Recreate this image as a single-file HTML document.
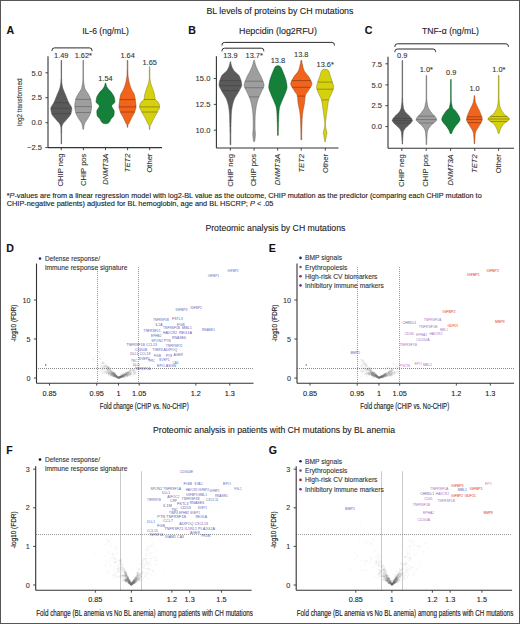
<!DOCTYPE html>
<html><head><meta charset="utf-8"><style>
html,body{margin:0;padding:0;background:#fff;}
#wrap{position:relative;width:520px;height:624px;overflow:hidden;background:#fff;}
svg{position:absolute;left:0;top:0;}
svg text{font-family:"Liberation Sans", sans-serif;}
</style></head><body><div id="wrap">
<svg width="520" height="624" viewBox="0 0 520 624">
<rect x="0.5" y="0.5" width="519" height="623" fill="#fff" stroke="#555" stroke-width="1"/>
<text x="6.50" y="34.40" font-size="10.6" fill="#111" stroke="#111" stroke-width="0.1" font-weight="bold" >A</text>
<text x="105.50" y="34.40" font-size="8.7" fill="#222" stroke="#222" stroke-width="0.1" text-anchor="middle" textLength="46.50" lengthAdjust="spacingAndGlyphs" >IL-6 (ng/mL)</text>
<text x="21.60" y="102.30" font-size="7.2" fill="#333" stroke="#333" stroke-width="0.1" text-anchor="middle" textLength="47.40" lengthAdjust="spacingAndGlyphs" transform="rotate(-90 21.60 102.30)" >log2 transformed</text>
<line x1="48.00" y1="56.30" x2="48.00" y2="147.60" stroke="#333" stroke-width="1.1" />
<line x1="48.00" y1="147.60" x2="162.00" y2="147.60" stroke="#333" stroke-width="1.1" />
<line x1="45.40" y1="72.80" x2="48.00" y2="72.80" stroke="#333" stroke-width="0.9" />
<text x="42.00" y="75.50" font-size="7.6" fill="#333" stroke="#333" stroke-width="0.1" text-anchor="end" >5.0</text>
<line x1="45.40" y1="97.70" x2="48.00" y2="97.70" stroke="#333" stroke-width="0.9" />
<text x="42.00" y="100.40" font-size="7.6" fill="#333" stroke="#333" stroke-width="0.1" text-anchor="end" >2.5</text>
<line x1="45.40" y1="122.70" x2="48.00" y2="122.70" stroke="#333" stroke-width="0.9" />
<text x="42.00" y="125.40" font-size="7.6" fill="#333" stroke="#333" stroke-width="0.1" text-anchor="end" >0.0</text>
<line x1="45.40" y1="147.60" x2="48.00" y2="147.60" stroke="#333" stroke-width="0.9" />
<text x="42.00" y="150.30" font-size="7.6" fill="#333" stroke="#333" stroke-width="0.1" text-anchor="end" >−2.5</text>
<line x1="61.20" y1="147.60" x2="61.20" y2="150.20" stroke="#333" stroke-width="0.9" />
<text x="63.50" y="153.60" font-size="7.6" fill="#333" stroke="#333" stroke-width="0.1" text-anchor="end" transform="rotate(-90 63.50 153.60)" >CHIP neg</text>
<line x1="83.40" y1="147.60" x2="83.40" y2="150.20" stroke="#333" stroke-width="0.9" />
<text x="85.70" y="153.60" font-size="7.6" fill="#333" stroke="#333" stroke-width="0.1" text-anchor="end" transform="rotate(-90 85.70 153.60)" >CHIP pos</text>
<line x1="105.50" y1="147.60" x2="105.50" y2="150.20" stroke="#333" stroke-width="0.9" />
<text x="107.80" y="153.60" font-size="7.6" fill="#333" stroke="#333" stroke-width="0.1" text-anchor="end" font-style="italic" transform="rotate(-90 107.80 153.60)" >DNMT3A</text>
<line x1="127.60" y1="147.60" x2="127.60" y2="150.20" stroke="#333" stroke-width="0.9" />
<text x="129.90" y="153.60" font-size="7.6" fill="#333" stroke="#333" stroke-width="0.1" text-anchor="end" font-style="italic" transform="rotate(-90 129.90 153.60)" >TET2</text>
<line x1="149.70" y1="147.60" x2="149.70" y2="150.20" stroke="#333" stroke-width="0.9" />
<text x="152.00" y="153.60" font-size="7.6" fill="#333" stroke="#333" stroke-width="0.1" text-anchor="end" transform="rotate(-90 152.00 153.60)" >Other</text>
<path d="M52.00,51.10 L52.00,50.40 Q52.00,47.90 54.50,47.90 L89.50,47.90 Q92.00,47.90 92.00,50.40 L92.00,51.10" fill="none" stroke="#2a2a2a" stroke-width="1.0"/>
<text x="61.30" y="57.80" font-size="7.4" fill="#333" stroke="#333" stroke-width="0.1" text-anchor="middle" >1.49</text>
<text x="83.30" y="57.80" font-size="7.4" fill="#333" stroke="#333" stroke-width="0.1" text-anchor="middle" >1.62*</text>
<text x="105.50" y="80.60" font-size="7.4" fill="#333" stroke="#333" stroke-width="0.1" text-anchor="middle" >1.54</text>
<text x="127.60" y="57.80" font-size="7.4" fill="#333" stroke="#333" stroke-width="0.1" text-anchor="middle" >1.64</text>
<text x="149.70" y="64.80" font-size="7.4" fill="#333" stroke="#333" stroke-width="0.1" text-anchor="middle" >1.65</text>
<path d="M61.6,60.3 61.6,60.8 61.6,61.3 61.6,61.8 61.6,62.3 61.6,62.8 61.6,63.3 61.6,63.8 61.6,64.3 61.6,64.8 61.6,65.3 61.6,65.8 61.6,66.3 61.6,66.8 61.6,67.3 61.6,67.8 61.6,68.3 61.6,68.8 61.6,69.3 61.6,69.8 61.6,70.3 61.6,70.8 61.6,71.3 61.6,71.8 61.6,72.3 61.6,72.8 61.6,73.3 61.6,73.8 61.6,74.3 61.6,74.8 61.6,75.3 61.6,75.8 61.6,76.3 61.6,76.8 61.6,77.3 61.6,77.8 61.6,78.3 61.6,78.8 61.7,79.3 61.7,79.8 61.7,80.3 61.7,80.8 61.7,81.3 61.7,81.8 61.8,82.3 61.8,82.8 61.9,83.3 62.0,83.8 62.0,84.3 62.1,84.8 62.2,85.3 62.3,85.8 62.4,86.3 62.5,86.8 62.6,87.3 62.7,87.8 62.9,88.3 63.0,88.8 63.2,89.3 63.4,89.8 63.6,90.3 63.8,90.8 64.0,91.3 64.2,91.8 64.4,92.3 64.6,92.8 64.9,93.3 65.1,93.8 65.3,94.3 65.5,94.8 65.7,95.3 65.9,95.8 66.1,96.3 66.3,96.8 66.5,97.3 66.7,97.8 66.9,98.3 67.1,98.8 67.3,99.3 67.5,99.8 67.7,100.3 67.9,100.8 68.1,101.3 68.3,101.8 68.6,102.3 68.8,102.8 69.1,103.3 69.4,103.8 69.7,104.3 70.1,104.8 70.4,105.3 70.7,105.8 71.0,106.3 71.3,106.8 71.5,107.3 71.7,107.8 71.8,108.3 71.8,108.8 71.8,109.3 71.7,109.8 71.7,110.3 71.6,110.8 71.5,111.3 71.4,111.8 71.3,112.3 71.1,112.8 71.0,113.3 70.9,113.8 70.7,114.3 70.4,114.8 70.1,115.3 69.8,115.8 69.4,116.3 69.0,116.8 68.6,117.3 68.1,117.8 67.7,118.3 67.2,118.8 66.8,119.3 66.4,119.8 66.0,120.3 65.5,120.8 65.1,121.3 64.6,121.8 64.1,122.3 63.7,122.8 63.3,123.3 62.9,123.8 62.7,124.3 62.5,124.8 62.3,125.3 62.1,125.8 62.0,126.3 61.9,126.8 61.8,127.3 61.7,127.8 61.7,128.3 61.7,128.8 61.7,129.3 61.7,129.8 61.7,130.3 61.7,130.8 61.7,131.3 61.7,131.8 61.7,132.3 61.7,132.8 61.6,133.3 61.6,133.8 61.6,134.3 61.6,134.8 61.6,135.3 61.6,135.8 61.6,136.3 61.6,136.8 61.6,137.3 61.6,137.8 61.6,138.3 61.6,138.8 61.6,139.3 61.6,139.8 61.6,140.3 61.6,140.8 61.6,141.3 61.6,141.8 61.6,142.3 61.6,142.8 61.6,143.3 61.6,143.8 61.0,143.8 61.0,143.3 61.0,142.8 61.0,142.3 61.0,141.8 61.0,141.3 61.0,140.8 61.0,140.3 61.0,139.8 61.0,139.3 61.0,138.8 61.0,138.3 61.0,137.8 61.0,137.3 61.0,136.8 61.0,136.3 61.0,135.8 61.0,135.3 61.0,134.8 61.0,134.3 61.0,133.8 61.0,133.3 60.9,132.8 60.9,132.3 60.9,131.8 60.9,131.3 60.9,130.8 60.9,130.3 60.9,129.8 60.9,129.3 60.9,128.8 60.9,128.3 60.9,127.8 60.8,127.3 60.7,126.8 60.6,126.3 60.5,125.8 60.3,125.3 60.1,124.8 59.9,124.3 59.7,123.8 59.3,123.3 58.9,122.8 58.5,122.3 58.0,121.8 57.5,121.3 57.1,120.8 56.6,120.3 56.2,119.8 55.8,119.3 55.4,118.8 54.9,118.3 54.5,117.8 54.0,117.3 53.6,116.8 53.2,116.3 52.8,115.8 52.5,115.3 52.2,114.8 51.9,114.3 51.7,113.8 51.6,113.3 51.5,112.8 51.3,112.3 51.2,111.8 51.1,111.3 51.0,110.8 50.9,110.3 50.9,109.8 50.8,109.3 50.8,108.8 50.8,108.3 50.9,107.8 51.1,107.3 51.3,106.8 51.6,106.3 51.9,105.8 52.2,105.3 52.5,104.8 52.9,104.3 53.2,103.8 53.5,103.3 53.8,102.8 54.0,102.3 54.3,101.8 54.5,101.3 54.7,100.8 54.9,100.3 55.1,99.8 55.3,99.3 55.5,98.8 55.7,98.3 55.9,97.8 56.1,97.3 56.3,96.8 56.5,96.3 56.7,95.8 56.9,95.3 57.1,94.8 57.3,94.3 57.5,93.8 57.7,93.3 58.0,92.8 58.2,92.3 58.4,91.8 58.6,91.3 58.8,90.8 59.0,90.3 59.2,89.8 59.4,89.3 59.6,88.8 59.7,88.3 59.9,87.8 60.0,87.3 60.1,86.8 60.2,86.3 60.3,85.8 60.4,85.3 60.5,84.8 60.6,84.3 60.6,83.8 60.7,83.3 60.8,82.8 60.8,82.3 60.9,81.8 60.9,81.3 60.9,80.8 60.9,80.3 60.9,79.8 60.9,79.3 61.0,78.8 61.0,78.3 61.0,77.8 61.0,77.3 61.0,76.8 61.0,76.3 61.0,75.8 61.0,75.3 61.0,74.8 61.0,74.3 61.0,73.8 61.0,73.3 61.0,72.8 61.0,72.3 61.0,71.8 61.0,71.3 61.0,70.8 61.0,70.3 61.0,69.8 61.0,69.3 61.0,68.8 61.0,68.3 61.0,67.8 61.0,67.3 61.0,66.8 61.0,66.3 61.0,65.8 61.0,65.3 61.0,64.8 61.0,64.3 61.0,63.8 61.0,63.3 61.0,62.8 61.0,62.3 61.0,61.8 61.0,61.3 61.0,60.8 61.0,60.3Z" fill="#5a5a5a" stroke="#505050" stroke-width="0.5"/>
<line x1="53.90" y1="102.60" x2="68.70" y2="102.60" stroke="#3c3c3c" stroke-width="0.5" />
<line x1="50.83" y1="108.20" x2="71.77" y2="108.20" stroke="#3c3c3c" stroke-width="0.5" />
<line x1="51.70" y1="113.70" x2="70.90" y2="113.70" stroke="#3c3c3c" stroke-width="0.5" />
<path d="M83.5,60.3 83.5,60.8 83.5,61.3 83.5,61.8 83.5,62.3 83.5,62.8 83.5,63.3 83.5,63.8 83.5,64.3 83.5,64.8 83.5,65.3 83.5,65.8 83.5,66.3 83.5,66.8 83.5,67.3 83.5,67.8 83.5,68.3 83.5,68.8 83.5,69.3 83.5,69.8 83.5,70.3 83.5,70.8 83.5,71.3 83.5,71.8 83.5,72.3 83.5,72.8 83.5,73.3 83.5,73.8 83.5,74.3 83.5,74.8 83.5,75.3 83.5,75.8 83.5,76.3 83.5,76.8 83.5,77.3 83.5,77.8 83.5,78.3 83.5,78.8 83.6,79.3 83.6,79.8 83.6,80.3 83.6,80.8 83.6,81.3 83.7,81.8 83.7,82.3 83.8,82.8 83.9,83.3 83.9,83.8 84.0,84.3 84.1,84.8 84.2,85.3 84.3,85.8 84.4,86.3 84.4,86.8 84.5,87.3 84.7,87.8 84.8,88.3 85.0,88.8 85.2,89.3 85.5,89.8 85.8,90.3 86.1,90.8 86.4,91.3 86.8,91.8 87.1,92.3 87.5,92.8 87.8,93.3 88.1,93.8 88.4,94.3 88.7,94.8 89.0,95.3 89.2,95.8 89.5,96.3 89.7,96.8 90.0,97.3 90.2,97.8 90.4,98.3 90.5,98.8 90.7,99.3 90.8,99.8 90.9,100.3 91.0,100.8 91.1,101.3 91.1,101.8 91.2,102.3 91.3,102.8 91.4,103.3 91.4,103.8 91.5,104.3 91.5,104.8 91.6,105.3 91.6,105.8 91.6,106.3 91.6,106.8 91.6,107.3 91.5,107.8 91.5,108.3 91.4,108.8 91.4,109.3 91.3,109.8 91.2,110.3 91.1,110.8 91.0,111.3 90.9,111.8 90.7,112.3 90.6,112.8 90.5,113.3 90.3,113.8 90.1,114.3 89.8,114.8 89.6,115.3 89.3,115.8 89.0,116.3 88.8,116.8 88.5,117.3 88.2,117.8 87.9,118.3 87.6,118.8 87.3,119.3 87.0,119.8 86.6,120.3 86.3,120.8 85.9,121.3 85.6,121.8 85.2,122.3 85.0,122.8 84.7,123.3 84.6,123.8 84.4,124.3 84.3,124.8 84.1,125.3 84.0,125.8 83.9,126.3 83.9,126.8 83.8,127.3 83.7,127.8 83.6,128.3 83.6,128.8 83.5,129.3 82.9,129.3 82.8,128.8 82.8,128.3 82.7,127.8 82.6,127.3 82.5,126.8 82.5,126.3 82.4,125.8 82.3,125.3 82.1,124.8 82.0,124.3 81.8,123.8 81.7,123.3 81.4,122.8 81.2,122.3 80.8,121.8 80.5,121.3 80.1,120.8 79.8,120.3 79.4,119.8 79.1,119.3 78.8,118.8 78.5,118.3 78.2,117.8 77.9,117.3 77.6,116.8 77.4,116.3 77.1,115.8 76.8,115.3 76.6,114.8 76.3,114.3 76.1,113.8 75.9,113.3 75.8,112.8 75.7,112.3 75.5,111.8 75.4,111.3 75.3,110.8 75.2,110.3 75.1,109.8 75.0,109.3 75.0,108.8 74.9,108.3 74.9,107.8 74.8,107.3 74.8,106.8 74.8,106.3 74.8,105.8 74.8,105.3 74.9,104.8 74.9,104.3 75.0,103.8 75.0,103.3 75.1,102.8 75.2,102.3 75.3,101.8 75.3,101.3 75.4,100.8 75.5,100.3 75.6,99.8 75.7,99.3 75.9,98.8 76.0,98.3 76.2,97.8 76.4,97.3 76.7,96.8 76.9,96.3 77.2,95.8 77.4,95.3 77.7,94.8 78.0,94.3 78.3,93.8 78.6,93.3 78.9,92.8 79.3,92.3 79.6,91.8 80.0,91.3 80.3,90.8 80.6,90.3 80.9,89.8 81.2,89.3 81.4,88.8 81.6,88.3 81.7,87.8 81.9,87.3 82.0,86.8 82.0,86.3 82.1,85.8 82.2,85.3 82.3,84.8 82.4,84.3 82.5,83.8 82.5,83.3 82.6,82.8 82.7,82.3 82.7,81.8 82.8,81.3 82.8,80.8 82.8,80.3 82.8,79.8 82.8,79.3 82.9,78.8 82.9,78.3 82.9,77.8 82.9,77.3 82.9,76.8 82.9,76.3 82.9,75.8 82.9,75.3 82.9,74.8 82.9,74.3 82.9,73.8 82.9,73.3 82.9,72.8 82.9,72.3 82.9,71.8 82.9,71.3 82.9,70.8 82.9,70.3 82.9,69.8 82.9,69.3 82.9,68.8 82.9,68.3 82.9,67.8 82.9,67.3 82.9,66.8 82.9,66.3 82.9,65.8 82.9,65.3 82.9,64.8 82.9,64.3 82.9,63.8 82.9,63.3 82.9,62.8 82.9,62.3 82.9,61.8 82.9,61.3 82.9,60.8 82.9,60.3Z" fill="#9e9e9e" stroke="#5a5a5a" stroke-width="0.5"/>
<line x1="75.70" y1="99.40" x2="90.70" y2="99.40" stroke="#505050" stroke-width="0.5" />
<line x1="74.80" y1="106.60" x2="91.60" y2="106.60" stroke="#505050" stroke-width="0.5" />
<line x1="75.70" y1="112.50" x2="90.70" y2="112.50" stroke="#505050" stroke-width="0.5" />
<path d="M105.9,83.3 105.9,83.8 106.0,84.3 106.1,84.8 106.3,85.3 106.4,85.8 106.6,86.3 106.8,86.8 107.1,87.3 107.4,87.8 107.8,88.3 108.1,88.8 108.5,89.3 109.0,89.8 109.5,90.3 110.0,90.8 110.5,91.3 111.0,91.8 111.4,92.3 111.7,92.8 112.0,93.3 112.4,93.8 112.7,94.3 113.0,94.8 113.3,95.3 113.6,95.8 113.9,96.3 114.1,96.8 114.2,97.3 114.4,97.8 114.5,98.3 114.6,98.8 114.7,99.3 114.7,99.8 114.8,100.3 114.9,100.8 114.9,101.3 114.9,101.8 114.8,102.3 114.5,102.8 114.0,103.3 113.5,103.8 112.9,104.3 112.4,104.8 111.9,105.3 111.7,105.8 111.7,106.3 111.9,106.8 112.1,107.3 112.4,107.8 112.7,108.3 113.1,108.8 113.4,109.3 113.7,109.8 114.0,110.3 114.1,110.8 114.2,111.3 114.2,111.8 114.2,112.3 114.2,112.8 114.1,113.3 114.1,113.8 114.0,114.3 114.0,114.8 113.9,115.3 113.8,115.8 113.5,116.3 113.1,116.8 112.6,117.3 112.1,117.8 111.7,118.3 111.2,118.8 110.9,119.3 110.6,119.8 110.4,120.3 110.1,120.8 109.8,121.3 109.5,121.8 109.1,122.3 108.7,122.8 107.9,123.3 105.8,123.8 105.2,123.8 103.1,123.3 102.3,122.8 101.9,122.3 101.5,121.8 101.2,121.3 100.9,120.8 100.6,120.3 100.4,119.8 100.1,119.3 99.8,118.8 99.3,118.3 98.9,117.8 98.4,117.3 97.9,116.8 97.5,116.3 97.2,115.8 97.1,115.3 97.0,114.8 97.0,114.3 96.9,113.8 96.9,113.3 96.8,112.8 96.8,112.3 96.8,111.8 96.8,111.3 96.9,110.8 97.0,110.3 97.3,109.8 97.6,109.3 97.9,108.8 98.3,108.3 98.6,107.8 98.9,107.3 99.1,106.8 99.3,106.3 99.3,105.8 99.1,105.3 98.6,104.8 98.1,104.3 97.5,103.8 97.0,103.3 96.5,102.8 96.2,102.3 96.1,101.8 96.1,101.3 96.1,100.8 96.2,100.3 96.3,99.8 96.3,99.3 96.4,98.8 96.5,98.3 96.6,97.8 96.8,97.3 96.9,96.8 97.1,96.3 97.4,95.8 97.7,95.3 98.0,94.8 98.3,94.3 98.6,93.8 99.0,93.3 99.3,92.8 99.6,92.3 100.0,91.8 100.5,91.3 101.0,90.8 101.5,90.3 102.0,89.8 102.5,89.3 102.9,88.8 103.2,88.3 103.6,87.8 103.9,87.3 104.2,86.8 104.4,86.3 104.6,85.8 104.7,85.3 104.9,84.8 105.0,84.3 105.1,83.8 105.1,83.3Z" fill="#14803a" stroke="#0f4d1d" stroke-width="0.5"/>
<path d="M127.8,60.3 127.8,60.8 127.8,61.3 127.8,61.8 127.8,62.3 127.8,62.8 127.8,63.3 127.8,63.8 127.8,64.3 127.8,64.8 127.8,65.3 127.8,65.8 127.8,66.3 127.8,66.8 127.8,67.3 127.8,67.8 127.8,68.3 127.8,68.8 127.8,69.3 127.8,69.8 127.8,70.3 127.9,70.8 127.9,71.3 127.9,71.8 127.9,72.3 127.9,72.8 127.9,73.3 127.9,73.8 127.9,74.3 128.0,74.8 128.0,75.3 128.0,75.8 128.1,76.3 128.2,76.8 128.3,77.3 128.3,77.8 128.4,78.3 128.5,78.8 128.6,79.3 128.7,79.8 128.7,80.3 128.8,80.8 128.9,81.3 129.0,81.8 129.1,82.3 129.3,82.8 129.4,83.3 129.5,83.8 129.7,84.3 129.8,84.8 130.0,85.3 130.1,85.8 130.3,86.3 130.5,86.8 130.7,87.3 130.9,87.8 131.1,88.3 131.3,88.8 131.5,89.3 131.7,89.8 131.9,90.3 132.2,90.8 132.5,91.3 132.8,91.8 133.1,92.3 133.4,92.8 133.7,93.3 134.0,93.8 134.2,94.3 134.4,94.8 134.5,95.3 134.6,95.8 134.7,96.3 134.8,96.8 134.9,97.3 135.0,97.8 135.1,98.3 135.2,98.8 135.2,99.3 135.3,99.8 135.4,100.3 135.4,100.8 135.5,101.3 135.6,101.8 135.6,102.3 135.7,102.8 135.8,103.3 135.8,103.8 135.9,104.3 135.9,104.8 136.0,105.3 136.0,105.8 136.0,106.3 136.0,106.8 136.0,107.3 135.9,107.8 135.8,108.3 135.7,108.8 135.5,109.3 135.4,109.8 135.2,110.3 135.0,110.8 134.8,111.3 134.7,111.8 134.5,112.3 134.3,112.8 134.1,113.3 133.8,113.8 133.6,114.3 133.3,114.8 133.0,115.3 132.7,115.8 132.4,116.3 132.1,116.8 131.9,117.3 131.6,117.8 131.4,118.3 131.1,118.8 130.9,119.3 130.7,119.8 130.4,120.3 130.2,120.8 130.0,121.3 129.8,121.8 129.5,122.3 129.3,122.8 129.0,123.3 128.7,123.8 128.3,124.3 128.0,124.8 127.9,125.3 127.9,125.8 127.8,126.3 127.8,126.8 127.8,127.3 127.2,127.3 127.2,126.8 127.2,126.3 127.1,125.8 127.1,125.3 127.0,124.8 126.7,124.3 126.3,123.8 126.0,123.3 125.7,122.8 125.5,122.3 125.2,121.8 125.0,121.3 124.8,120.8 124.6,120.3 124.3,119.8 124.1,119.3 123.9,118.8 123.6,118.3 123.4,117.8 123.1,117.3 122.9,116.8 122.6,116.3 122.3,115.8 122.0,115.3 121.7,114.8 121.4,114.3 121.2,113.8 120.9,113.3 120.7,112.8 120.5,112.3 120.3,111.8 120.2,111.3 120.0,110.8 119.8,110.3 119.6,109.8 119.5,109.3 119.3,108.8 119.2,108.3 119.1,107.8 119.0,107.3 119.0,106.8 119.0,106.3 119.0,105.8 119.0,105.3 119.1,104.8 119.1,104.3 119.2,103.8 119.2,103.3 119.3,102.8 119.4,102.3 119.4,101.8 119.5,101.3 119.6,100.8 119.6,100.3 119.7,99.8 119.8,99.3 119.8,98.8 119.9,98.3 120.0,97.8 120.1,97.3 120.2,96.8 120.3,96.3 120.4,95.8 120.5,95.3 120.6,94.8 120.8,94.3 121.0,93.8 121.3,93.3 121.6,92.8 121.9,92.3 122.2,91.8 122.5,91.3 122.8,90.8 123.1,90.3 123.3,89.8 123.5,89.3 123.7,88.8 123.9,88.3 124.1,87.8 124.3,87.3 124.5,86.8 124.7,86.3 124.9,85.8 125.0,85.3 125.2,84.8 125.3,84.3 125.5,83.8 125.6,83.3 125.7,82.8 125.9,82.3 126.0,81.8 126.1,81.3 126.2,80.8 126.3,80.3 126.3,79.8 126.4,79.3 126.5,78.8 126.6,78.3 126.7,77.8 126.7,77.3 126.8,76.8 126.9,76.3 127.0,75.8 127.0,75.3 127.0,74.8 127.1,74.3 127.1,73.8 127.1,73.3 127.1,72.8 127.1,72.3 127.1,71.8 127.1,71.3 127.1,70.8 127.2,70.3 127.2,69.8 127.2,69.3 127.2,68.8 127.2,68.3 127.2,67.8 127.2,67.3 127.2,66.8 127.2,66.3 127.2,65.8 127.2,65.3 127.2,64.8 127.2,64.3 127.2,63.8 127.2,63.3 127.2,62.8 127.2,62.3 127.2,61.8 127.2,61.3 127.2,60.8 127.2,60.3Z" fill="#f2641c" stroke="#8f3a0e" stroke-width="0.5"/>
<line x1="119.74" y1="99.60" x2="135.26" y2="99.60" stroke="#5a2a0a" stroke-width="0.5" />
<line x1="119.01" y1="106.90" x2="135.99" y2="106.90" stroke="#5a2a0a" stroke-width="0.5" />
<line x1="120.40" y1="112.00" x2="134.60" y2="112.00" stroke="#5a2a0a" stroke-width="0.5" />
<path d="M149.8,66.5 149.8,67.0 149.8,67.5 149.8,68.0 149.8,68.5 149.8,69.0 149.8,69.5 149.9,70.0 149.9,70.5 149.9,71.0 149.9,71.5 149.9,72.0 149.9,72.5 149.9,73.0 149.9,73.5 149.9,74.0 149.9,74.5 149.9,75.0 149.9,75.5 149.9,76.0 149.9,76.5 149.9,77.0 149.9,77.5 150.0,78.0 150.0,78.5 150.0,79.0 150.1,79.5 150.1,80.0 150.2,80.5 150.3,81.0 150.4,81.5 150.5,82.0 150.6,82.5 150.7,83.0 150.8,83.5 151.0,84.0 151.1,84.5 151.3,85.0 151.5,85.5 151.7,86.0 151.9,86.5 152.1,87.0 152.3,87.5 152.4,88.0 152.6,88.5 152.8,89.0 152.9,89.5 153.1,90.0 153.3,90.5 153.4,91.0 153.6,91.5 153.8,92.0 153.9,92.5 154.1,93.0 154.2,93.5 154.3,94.0 154.5,94.5 154.6,95.0 154.7,95.5 154.7,96.0 154.8,96.5 154.8,97.0 154.9,97.5 154.9,98.0 155.0,98.5 155.1,99.0 155.3,99.5 155.8,100.0 156.4,100.5 157.1,101.0 157.6,101.5 158.0,102.0 158.3,102.5 158.6,103.0 158.9,103.5 159.1,104.0 159.3,104.5 159.4,105.0 159.5,105.5 159.5,106.0 159.6,106.5 159.6,107.0 159.5,107.5 159.4,108.0 159.3,108.5 159.0,109.0 158.8,109.5 158.5,110.0 158.2,110.5 157.9,111.0 157.7,111.5 157.4,112.0 157.2,112.5 156.9,113.0 156.6,113.5 156.3,114.0 156.1,114.5 155.8,115.0 155.5,115.5 155.2,116.0 154.9,116.5 154.6,117.0 154.4,117.5 154.1,118.0 153.8,118.5 153.6,119.0 153.3,119.5 153.1,120.0 152.8,120.5 152.6,121.0 152.4,121.5 152.1,122.0 151.9,122.5 151.6,123.0 151.4,123.5 151.1,124.0 150.8,124.5 150.5,125.0 150.2,125.5 150.0,126.0 150.0,126.5 149.9,127.0 149.9,127.5 149.9,128.0 149.9,128.5 149.8,129.0 149.8,129.5 149.4,129.5 149.4,129.0 149.3,128.5 149.3,128.0 149.3,127.5 149.3,127.0 149.2,126.5 149.2,126.0 149.0,125.5 148.7,125.0 148.4,124.5 148.1,124.0 147.8,123.5 147.6,123.0 147.3,122.5 147.1,122.0 146.8,121.5 146.6,121.0 146.4,120.5 146.1,120.0 145.9,119.5 145.6,119.0 145.4,118.5 145.1,118.0 144.8,117.5 144.6,117.0 144.3,116.5 144.0,116.0 143.7,115.5 143.4,115.0 143.1,114.5 142.9,114.0 142.6,113.5 142.3,113.0 142.0,112.5 141.8,112.0 141.5,111.5 141.3,111.0 141.0,110.5 140.7,110.0 140.4,109.5 140.2,109.0 139.9,108.5 139.8,108.0 139.7,107.5 139.6,107.0 139.6,106.5 139.7,106.0 139.7,105.5 139.8,105.0 139.9,104.5 140.1,104.0 140.3,103.5 140.6,103.0 140.9,102.5 141.2,102.0 141.6,101.5 142.1,101.0 142.8,100.5 143.4,100.0 143.9,99.5 144.1,99.0 144.2,98.5 144.3,98.0 144.3,97.5 144.4,97.0 144.4,96.5 144.5,96.0 144.5,95.5 144.6,95.0 144.7,94.5 144.9,94.0 145.0,93.5 145.1,93.0 145.3,92.5 145.4,92.0 145.6,91.5 145.8,91.0 145.9,90.5 146.1,90.0 146.3,89.5 146.4,89.0 146.6,88.5 146.8,88.0 146.9,87.5 147.1,87.0 147.3,86.5 147.5,86.0 147.7,85.5 147.9,85.0 148.1,84.5 148.2,84.0 148.4,83.5 148.5,83.0 148.6,82.5 148.7,82.0 148.8,81.5 148.9,81.0 149.0,80.5 149.1,80.0 149.1,79.5 149.2,79.0 149.2,78.5 149.2,78.0 149.3,77.5 149.3,77.0 149.3,76.5 149.3,76.0 149.3,75.5 149.3,75.0 149.3,74.5 149.3,74.0 149.3,73.5 149.3,73.0 149.3,72.5 149.3,72.0 149.3,71.5 149.3,71.0 149.3,70.5 149.3,70.0 149.4,69.5 149.4,69.0 149.4,68.5 149.4,68.0 149.4,67.5 149.4,67.0 149.4,66.5Z" fill="#d6d10f" stroke="#7d7a10" stroke-width="0.5"/>
<line x1="143.91" y1="99.50" x2="155.29" y2="99.50" stroke="#5a5208" stroke-width="0.5" />
<line x1="139.60" y1="106.90" x2="159.60" y2="106.90" stroke="#5a5208" stroke-width="0.5" />
<line x1="141.80" y1="112.00" x2="157.40" y2="112.00" stroke="#5a5208" stroke-width="0.5" />
<text x="188.20" y="34.30" font-size="10.6" fill="#111" stroke="#111" stroke-width="0.1" font-weight="bold" >B</text>
<text x="278.00" y="34.40" font-size="8.7" fill="#222" stroke="#222" stroke-width="0.1" text-anchor="middle" textLength="78.00" lengthAdjust="spacingAndGlyphs" >Hepcidin (log2RFU)</text>
<line x1="216.40" y1="56.30" x2="216.40" y2="148.00" stroke="#333" stroke-width="1.1" />
<line x1="216.40" y1="148.00" x2="338.50" y2="148.00" stroke="#333" stroke-width="1.1" />
<line x1="213.80" y1="78.50" x2="216.40" y2="78.50" stroke="#333" stroke-width="0.9" />
<text x="210.40" y="81.20" font-size="7.6" fill="#333" stroke="#333" stroke-width="0.1" text-anchor="end" >15.0</text>
<line x1="213.80" y1="104.40" x2="216.40" y2="104.40" stroke="#333" stroke-width="0.9" />
<text x="210.40" y="107.10" font-size="7.6" fill="#333" stroke="#333" stroke-width="0.1" text-anchor="end" >12.5</text>
<line x1="213.80" y1="130.20" x2="216.40" y2="130.20" stroke="#333" stroke-width="0.9" />
<text x="210.40" y="132.90" font-size="7.6" fill="#333" stroke="#333" stroke-width="0.1" text-anchor="end" >10.0</text>
<line x1="230.30" y1="148.00" x2="230.30" y2="150.60" stroke="#333" stroke-width="0.9" />
<text x="232.60" y="154.00" font-size="7.6" fill="#333" stroke="#333" stroke-width="0.1" text-anchor="end" transform="rotate(-90 232.60 154.00)" >CHIP neg</text>
<line x1="254.10" y1="148.00" x2="254.10" y2="150.60" stroke="#333" stroke-width="0.9" />
<text x="256.40" y="154.00" font-size="7.6" fill="#333" stroke="#333" stroke-width="0.1" text-anchor="end" transform="rotate(-90 256.40 154.00)" >CHIP pos</text>
<line x1="277.70" y1="148.00" x2="277.70" y2="150.60" stroke="#333" stroke-width="0.9" />
<text x="280.00" y="154.00" font-size="7.6" fill="#333" stroke="#333" stroke-width="0.1" text-anchor="end" font-style="italic" transform="rotate(-90 280.00 154.00)" >DNMT3A</text>
<line x1="301.20" y1="148.00" x2="301.20" y2="150.60" stroke="#333" stroke-width="0.9" />
<text x="303.50" y="154.00" font-size="7.6" fill="#333" stroke="#333" stroke-width="0.1" text-anchor="end" font-style="italic" transform="rotate(-90 303.50 154.00)" >TET2</text>
<line x1="325.30" y1="148.00" x2="325.30" y2="150.60" stroke="#333" stroke-width="0.9" />
<text x="327.60" y="154.00" font-size="7.6" fill="#333" stroke="#333" stroke-width="0.1" text-anchor="end" transform="rotate(-90 327.60 154.00)" >Other</text>
<path d="M222.00,45.60 L222.00,44.90 Q222.00,42.40 224.50,42.40 L331.90,42.40 Q334.40,42.40 334.40,44.90 L334.40,45.60" fill="none" stroke="#2a2a2a" stroke-width="1.0"/>
<path d="M222.00,51.40 L222.00,50.70 Q222.00,48.20 224.50,48.20 L261.30,48.20 Q263.80,48.20 263.80,50.70 L263.80,51.40" fill="none" stroke="#2a2a2a" stroke-width="1.0"/>
<text x="230.40" y="57.60" font-size="7.4" fill="#333" stroke="#333" stroke-width="0.1" text-anchor="middle" >13.9</text>
<text x="254.20" y="57.60" font-size="7.4" fill="#333" stroke="#333" stroke-width="0.1" text-anchor="middle" >13.7*</text>
<text x="277.90" y="63.00" font-size="7.4" fill="#333" stroke="#333" stroke-width="0.1" text-anchor="middle" >13.8</text>
<text x="301.30" y="57.00" font-size="7.4" fill="#333" stroke="#333" stroke-width="0.1" text-anchor="middle" >13.8</text>
<text x="325.20" y="67.00" font-size="7.4" fill="#333" stroke="#333" stroke-width="0.1" text-anchor="middle" >13.6*</text>
<path d="M230.7,61.8 230.8,62.3 230.8,62.8 230.9,63.3 231.0,63.8 231.1,64.3 231.3,64.8 231.4,65.3 231.5,65.8 231.7,66.3 231.9,66.8 232.1,67.3 232.3,67.8 232.5,68.3 232.8,68.8 233.1,69.3 233.4,69.8 233.7,70.3 234.0,70.8 234.5,71.3 235.0,71.8 235.5,72.3 236.1,72.8 236.7,73.3 237.3,73.8 237.8,74.3 238.3,74.8 238.8,75.3 239.1,75.8 239.4,76.3 239.6,76.8 239.8,77.3 240.0,77.8 240.2,78.3 240.4,78.8 240.6,79.3 240.8,79.8 240.9,80.3 241.1,80.8 241.2,81.3 241.4,81.8 241.5,82.3 241.5,82.8 241.6,83.3 241.7,83.8 241.7,84.3 241.7,84.8 241.7,85.3 241.6,85.8 241.4,86.3 241.3,86.8 241.1,87.3 240.8,87.8 240.6,88.3 240.3,88.8 240.0,89.3 239.7,89.8 239.4,90.3 239.2,90.8 238.9,91.3 238.6,91.8 238.4,92.3 238.1,92.8 237.8,93.3 237.5,93.8 237.2,94.3 236.8,94.8 236.5,95.3 236.2,95.8 235.9,96.3 235.6,96.8 235.3,97.3 235.0,97.8 234.7,98.3 234.5,98.8 234.3,99.3 234.1,99.8 233.9,100.3 233.8,100.8 233.6,101.3 233.4,101.8 233.3,102.3 233.1,102.8 233.0,103.3 232.8,103.8 232.7,104.3 232.6,104.8 232.5,105.3 232.4,105.8 232.3,106.3 232.2,106.8 232.1,107.3 232.0,107.8 232.0,108.3 231.9,108.8 231.8,109.3 231.7,109.8 231.7,110.3 231.6,110.8 231.6,111.3 231.5,111.8 231.5,112.3 231.4,112.8 231.4,113.3 231.4,113.8 231.3,114.3 231.3,114.8 231.3,115.3 231.3,115.8 231.3,116.3 231.2,116.8 231.2,117.3 231.2,117.8 231.2,118.3 231.2,118.8 231.2,119.3 231.1,119.8 231.1,120.3 231.1,120.8 231.1,121.3 231.1,121.8 231.1,122.3 231.1,122.8 231.0,123.3 231.0,123.8 231.0,124.3 231.0,124.8 231.0,125.3 231.0,125.8 231.0,126.3 231.0,126.8 230.9,127.3 230.9,127.8 230.9,128.3 230.9,128.8 230.9,129.3 230.9,129.8 230.9,130.3 230.9,130.8 230.9,131.3 230.9,131.8 230.9,132.3 230.8,132.8 230.8,133.3 230.8,133.8 230.8,134.3 230.8,134.8 230.8,135.3 230.8,135.8 230.8,136.3 230.8,136.8 230.8,137.3 230.8,137.8 230.8,138.3 230.8,138.8 230.8,139.3 230.8,139.8 230.8,140.3 230.8,140.8 230.8,141.3 230.8,141.8 230.8,142.3 230.8,142.8 230.8,143.3 230.8,143.8 230.8,144.3 230.8,144.8 230.0,144.8 230.0,144.3 230.0,143.8 230.0,143.3 230.0,142.8 230.0,142.3 230.0,141.8 230.0,141.3 230.0,140.8 230.0,140.3 230.0,139.8 230.0,139.3 230.0,138.8 230.0,138.3 230.0,137.8 230.0,137.3 230.0,136.8 230.0,136.3 230.0,135.8 230.0,135.3 230.0,134.8 230.0,134.3 230.0,133.8 230.0,133.3 230.0,132.8 229.9,132.3 229.9,131.8 229.9,131.3 229.9,130.8 229.9,130.3 229.9,129.8 229.9,129.3 229.9,128.8 229.9,128.3 229.9,127.8 229.9,127.3 229.8,126.8 229.8,126.3 229.8,125.8 229.8,125.3 229.8,124.8 229.8,124.3 229.8,123.8 229.8,123.3 229.7,122.8 229.7,122.3 229.7,121.8 229.7,121.3 229.7,120.8 229.7,120.3 229.7,119.8 229.6,119.3 229.6,118.8 229.6,118.3 229.6,117.8 229.6,117.3 229.6,116.8 229.5,116.3 229.5,115.8 229.5,115.3 229.5,114.8 229.5,114.3 229.4,113.8 229.4,113.3 229.4,112.8 229.3,112.3 229.3,111.8 229.2,111.3 229.2,110.8 229.1,110.3 229.1,109.8 229.0,109.3 228.9,108.8 228.8,108.3 228.8,107.8 228.7,107.3 228.6,106.8 228.5,106.3 228.4,105.8 228.3,105.3 228.2,104.8 228.1,104.3 228.0,103.8 227.8,103.3 227.7,102.8 227.5,102.3 227.4,101.8 227.2,101.3 227.0,100.8 226.9,100.3 226.7,99.8 226.5,99.3 226.3,98.8 226.1,98.3 225.8,97.8 225.5,97.3 225.2,96.8 224.9,96.3 224.6,95.8 224.3,95.3 224.0,94.8 223.6,94.3 223.3,93.8 223.0,93.3 222.7,92.8 222.4,92.3 222.2,91.8 221.9,91.3 221.6,90.8 221.4,90.3 221.1,89.8 220.8,89.3 220.5,88.8 220.2,88.3 220.0,87.8 219.7,87.3 219.5,86.8 219.4,86.3 219.2,85.8 219.1,85.3 219.1,84.8 219.1,84.3 219.1,83.8 219.2,83.3 219.3,82.8 219.3,82.3 219.4,81.8 219.6,81.3 219.7,80.8 219.9,80.3 220.0,79.8 220.2,79.3 220.4,78.8 220.6,78.3 220.8,77.8 221.0,77.3 221.2,76.8 221.4,76.3 221.7,75.8 222.0,75.3 222.5,74.8 223.0,74.3 223.5,73.8 224.1,73.3 224.7,72.8 225.3,72.3 225.8,71.8 226.3,71.3 226.8,70.8 227.1,70.3 227.4,69.8 227.7,69.3 228.0,68.8 228.3,68.3 228.5,67.8 228.7,67.3 228.9,66.8 229.1,66.3 229.3,65.8 229.4,65.3 229.5,64.8 229.7,64.3 229.8,63.8 229.9,63.3 230.0,62.8 230.0,62.3 230.1,61.8Z" fill="#5a5a5a" stroke="#505050" stroke-width="0.5"/>
<line x1="219.76" y1="80.60" x2="241.04" y2="80.60" stroke="#3c3c3c" stroke-width="0.5" />
<line x1="219.19" y1="85.60" x2="241.61" y2="85.60" stroke="#3c3c3c" stroke-width="0.5" />
<line x1="221.53" y1="90.60" x2="239.27" y2="90.60" stroke="#3c3c3c" stroke-width="0.5" />
<path d="M254.4,60.3 254.5,60.8 254.6,61.3 254.7,61.8 254.8,62.3 255.0,62.8 255.1,63.3 255.2,63.8 255.4,64.3 255.5,64.8 255.7,65.3 255.9,65.8 256.0,66.3 256.2,66.8 256.4,67.3 256.6,67.8 256.9,68.3 257.1,68.8 257.3,69.3 257.5,69.8 257.7,70.3 258.0,70.8 258.2,71.3 258.5,71.8 258.8,72.3 259.0,72.8 259.3,73.3 259.6,73.8 259.9,74.3 260.1,74.8 260.4,75.3 260.7,75.8 260.9,76.3 261.2,76.8 261.4,77.3 261.6,77.8 261.8,78.3 262.0,78.8 262.2,79.3 262.4,79.8 262.6,80.3 262.9,80.8 263.1,81.3 263.2,81.8 263.4,82.3 263.6,82.8 263.7,83.3 263.8,83.8 263.9,84.3 264.0,84.8 264.0,85.3 264.0,85.8 263.9,86.3 263.8,86.8 263.6,87.3 263.4,87.8 263.2,88.3 262.9,88.8 262.7,89.3 262.4,89.8 262.1,90.3 261.8,90.8 261.6,91.3 261.3,91.8 261.1,92.3 260.9,92.8 260.7,93.3 260.4,93.8 260.2,94.3 260.0,94.8 259.8,95.3 259.5,95.8 259.3,96.3 259.1,96.8 258.9,97.3 258.6,97.8 258.4,98.3 258.2,98.8 258.1,99.3 257.9,99.8 257.7,100.3 257.6,100.8 257.4,101.3 257.3,101.8 257.2,102.3 257.0,102.8 256.9,103.3 256.8,103.8 256.7,104.3 256.6,104.8 256.5,105.3 256.4,105.8 256.3,106.3 256.2,106.8 256.1,107.3 256.0,107.8 256.0,108.3 255.9,108.8 255.8,109.3 255.8,109.8 255.7,110.3 255.6,110.8 255.6,111.3 255.5,111.8 255.5,112.3 255.4,112.8 255.4,113.3 255.3,113.8 255.3,114.3 255.3,114.8 255.2,115.3 255.2,115.8 255.2,116.3 255.1,116.8 255.1,117.3 255.1,117.8 255.1,118.3 255.1,118.8 255.1,119.3 255.1,119.8 255.1,120.3 255.1,120.8 255.0,121.3 255.0,121.8 255.0,122.3 255.0,122.8 255.0,123.3 255.0,123.8 255.0,124.3 255.0,124.8 255.0,125.3 255.0,125.8 255.0,126.3 255.0,126.8 255.0,127.3 255.0,127.8 255.0,128.3 255.0,128.8 255.0,129.3 255.1,129.8 255.1,130.3 255.2,130.8 255.2,131.3 255.3,131.8 255.3,132.3 255.4,132.8 255.4,133.3 255.4,133.8 255.4,134.3 255.4,134.8 255.4,135.3 255.3,135.8 255.3,136.3 255.2,136.8 255.2,137.3 255.1,137.8 255.1,138.3 255.0,138.8 255.0,139.3 254.9,139.8 254.8,140.3 254.7,140.8 254.5,141.3 254.4,141.8 253.8,141.8 253.7,141.3 253.5,140.8 253.4,140.3 253.3,139.8 253.2,139.3 253.2,138.8 253.1,138.3 253.1,137.8 253.0,137.3 253.0,136.8 252.9,136.3 252.9,135.8 252.8,135.3 252.8,134.8 252.8,134.3 252.8,133.8 252.8,133.3 252.8,132.8 252.9,132.3 252.9,131.8 253.0,131.3 253.0,130.8 253.1,130.3 253.1,129.8 253.2,129.3 253.2,128.8 253.2,128.3 253.2,127.8 253.2,127.3 253.2,126.8 253.2,126.3 253.2,125.8 253.2,125.3 253.2,124.8 253.2,124.3 253.2,123.8 253.2,123.3 253.2,122.8 253.2,122.3 253.2,121.8 253.2,121.3 253.1,120.8 253.1,120.3 253.1,119.8 253.1,119.3 253.1,118.8 253.1,118.3 253.1,117.8 253.1,117.3 253.1,116.8 253.0,116.3 253.0,115.8 253.0,115.3 252.9,114.8 252.9,114.3 252.9,113.8 252.8,113.3 252.8,112.8 252.7,112.3 252.7,111.8 252.6,111.3 252.6,110.8 252.5,110.3 252.4,109.8 252.4,109.3 252.3,108.8 252.2,108.3 252.2,107.8 252.1,107.3 252.0,106.8 251.9,106.3 251.8,105.8 251.7,105.3 251.6,104.8 251.5,104.3 251.4,103.8 251.3,103.3 251.2,102.8 251.0,102.3 250.9,101.8 250.8,101.3 250.6,100.8 250.5,100.3 250.3,99.8 250.1,99.3 250.0,98.8 249.8,98.3 249.6,97.8 249.3,97.3 249.1,96.8 248.9,96.3 248.7,95.8 248.4,95.3 248.2,94.8 248.0,94.3 247.8,93.8 247.5,93.3 247.3,92.8 247.1,92.3 246.9,91.8 246.6,91.3 246.4,90.8 246.1,90.3 245.8,89.8 245.5,89.3 245.3,88.8 245.0,88.3 244.8,87.8 244.6,87.3 244.4,86.8 244.3,86.3 244.2,85.8 244.2,85.3 244.2,84.8 244.3,84.3 244.4,83.8 244.5,83.3 244.6,82.8 244.8,82.3 245.0,81.8 245.1,81.3 245.3,80.8 245.6,80.3 245.8,79.8 246.0,79.3 246.2,78.8 246.4,78.3 246.6,77.8 246.8,77.3 247.0,76.8 247.3,76.3 247.5,75.8 247.8,75.3 248.1,74.8 248.3,74.3 248.6,73.8 248.9,73.3 249.2,72.8 249.4,72.3 249.7,71.8 250.0,71.3 250.2,70.8 250.5,70.3 250.7,69.8 250.9,69.3 251.1,68.8 251.3,68.3 251.6,67.8 251.8,67.3 252.0,66.8 252.2,66.3 252.3,65.8 252.5,65.3 252.7,64.8 252.8,64.3 253.0,63.8 253.1,63.3 253.2,62.8 253.4,62.3 253.5,61.8 253.6,61.3 253.7,60.8 253.8,60.3Z" fill="#9e9e9e" stroke="#5a5a5a" stroke-width="0.5"/>
<line x1="245.18" y1="81.20" x2="263.02" y2="81.20" stroke="#505050" stroke-width="0.5" />
<line x1="244.74" y1="87.70" x2="263.46" y2="87.70" stroke="#505050" stroke-width="0.5" />
<line x1="249.17" y1="96.90" x2="259.03" y2="96.90" stroke="#505050" stroke-width="0.5" />
<path d="M278.8,65.8 280.0,66.3 280.5,66.8 280.8,67.3 281.1,67.8 281.4,68.3 281.6,68.8 281.9,69.3 282.1,69.8 282.3,70.3 282.5,70.8 282.7,71.3 282.9,71.8 283.1,72.3 283.3,72.8 283.5,73.3 283.7,73.8 283.9,74.3 284.1,74.8 284.3,75.3 284.5,75.8 284.7,76.3 284.8,76.8 285.0,77.3 285.2,77.8 285.4,78.3 285.5,78.8 285.7,79.3 285.8,79.8 286.0,80.3 286.1,80.8 286.2,81.3 286.3,81.8 286.4,82.3 286.5,82.8 286.6,83.3 286.7,83.8 286.8,84.3 286.8,84.8 286.9,85.3 286.9,85.8 287.0,86.3 287.0,86.8 287.0,87.3 287.0,87.8 286.9,88.3 286.8,88.8 286.7,89.3 286.5,89.8 286.4,90.3 286.2,90.8 286.0,91.3 285.8,91.8 285.6,92.3 285.4,92.8 285.2,93.3 285.0,93.8 284.8,94.3 284.6,94.8 284.4,95.3 284.2,95.8 284.0,96.3 283.8,96.8 283.6,97.3 283.3,97.8 283.1,98.3 282.9,98.8 282.6,99.3 282.4,99.8 282.2,100.3 282.0,100.8 281.8,101.3 281.6,101.8 281.4,102.3 281.2,102.8 281.0,103.3 280.8,103.8 280.6,104.3 280.4,104.8 280.2,105.3 280.0,105.8 279.9,106.3 279.7,106.8 279.6,107.3 279.5,107.8 279.4,108.3 279.3,108.8 279.3,109.3 279.2,109.8 279.1,110.3 279.1,110.8 279.0,111.3 279.0,111.8 279.0,112.3 278.9,112.8 278.9,113.3 278.9,113.8 278.8,114.3 278.8,114.8 278.8,115.3 278.8,115.8 278.7,116.3 278.7,116.8 278.7,117.3 278.7,117.8 278.7,118.3 278.7,118.8 278.6,119.3 278.6,119.8 278.6,120.3 278.6,120.8 278.6,121.3 278.6,121.8 278.5,122.3 278.5,122.8 278.5,123.3 278.5,123.8 278.5,124.3 278.5,124.8 278.5,125.3 278.4,125.8 278.4,126.3 278.4,126.8 278.4,127.3 278.4,127.8 278.4,128.3 278.4,128.8 278.4,129.3 278.4,129.8 278.4,130.3 278.4,130.8 278.3,131.3 278.3,131.8 278.3,132.3 278.3,132.8 278.3,133.3 278.3,133.8 278.3,134.3 278.3,134.8 278.3,135.3 277.5,135.3 277.5,134.8 277.5,134.3 277.5,133.8 277.5,133.3 277.5,132.8 277.5,132.3 277.5,131.8 277.5,131.3 277.4,130.8 277.4,130.3 277.4,129.8 277.4,129.3 277.4,128.8 277.4,128.3 277.4,127.8 277.4,127.3 277.4,126.8 277.4,126.3 277.4,125.8 277.3,125.3 277.3,124.8 277.3,124.3 277.3,123.8 277.3,123.3 277.3,122.8 277.3,122.3 277.2,121.8 277.2,121.3 277.2,120.8 277.2,120.3 277.2,119.8 277.2,119.3 277.1,118.8 277.1,118.3 277.1,117.8 277.1,117.3 277.1,116.8 277.1,116.3 277.0,115.8 277.0,115.3 277.0,114.8 277.0,114.3 276.9,113.8 276.9,113.3 276.9,112.8 276.8,112.3 276.8,111.8 276.8,111.3 276.7,110.8 276.7,110.3 276.6,109.8 276.5,109.3 276.5,108.8 276.4,108.3 276.3,107.8 276.2,107.3 276.1,106.8 275.9,106.3 275.8,105.8 275.6,105.3 275.4,104.8 275.2,104.3 275.0,103.8 274.8,103.3 274.6,102.8 274.4,102.3 274.2,101.8 274.0,101.3 273.8,100.8 273.6,100.3 273.4,99.8 273.2,99.3 272.9,98.8 272.7,98.3 272.5,97.8 272.2,97.3 272.0,96.8 271.8,96.3 271.6,95.8 271.4,95.3 271.2,94.8 271.0,94.3 270.8,93.8 270.6,93.3 270.4,92.8 270.2,92.3 270.0,91.8 269.8,91.3 269.6,90.8 269.4,90.3 269.3,89.8 269.1,89.3 269.0,88.8 268.9,88.3 268.8,87.8 268.8,87.3 268.8,86.8 268.8,86.3 268.9,85.8 268.9,85.3 269.0,84.8 269.0,84.3 269.1,83.8 269.2,83.3 269.3,82.8 269.4,82.3 269.5,81.8 269.6,81.3 269.7,80.8 269.8,80.3 270.0,79.8 270.1,79.3 270.3,78.8 270.4,78.3 270.6,77.8 270.8,77.3 271.0,76.8 271.1,76.3 271.3,75.8 271.5,75.3 271.7,74.8 271.9,74.3 272.1,73.8 272.3,73.3 272.5,72.8 272.7,72.3 272.9,71.8 273.1,71.3 273.3,70.8 273.5,70.3 273.7,69.8 273.9,69.3 274.2,68.8 274.4,68.3 274.7,67.8 275.0,67.3 275.3,66.8 275.8,66.3 277.0,65.8Z" fill="#14803a" stroke="#0f4d1d" stroke-width="0.5"/>
<path d="M301.6,60.3 301.7,60.8 301.8,61.3 301.9,61.8 301.9,62.3 302.0,62.8 302.1,63.3 302.2,63.8 302.3,64.3 302.5,64.8 302.6,65.3 302.7,65.8 302.8,66.3 302.9,66.8 303.0,67.3 303.1,67.8 303.3,68.3 303.4,68.8 303.6,69.3 303.8,69.8 303.9,70.3 304.2,70.8 304.4,71.3 304.8,71.8 305.1,72.3 305.5,72.8 305.9,73.3 306.3,73.8 306.7,74.3 307.1,74.8 307.6,75.3 308.0,75.8 308.3,76.3 308.7,76.8 309.0,77.3 309.3,77.8 309.6,78.3 309.8,78.8 310.1,79.3 310.4,79.8 310.7,80.3 310.9,80.8 311.2,81.3 311.4,81.8 311.5,82.3 311.7,82.8 311.8,83.3 311.8,83.8 311.8,84.3 311.7,84.8 311.5,85.3 311.3,85.8 311.1,86.3 310.8,86.8 310.5,87.3 310.2,87.8 309.8,88.3 309.5,88.8 309.2,89.3 308.9,89.8 308.6,90.3 308.3,90.8 308.0,91.3 307.6,91.8 307.3,92.3 306.9,92.8 306.5,93.3 306.2,93.8 305.9,94.3 305.6,94.8 305.4,95.3 305.3,95.8 305.2,96.3 305.1,96.8 305.0,97.3 305.0,97.8 304.9,98.3 304.9,98.8 304.9,99.3 304.8,99.8 304.8,100.3 304.7,100.8 304.7,101.3 304.6,101.8 304.6,102.3 304.5,102.8 304.5,103.3 304.4,103.8 304.3,104.3 304.2,104.8 304.1,105.3 304.0,105.8 303.9,106.3 303.8,106.8 303.7,107.3 303.6,107.8 303.5,108.3 303.4,108.8 303.3,109.3 303.2,109.8 303.1,110.3 303.0,110.8 302.9,111.3 302.8,111.8 302.8,112.3 302.7,112.8 302.6,113.3 302.6,113.8 302.5,114.3 302.5,114.8 302.4,115.3 302.4,115.8 302.3,116.3 302.3,116.8 302.3,117.3 302.2,117.8 302.2,118.3 302.2,118.8 302.1,119.3 302.1,119.8 302.1,120.3 302.1,120.8 302.1,121.3 302.0,121.8 302.0,122.3 302.0,122.8 302.0,123.3 302.0,123.8 301.9,124.3 301.9,124.8 301.9,125.3 301.9,125.8 301.9,126.3 301.9,126.8 301.9,127.3 301.8,127.8 301.8,128.3 301.8,128.8 301.8,129.3 301.8,129.8 301.8,130.3 301.8,130.8 301.8,131.3 301.7,131.8 301.7,132.3 301.7,132.8 301.7,133.3 301.7,133.8 301.7,134.3 301.7,134.8 301.7,135.3 301.7,135.8 301.7,136.3 301.7,136.8 301.7,137.3 301.7,137.8 301.7,138.3 301.7,138.8 301.7,139.3 301.7,139.8 300.9,139.8 300.9,139.3 300.9,138.8 300.9,138.3 300.9,137.8 300.9,137.3 300.9,136.8 300.9,136.3 300.9,135.8 300.9,135.3 300.9,134.8 300.9,134.3 300.9,133.8 300.9,133.3 300.9,132.8 300.9,132.3 300.9,131.8 300.8,131.3 300.8,130.8 300.8,130.3 300.8,129.8 300.8,129.3 300.8,128.8 300.8,128.3 300.8,127.8 300.7,127.3 300.7,126.8 300.7,126.3 300.7,125.8 300.7,125.3 300.7,124.8 300.7,124.3 300.6,123.8 300.6,123.3 300.6,122.8 300.6,122.3 300.6,121.8 300.5,121.3 300.5,120.8 300.5,120.3 300.5,119.8 300.5,119.3 300.4,118.8 300.4,118.3 300.4,117.8 300.3,117.3 300.3,116.8 300.3,116.3 300.2,115.8 300.2,115.3 300.1,114.8 300.1,114.3 300.0,113.8 300.0,113.3 299.9,112.8 299.8,112.3 299.8,111.8 299.7,111.3 299.6,110.8 299.5,110.3 299.4,109.8 299.3,109.3 299.2,108.8 299.1,108.3 299.0,107.8 298.9,107.3 298.8,106.8 298.7,106.3 298.6,105.8 298.5,105.3 298.4,104.8 298.3,104.3 298.2,103.8 298.1,103.3 298.1,102.8 298.0,102.3 298.0,101.8 297.9,101.3 297.9,100.8 297.8,100.3 297.8,99.8 297.7,99.3 297.7,98.8 297.7,98.3 297.6,97.8 297.6,97.3 297.5,96.8 297.4,96.3 297.3,95.8 297.2,95.3 297.0,94.8 296.7,94.3 296.4,93.8 296.1,93.3 295.7,92.8 295.3,92.3 295.0,91.8 294.6,91.3 294.3,90.8 294.0,90.3 293.7,89.8 293.4,89.3 293.1,88.8 292.8,88.3 292.4,87.8 292.1,87.3 291.8,86.8 291.5,86.3 291.3,85.8 291.1,85.3 290.9,84.8 290.8,84.3 290.8,83.8 290.8,83.3 290.9,82.8 291.1,82.3 291.2,81.8 291.4,81.3 291.7,80.8 291.9,80.3 292.2,79.8 292.5,79.3 292.8,78.8 293.0,78.3 293.3,77.8 293.6,77.3 293.9,76.8 294.3,76.3 294.6,75.8 295.0,75.3 295.5,74.8 295.9,74.3 296.3,73.8 296.7,73.3 297.1,72.8 297.5,72.3 297.8,71.8 298.2,71.3 298.4,70.8 298.7,70.3 298.8,69.8 299.0,69.3 299.2,68.8 299.3,68.3 299.5,67.8 299.6,67.3 299.7,66.8 299.8,66.3 299.9,65.8 300.0,65.3 300.1,64.8 300.3,64.3 300.4,63.8 300.5,63.3 300.6,62.8 300.7,62.3 300.7,61.8 300.8,61.3 300.9,60.8 301.0,60.3Z" fill="#f2641c" stroke="#8f3a0e" stroke-width="0.5"/>
<line x1="291.78" y1="80.60" x2="310.82" y2="80.60" stroke="#5a2a0a" stroke-width="0.5" />
<line x1="292.11" y1="87.30" x2="310.49" y2="87.30" stroke="#5a2a0a" stroke-width="0.5" />
<line x1="297.40" y1="96.10" x2="305.20" y2="96.10" stroke="#5a2a0a" stroke-width="0.5" />
<path d="M326.1,69.3 327.7,69.8 328.1,70.3 328.5,70.8 328.8,71.3 329.1,71.8 329.3,72.3 329.4,72.8 329.6,73.3 329.7,73.8 329.8,74.3 329.9,74.8 330.1,75.3 330.2,75.8 330.4,76.3 330.6,76.8 330.8,77.3 331.0,77.8 331.2,78.3 331.3,78.8 331.5,79.3 331.7,79.8 331.9,80.3 332.0,80.8 332.2,81.3 332.3,81.8 332.5,82.3 332.6,82.8 332.8,83.3 333.0,83.8 333.1,84.3 333.3,84.8 333.4,85.3 333.5,85.8 333.6,86.3 333.6,86.8 333.6,87.3 333.6,87.8 333.5,88.3 333.4,88.8 333.2,89.3 333.1,89.8 332.9,90.3 332.7,90.8 332.5,91.3 332.3,91.8 332.1,92.3 331.9,92.8 331.6,93.3 331.4,93.8 331.2,94.3 331.0,94.8 330.8,95.3 330.6,95.8 330.3,96.3 330.0,96.8 329.8,97.3 329.5,97.8 329.3,98.3 329.1,98.8 328.9,99.3 328.7,99.8 328.6,100.3 328.5,100.8 328.4,101.3 328.3,101.8 328.2,102.3 328.1,102.8 328.1,103.3 328.0,103.8 327.9,104.3 327.9,104.8 327.8,105.3 327.7,105.8 327.7,106.3 327.6,106.8 327.5,107.3 327.4,107.8 327.4,108.3 327.3,108.8 327.2,109.3 327.1,109.8 327.1,110.3 327.0,110.8 326.9,111.3 326.8,111.8 326.8,112.3 326.7,112.8 326.6,113.3 326.6,113.8 326.5,114.3 326.4,114.8 326.4,115.3 326.3,115.8 326.3,116.3 326.2,116.8 326.1,117.3 326.1,117.8 326.0,118.3 325.9,118.8 325.9,119.3 325.8,119.8 325.8,120.3 325.7,120.8 325.7,121.3 325.6,121.8 325.6,122.3 325.5,122.8 325.5,123.3 325.5,123.8 325.5,124.3 325.5,124.8 325.5,125.3 325.5,125.8 325.6,126.3 325.6,126.8 325.7,127.3 325.8,127.8 325.9,128.3 326.0,128.8 326.2,129.3 326.3,129.8 326.4,130.3 326.5,130.8 326.7,131.3 326.8,131.8 326.9,132.3 326.9,132.8 326.9,133.3 326.8,133.8 326.7,134.3 326.6,134.8 326.4,135.3 326.3,135.8 326.3,136.3 326.2,136.8 326.1,137.3 326.0,137.8 325.9,138.3 325.8,138.8 325.8,139.3 325.7,139.8 325.6,140.3 325.5,140.8 325.5,141.3 325.4,141.8 324.8,141.8 324.7,141.3 324.7,140.8 324.6,140.3 324.5,139.8 324.4,139.3 324.4,138.8 324.3,138.3 324.2,137.8 324.1,137.3 324.0,136.8 323.9,136.3 323.9,135.8 323.8,135.3 323.6,134.8 323.5,134.3 323.4,133.8 323.3,133.3 323.3,132.8 323.3,132.3 323.4,131.8 323.5,131.3 323.7,130.8 323.8,130.3 323.9,129.8 324.0,129.3 324.2,128.8 324.3,128.3 324.4,127.8 324.5,127.3 324.6,126.8 324.6,126.3 324.7,125.8 324.7,125.3 324.7,124.8 324.7,124.3 324.7,123.8 324.7,123.3 324.7,122.8 324.6,122.3 324.6,121.8 324.5,121.3 324.5,120.8 324.4,120.3 324.4,119.8 324.3,119.3 324.3,118.8 324.2,118.3 324.1,117.8 324.1,117.3 324.0,116.8 323.9,116.3 323.9,115.8 323.8,115.3 323.8,114.8 323.7,114.3 323.6,113.8 323.6,113.3 323.5,112.8 323.4,112.3 323.4,111.8 323.3,111.3 323.2,110.8 323.1,110.3 323.1,109.8 323.0,109.3 322.9,108.8 322.8,108.3 322.8,107.8 322.7,107.3 322.6,106.8 322.5,106.3 322.5,105.8 322.4,105.3 322.3,104.8 322.3,104.3 322.2,103.8 322.1,103.3 322.1,102.8 322.0,102.3 321.9,101.8 321.8,101.3 321.7,100.8 321.6,100.3 321.5,99.8 321.3,99.3 321.1,98.8 320.9,98.3 320.7,97.8 320.4,97.3 320.2,96.8 319.9,96.3 319.6,95.8 319.4,95.3 319.2,94.8 319.0,94.3 318.8,93.8 318.6,93.3 318.3,92.8 318.1,92.3 317.9,91.8 317.7,91.3 317.5,90.8 317.3,90.3 317.1,89.8 317.0,89.3 316.8,88.8 316.7,88.3 316.6,87.8 316.6,87.3 316.6,86.8 316.6,86.3 316.7,85.8 316.8,85.3 316.9,84.8 317.1,84.3 317.2,83.8 317.4,83.3 317.6,82.8 317.7,82.3 317.9,81.8 318.0,81.3 318.2,80.8 318.3,80.3 318.5,79.8 318.7,79.3 318.9,78.8 319.0,78.3 319.2,77.8 319.4,77.3 319.6,76.8 319.8,76.3 320.0,75.8 320.1,75.3 320.3,74.8 320.4,74.3 320.5,73.8 320.6,73.3 320.8,72.8 320.9,72.3 321.1,71.8 321.4,71.3 321.7,70.8 322.1,70.3 322.5,69.8 324.1,69.3Z" fill="#d6d10f" stroke="#7d7a10" stroke-width="0.5"/>
<line x1="317.77" y1="82.10" x2="332.43" y2="82.10" stroke="#5a5208" stroke-width="0.5" />
<line x1="316.93" y1="89.20" x2="333.27" y2="89.20" stroke="#5a5208" stroke-width="0.5" />
<line x1="321.50" y1="99.90" x2="328.70" y2="99.90" stroke="#5a5208" stroke-width="0.5" />
<text x="364.70" y="34.20" font-size="10.6" fill="#111" stroke="#111" stroke-width="0.1" font-weight="bold" >C</text>
<text x="450.50" y="34.40" font-size="8.7" fill="#222" stroke="#222" stroke-width="0.1" text-anchor="middle" textLength="57.00" lengthAdjust="spacingAndGlyphs" >TNF-α (ng/mL)</text>
<line x1="388.00" y1="56.70" x2="388.00" y2="148.30" stroke="#333" stroke-width="1.1" />
<line x1="388.00" y1="148.30" x2="514.00" y2="148.30" stroke="#333" stroke-width="1.1" />
<line x1="385.40" y1="63.80" x2="388.00" y2="63.80" stroke="#333" stroke-width="0.9" />
<text x="382.00" y="66.50" font-size="7.6" fill="#333" stroke="#333" stroke-width="0.1" text-anchor="end" >7.5</text>
<line x1="385.40" y1="84.90" x2="388.00" y2="84.90" stroke="#333" stroke-width="0.9" />
<text x="382.00" y="87.60" font-size="7.6" fill="#333" stroke="#333" stroke-width="0.1" text-anchor="end" >5.0</text>
<line x1="385.40" y1="105.70" x2="388.00" y2="105.70" stroke="#333" stroke-width="0.9" />
<text x="382.00" y="108.40" font-size="7.6" fill="#333" stroke="#333" stroke-width="0.1" text-anchor="end" >2.5</text>
<line x1="385.40" y1="126.60" x2="388.00" y2="126.60" stroke="#333" stroke-width="0.9" />
<text x="382.00" y="129.30" font-size="7.6" fill="#333" stroke="#333" stroke-width="0.1" text-anchor="end" >0.0</text>
<line x1="401.80" y1="148.30" x2="401.80" y2="150.90" stroke="#333" stroke-width="0.9" />
<text x="404.10" y="154.30" font-size="7.6" fill="#333" stroke="#333" stroke-width="0.1" text-anchor="end" transform="rotate(-90 404.10 154.30)" >CHIP neg</text>
<line x1="426.20" y1="148.30" x2="426.20" y2="150.90" stroke="#333" stroke-width="0.9" />
<text x="428.50" y="154.30" font-size="7.6" fill="#333" stroke="#333" stroke-width="0.1" text-anchor="end" transform="rotate(-90 428.50 154.30)" >CHIP pos</text>
<line x1="450.60" y1="148.30" x2="450.60" y2="150.90" stroke="#333" stroke-width="0.9" />
<text x="452.90" y="154.30" font-size="7.6" fill="#333" stroke="#333" stroke-width="0.1" text-anchor="end" font-style="italic" transform="rotate(-90 452.90 154.30)" >DNMT3A</text>
<line x1="474.80" y1="148.30" x2="474.80" y2="150.90" stroke="#333" stroke-width="0.9" />
<text x="477.10" y="154.30" font-size="7.6" fill="#333" stroke="#333" stroke-width="0.1" text-anchor="end" font-style="italic" transform="rotate(-90 477.10 154.30)" >TET2</text>
<line x1="498.60" y1="148.30" x2="498.60" y2="150.90" stroke="#333" stroke-width="0.9" />
<text x="500.90" y="154.30" font-size="7.6" fill="#333" stroke="#333" stroke-width="0.1" text-anchor="end" transform="rotate(-90 500.90 154.30)" >Other</text>
<path d="M394.90,47.00 L394.90,46.30 Q394.90,43.80 397.40,43.80 L505.90,43.80 Q508.40,43.80 508.40,46.30 L508.40,47.00" fill="none" stroke="#2a2a2a" stroke-width="1.0"/>
<path d="M394.90,52.20 L394.90,51.50 Q394.90,49.00 397.40,49.00 L433.10,49.00 Q435.60,49.00 435.60,51.50 L435.60,52.20" fill="none" stroke="#2a2a2a" stroke-width="1.0"/>
<text x="402.20" y="58.10" font-size="7.4" fill="#333" stroke="#333" stroke-width="0.1" text-anchor="middle" >0.9</text>
<text x="426.30" y="71.90" font-size="7.4" fill="#333" stroke="#333" stroke-width="0.1" text-anchor="middle" >1.0*</text>
<text x="451.20" y="74.50" font-size="7.4" fill="#333" stroke="#333" stroke-width="0.1" text-anchor="middle" >0.9</text>
<text x="474.60" y="90.80" font-size="7.4" fill="#333" stroke="#333" stroke-width="0.1" text-anchor="middle" >1.0</text>
<text x="498.80" y="71.90" font-size="7.4" fill="#333" stroke="#333" stroke-width="0.1" text-anchor="middle" >1.0*</text>
<path d="M402.6,60.6 402.6,61.1 402.6,61.6 402.6,62.1 402.6,62.6 402.6,63.1 402.6,63.6 402.6,64.1 402.6,64.6 402.6,65.1 402.6,65.6 402.6,66.1 402.6,66.6 402.6,67.1 402.6,67.6 402.6,68.1 402.6,68.6 402.6,69.1 402.6,69.6 402.6,70.1 402.6,70.6 402.6,71.1 402.6,71.6 402.6,72.1 402.6,72.6 402.6,73.1 402.6,73.6 402.6,74.1 402.6,74.6 402.6,75.1 402.6,75.6 402.6,76.1 402.6,76.6 402.6,77.1 402.6,77.6 402.6,78.1 402.6,78.6 402.6,79.1 402.6,79.6 402.6,80.1 402.6,80.6 402.6,81.1 402.6,81.6 402.6,82.1 402.6,82.6 402.6,83.1 402.6,83.6 402.6,84.1 402.6,84.6 402.6,85.1 402.6,85.6 402.6,86.1 402.6,86.6 402.6,87.1 402.6,87.6 402.6,88.1 402.6,88.6 402.6,89.1 402.6,89.6 402.6,90.1 402.6,90.6 402.6,91.1 402.6,91.6 402.6,92.1 402.6,92.6 402.6,93.1 402.6,93.6 402.6,94.1 402.6,94.6 402.6,95.1 402.6,95.6 402.6,96.1 402.6,96.6 402.6,97.1 402.6,97.6 402.6,98.1 402.7,98.6 402.7,99.1 402.7,99.6 402.7,100.1 402.7,100.6 402.7,101.1 402.7,101.6 402.8,102.1 402.8,102.6 402.9,103.1 402.9,103.6 403.0,104.1 403.0,104.6 403.1,105.1 403.2,105.6 403.2,106.1 403.3,106.6 403.3,107.1 403.4,107.6 403.5,108.1 403.6,108.6 403.8,109.1 404.0,109.6 404.2,110.1 404.5,110.6 404.7,111.1 405.0,111.6 405.4,112.1 405.8,112.6 406.2,113.1 406.8,113.6 407.3,114.1 407.9,114.6 408.5,115.1 409.0,115.6 409.4,116.1 409.8,116.6 410.3,117.1 410.7,117.6 411.1,118.1 411.5,118.6 411.9,119.1 412.1,119.6 412.3,120.1 412.3,120.6 412.2,121.1 412.0,121.6 411.6,122.1 411.2,122.6 410.7,123.1 410.2,123.6 409.7,124.1 409.2,124.6 408.7,125.1 408.2,125.6 407.7,126.1 407.1,126.6 406.6,127.1 406.0,127.6 405.5,128.1 405.1,128.6 404.7,129.1 404.4,129.6 404.1,130.1 403.8,130.6 403.6,131.1 403.4,131.6 403.3,132.1 403.2,132.6 403.2,133.1 403.1,133.6 403.1,134.1 403.0,134.6 403.0,135.1 402.9,135.6 402.9,136.1 402.9,136.6 402.8,137.1 402.8,137.6 402.8,138.1 402.7,138.6 402.7,139.1 402.7,139.6 402.7,140.1 402.7,140.6 402.6,141.1 402.6,141.6 402.6,142.1 402.6,142.6 402.6,143.1 402.6,143.6 402.6,144.1 402.0,144.1 402.0,143.6 402.0,143.1 402.0,142.6 402.0,142.1 402.0,141.6 402.0,141.1 401.9,140.6 401.9,140.1 401.9,139.6 401.9,139.1 401.9,138.6 401.8,138.1 401.8,137.6 401.8,137.1 401.7,136.6 401.7,136.1 401.7,135.6 401.6,135.1 401.6,134.6 401.5,134.1 401.5,133.6 401.4,133.1 401.4,132.6 401.3,132.1 401.2,131.6 401.0,131.1 400.8,130.6 400.5,130.1 400.2,129.6 399.9,129.1 399.5,128.6 399.1,128.1 398.6,127.6 398.0,127.1 397.5,126.6 396.9,126.1 396.4,125.6 395.9,125.1 395.4,124.6 394.9,124.1 394.4,123.6 393.9,123.1 393.4,122.6 393.0,122.1 392.6,121.6 392.4,121.1 392.3,120.6 392.3,120.1 392.5,119.6 392.7,119.1 393.1,118.6 393.5,118.1 393.9,117.6 394.3,117.1 394.8,116.6 395.2,116.1 395.6,115.6 396.1,115.1 396.7,114.6 397.3,114.1 397.8,113.6 398.4,113.1 398.8,112.6 399.2,112.1 399.6,111.6 399.9,111.1 400.1,110.6 400.4,110.1 400.6,109.6 400.8,109.1 401.0,108.6 401.1,108.1 401.2,107.6 401.3,107.1 401.3,106.6 401.4,106.1 401.4,105.6 401.5,105.1 401.6,104.6 401.6,104.1 401.7,103.6 401.7,103.1 401.8,102.6 401.8,102.1 401.9,101.6 401.9,101.1 401.9,100.6 401.9,100.1 401.9,99.6 401.9,99.1 401.9,98.6 402.0,98.1 402.0,97.6 402.0,97.1 402.0,96.6 402.0,96.1 402.0,95.6 402.0,95.1 402.0,94.6 402.0,94.1 402.0,93.6 402.0,93.1 402.0,92.6 402.0,92.1 402.0,91.6 402.0,91.1 402.0,90.6 402.0,90.1 402.0,89.6 402.0,89.1 402.0,88.6 402.0,88.1 402.0,87.6 402.0,87.1 402.0,86.6 402.0,86.1 402.0,85.6 402.0,85.1 402.0,84.6 402.0,84.1 402.0,83.6 402.0,83.1 402.0,82.6 402.0,82.1 402.0,81.6 402.0,81.1 402.0,80.6 402.0,80.1 402.0,79.6 402.0,79.1 402.0,78.6 402.0,78.1 402.0,77.6 402.0,77.1 402.0,76.6 402.0,76.1 402.0,75.6 402.0,75.1 402.0,74.6 402.0,74.1 402.0,73.6 402.0,73.1 402.0,72.6 402.0,72.1 402.0,71.6 402.0,71.1 402.0,70.6 402.0,70.1 402.0,69.6 402.0,69.1 402.0,68.6 402.0,68.1 402.0,67.6 402.0,67.1 402.0,66.6 402.0,66.1 402.0,65.6 402.0,65.1 402.0,64.6 402.0,64.1 402.0,63.6 402.0,63.1 402.0,62.6 402.0,62.1 402.0,61.6 402.0,61.1 402.0,60.6Z" fill="#5a5a5a" stroke="#505050" stroke-width="0.5"/>
<line x1="393.15" y1="118.50" x2="411.45" y2="118.50" stroke="#3c3c3c" stroke-width="0.5" />
<line x1="392.30" y1="120.50" x2="412.30" y2="120.50" stroke="#3c3c3c" stroke-width="0.5" />
<line x1="393.80" y1="123.00" x2="410.80" y2="123.00" stroke="#3c3c3c" stroke-width="0.5" />
<path d="M426.7,75.5 426.7,76.0 426.7,76.5 426.7,77.0 426.7,77.5 426.7,78.0 426.7,78.5 426.7,79.0 426.7,79.5 426.7,80.0 426.7,80.5 426.7,81.0 426.7,81.5 426.7,82.0 426.7,82.5 426.7,83.0 426.7,83.5 426.7,84.0 426.7,84.5 426.7,85.0 426.7,85.5 426.7,86.0 426.7,86.5 426.7,87.0 426.7,87.5 426.7,88.0 426.7,88.5 426.7,89.0 426.7,89.5 426.7,90.0 426.7,90.5 426.7,91.0 426.7,91.5 426.7,92.0 426.7,92.5 426.7,93.0 426.7,93.5 426.7,94.0 426.7,94.5 426.7,95.0 426.7,95.5 426.7,96.0 426.7,96.5 426.7,97.0 426.7,97.5 426.7,98.0 426.7,98.5 426.8,99.0 426.8,99.5 426.8,100.0 426.8,100.5 426.8,101.0 426.9,101.5 427.0,102.0 427.1,102.5 427.2,103.0 427.3,103.5 427.4,104.0 427.5,104.5 427.6,105.0 427.7,105.5 427.8,106.0 427.9,106.5 428.0,107.0 428.2,107.5 428.4,108.0 428.6,108.5 428.9,109.0 429.2,109.5 429.6,110.0 429.9,110.5 430.2,111.0 430.6,111.5 430.9,112.0 431.3,112.5 431.7,113.0 432.1,113.5 432.6,114.0 433.0,114.5 433.5,115.0 434.0,115.5 434.5,116.0 435.0,116.5 435.4,117.0 435.8,117.5 436.1,118.0 436.3,118.5 436.5,119.0 436.6,119.5 436.6,120.0 436.4,120.5 436.0,121.0 435.5,121.5 435.0,122.0 434.3,122.5 433.7,123.0 433.0,123.5 432.4,124.0 431.9,124.5 431.4,125.0 431.0,125.5 430.6,126.0 430.2,126.5 429.7,127.0 429.4,127.5 429.0,128.0 428.6,128.5 428.3,129.0 428.1,129.5 427.9,130.0 427.7,130.5 427.6,131.0 427.5,131.5 427.3,132.0 427.3,132.5 427.2,133.0 427.2,133.5 427.1,134.0 427.1,134.5 427.0,135.0 427.0,135.5 427.0,136.0 426.9,136.5 426.9,137.0 426.9,137.5 426.9,138.0 426.8,138.5 426.8,139.0 426.8,139.5 426.8,140.0 426.8,140.5 426.7,141.0 426.7,141.5 426.7,142.0 426.7,142.5 426.7,143.0 426.7,143.5 426.7,144.0 426.7,144.5 426.1,144.5 426.1,144.0 426.1,143.5 426.1,143.0 426.1,142.5 426.1,142.0 426.1,141.5 426.1,141.0 426.0,140.5 426.0,140.0 426.0,139.5 426.0,139.0 426.0,138.5 425.9,138.0 425.9,137.5 425.9,137.0 425.9,136.5 425.8,136.0 425.8,135.5 425.8,135.0 425.7,134.5 425.7,134.0 425.6,133.5 425.6,133.0 425.5,132.5 425.5,132.0 425.3,131.5 425.2,131.0 425.1,130.5 424.9,130.0 424.7,129.5 424.5,129.0 424.2,128.5 423.8,128.0 423.4,127.5 423.1,127.0 422.6,126.5 422.2,126.0 421.8,125.5 421.4,125.0 420.9,124.5 420.4,124.0 419.8,123.5 419.1,123.0 418.5,122.5 417.8,122.0 417.3,121.5 416.8,121.0 416.4,120.5 416.2,120.0 416.2,119.5 416.3,119.0 416.5,118.5 416.7,118.0 417.0,117.5 417.4,117.0 417.8,116.5 418.3,116.0 418.8,115.5 419.3,115.0 419.8,114.5 420.2,114.0 420.7,113.5 421.1,113.0 421.5,112.5 421.9,112.0 422.2,111.5 422.6,111.0 422.9,110.5 423.2,110.0 423.6,109.5 423.9,109.0 424.2,108.5 424.4,108.0 424.6,107.5 424.8,107.0 424.9,106.5 425.0,106.0 425.1,105.5 425.2,105.0 425.3,104.5 425.4,104.0 425.5,103.5 425.6,103.0 425.7,102.5 425.8,102.0 425.9,101.5 426.0,101.0 426.0,100.5 426.0,100.0 426.0,99.5 426.0,99.0 426.1,98.5 426.1,98.0 426.1,97.5 426.1,97.0 426.1,96.5 426.1,96.0 426.1,95.5 426.1,95.0 426.1,94.5 426.1,94.0 426.1,93.5 426.1,93.0 426.1,92.5 426.1,92.0 426.1,91.5 426.1,91.0 426.1,90.5 426.1,90.0 426.1,89.5 426.1,89.0 426.1,88.5 426.1,88.0 426.1,87.5 426.1,87.0 426.1,86.5 426.1,86.0 426.1,85.5 426.1,85.0 426.1,84.5 426.1,84.0 426.1,83.5 426.1,83.0 426.1,82.5 426.1,82.0 426.1,81.5 426.1,81.0 426.1,80.5 426.1,80.0 426.1,79.5 426.1,79.0 426.1,78.5 426.1,78.0 426.1,77.5 426.1,77.0 426.1,76.5 426.1,76.0 426.1,75.5Z" fill="#9e9e9e" stroke="#5a5a5a" stroke-width="0.5"/>
<line x1="418.10" y1="116.20" x2="434.70" y2="116.20" stroke="#505050" stroke-width="0.5" />
<line x1="416.20" y1="119.60" x2="436.60" y2="119.60" stroke="#505050" stroke-width="0.5" />
<line x1="419.10" y1="123.00" x2="433.70" y2="123.00" stroke="#505050" stroke-width="0.5" />
<path d="M451.2,79.4 451.2,79.9 451.2,80.4 451.2,80.9 451.2,81.4 451.2,81.9 451.2,82.4 451.2,82.9 451.2,83.4 451.2,83.9 451.2,84.4 451.2,84.9 451.2,85.4 451.2,85.9 451.2,86.4 451.2,86.9 451.2,87.4 451.2,87.9 451.2,88.4 451.2,88.9 451.2,89.4 451.2,89.9 451.2,90.4 451.2,90.9 451.2,91.4 451.2,91.9 451.2,92.4 451.2,92.9 451.2,93.4 451.2,93.9 451.2,94.4 451.2,94.9 451.2,95.4 451.2,95.9 451.2,96.4 451.2,96.9 451.2,97.4 451.2,97.9 451.2,98.4 451.2,98.9 451.3,99.4 451.3,99.9 451.3,100.4 451.3,100.9 451.3,101.4 451.4,101.9 451.5,102.4 451.5,102.9 451.6,103.4 451.7,103.9 451.8,104.4 451.9,104.9 452.0,105.4 452.1,105.9 452.2,106.4 452.3,106.9 452.4,107.4 452.6,107.9 453.0,108.4 453.5,108.9 454.0,109.4 454.6,109.9 455.1,110.4 455.6,110.9 456.0,111.4 456.3,111.9 456.7,112.4 457.0,112.9 457.4,113.4 457.7,113.9 458.0,114.4 458.4,114.9 458.7,115.4 458.9,115.9 459.2,116.4 459.4,116.9 459.6,117.4 459.8,117.9 459.9,118.4 460.0,118.9 460.0,119.4 460.0,119.9 459.8,120.4 459.6,120.9 459.3,121.4 459.0,121.9 458.7,122.4 458.2,122.9 457.8,123.4 457.4,123.9 456.9,124.4 456.5,124.9 456.0,125.4 455.6,125.9 455.2,126.4 454.9,126.9 454.6,127.4 454.3,127.9 453.9,128.4 453.6,128.9 453.3,129.4 453.0,129.9 452.8,130.4 452.5,130.9 452.3,131.4 452.2,131.9 452.0,132.4 451.8,132.9 451.7,133.4 450.1,133.4 450.0,132.9 449.8,132.4 449.6,131.9 449.5,131.4 449.3,130.9 449.0,130.4 448.8,129.9 448.5,129.4 448.2,128.9 447.9,128.4 447.5,127.9 447.2,127.4 446.9,126.9 446.6,126.4 446.2,125.9 445.8,125.4 445.3,124.9 444.9,124.4 444.4,123.9 444.0,123.4 443.6,122.9 443.1,122.4 442.8,121.9 442.5,121.4 442.2,120.9 442.0,120.4 441.8,119.9 441.8,119.4 441.8,118.9 441.9,118.4 442.0,117.9 442.2,117.4 442.4,116.9 442.6,116.4 442.9,115.9 443.1,115.4 443.4,114.9 443.8,114.4 444.1,113.9 444.4,113.4 444.8,112.9 445.1,112.4 445.5,111.9 445.8,111.4 446.2,110.9 446.7,110.4 447.2,109.9 447.8,109.4 448.3,108.9 448.8,108.4 449.2,107.9 449.4,107.4 449.5,106.9 449.6,106.4 449.7,105.9 449.8,105.4 449.9,104.9 450.0,104.4 450.1,103.9 450.2,103.4 450.3,102.9 450.3,102.4 450.4,101.9 450.5,101.4 450.5,100.9 450.5,100.4 450.5,99.9 450.5,99.4 450.6,98.9 450.6,98.4 450.6,97.9 450.6,97.4 450.6,96.9 450.6,96.4 450.6,95.9 450.6,95.4 450.6,94.9 450.6,94.4 450.6,93.9 450.6,93.4 450.6,92.9 450.6,92.4 450.6,91.9 450.6,91.4 450.6,90.9 450.6,90.4 450.6,89.9 450.6,89.4 450.6,88.9 450.6,88.4 450.6,87.9 450.6,87.4 450.6,86.9 450.6,86.4 450.6,85.9 450.6,85.4 450.6,84.9 450.6,84.4 450.6,83.9 450.6,83.4 450.6,82.9 450.6,82.4 450.6,81.9 450.6,81.4 450.6,80.9 450.6,80.4 450.6,79.9 450.6,79.4Z" fill="#14803a" stroke="#0f4d1d" stroke-width="0.5"/>
<path d="M474.7,95.7 474.7,96.2 474.7,96.7 474.7,97.2 474.8,97.7 474.8,98.2 474.9,98.7 474.9,99.2 475.0,99.7 475.1,100.2 475.2,100.7 475.3,101.2 475.3,101.7 475.4,102.2 475.6,102.7 475.8,103.2 476.0,103.7 476.2,104.2 476.4,104.7 476.7,105.2 476.9,105.7 477.1,106.2 477.4,106.7 477.6,107.2 477.9,107.7 478.1,108.2 478.4,108.7 478.6,109.2 478.9,109.7 479.1,110.2 479.4,110.7 479.6,111.2 479.8,111.7 480.0,112.2 480.2,112.7 480.4,113.2 480.6,113.7 480.8,114.2 481.0,114.7 481.2,115.2 481.4,115.7 481.6,116.2 481.7,116.7 481.9,117.2 482.0,117.7 482.1,118.2 482.2,118.7 482.2,119.2 482.2,119.7 482.1,120.2 482.0,120.7 481.8,121.2 481.6,121.7 481.3,122.2 481.0,122.7 480.7,123.2 480.4,123.7 480.1,124.2 479.7,124.7 479.4,125.2 479.1,125.7 478.8,126.2 478.6,126.7 478.3,127.2 477.9,127.7 477.6,128.2 477.3,128.7 477.0,129.2 476.7,129.7 476.4,130.2 476.1,130.7 475.9,131.2 475.8,131.7 475.6,132.2 475.5,132.7 475.3,133.2 475.2,133.7 475.2,134.2 475.1,134.7 475.1,135.2 475.0,135.7 475.0,136.2 475.0,136.7 474.9,137.2 474.9,137.7 474.9,138.2 474.8,138.7 474.8,139.2 474.8,139.7 474.8,140.2 474.8,140.7 474.7,141.2 474.7,141.7 474.7,142.2 474.7,142.7 474.7,143.2 474.7,143.7 474.1,143.7 474.1,143.2 474.1,142.7 474.1,142.2 474.1,141.7 474.1,141.2 474.0,140.7 474.0,140.2 474.0,139.7 474.0,139.2 474.0,138.7 473.9,138.2 473.9,137.7 473.9,137.2 473.8,136.7 473.8,136.2 473.8,135.7 473.7,135.2 473.7,134.7 473.6,134.2 473.6,133.7 473.5,133.2 473.3,132.7 473.2,132.2 473.0,131.7 472.9,131.2 472.7,130.7 472.4,130.2 472.1,129.7 471.8,129.2 471.5,128.7 471.2,128.2 470.9,127.7 470.5,127.2 470.2,126.7 470.0,126.2 469.7,125.7 469.4,125.2 469.1,124.7 468.7,124.2 468.4,123.7 468.1,123.2 467.8,122.7 467.5,122.2 467.2,121.7 467.0,121.2 466.8,120.7 466.7,120.2 466.6,119.7 466.6,119.2 466.6,118.7 466.7,118.2 466.8,117.7 466.9,117.2 467.1,116.7 467.2,116.2 467.4,115.7 467.6,115.2 467.8,114.7 468.0,114.2 468.2,113.7 468.4,113.2 468.6,112.7 468.8,112.2 469.0,111.7 469.2,111.2 469.4,110.7 469.7,110.2 469.9,109.7 470.2,109.2 470.4,108.7 470.7,108.2 470.9,107.7 471.2,107.2 471.4,106.7 471.7,106.2 471.9,105.7 472.1,105.2 472.4,104.7 472.6,104.2 472.8,103.7 473.0,103.2 473.2,102.7 473.4,102.2 473.5,101.7 473.5,101.2 473.6,100.7 473.7,100.2 473.8,99.7 473.9,99.2 473.9,98.7 474.0,98.2 474.0,97.7 474.1,97.2 474.1,96.7 474.1,96.2 474.1,95.7Z" fill="#f2641c" stroke="#8f3a0e" stroke-width="0.5"/>
<line x1="467.03" y1="116.80" x2="481.77" y2="116.80" stroke="#5a2a0a" stroke-width="0.5" />
<line x1="466.60" y1="119.40" x2="482.20" y2="119.40" stroke="#5a2a0a" stroke-width="0.5" />
<line x1="467.77" y1="122.70" x2="481.03" y2="122.70" stroke="#5a2a0a" stroke-width="0.5" />
<path d="M499.0,75.5 499.0,76.0 499.0,76.5 499.0,77.0 499.0,77.5 499.0,78.0 499.0,78.5 499.0,79.0 499.0,79.5 499.0,80.0 499.0,80.5 499.0,81.0 499.0,81.5 499.0,82.0 499.0,82.5 499.0,83.0 499.0,83.5 499.0,84.0 499.0,84.5 499.0,85.0 499.0,85.5 499.0,86.0 499.0,86.5 499.0,87.0 499.0,87.5 499.0,88.0 499.0,88.5 499.0,89.0 499.0,89.5 499.0,90.0 499.0,90.5 499.0,91.0 499.0,91.5 499.0,92.0 499.0,92.5 499.0,93.0 499.0,93.5 499.0,94.0 499.0,94.5 499.0,95.0 499.0,95.5 499.0,96.0 499.0,96.5 499.0,97.0 499.0,97.5 499.0,98.0 499.0,98.5 499.1,99.0 499.1,99.5 499.1,100.0 499.1,100.5 499.1,101.0 499.2,101.5 499.2,102.0 499.3,102.5 499.4,103.0 499.4,103.5 499.5,104.0 499.6,104.5 499.7,105.0 499.8,105.5 499.9,106.0 500.0,106.5 500.1,107.0 500.3,107.5 500.4,108.0 500.6,108.5 500.9,109.0 501.1,109.5 501.4,110.0 501.7,110.5 502.0,111.0 502.3,111.5 502.6,112.0 503.0,112.5 503.3,113.0 503.7,113.5 504.1,114.0 504.7,114.5 505.3,115.0 506.0,115.5 506.7,116.0 507.3,116.5 508.0,117.0 508.5,117.5 509.0,118.0 509.3,118.5 509.4,119.0 509.3,119.5 509.0,120.0 508.5,120.5 507.8,121.0 507.0,121.5 506.2,122.0 505.4,122.5 504.7,123.0 504.1,123.5 503.6,124.0 503.2,124.5 502.9,125.0 502.5,125.5 502.2,126.0 501.8,126.5 501.5,127.0 501.3,127.5 501.0,128.0 500.7,128.5 500.5,129.0 500.3,129.5 500.1,130.0 500.0,130.5 499.8,131.0 499.7,131.5 499.5,132.0 499.4,132.5 499.2,133.0 499.1,133.5 498.3,133.5 498.2,133.0 498.0,132.5 497.9,132.0 497.7,131.5 497.6,131.0 497.4,130.5 497.3,130.0 497.1,129.5 496.9,129.0 496.7,128.5 496.4,128.0 496.1,127.5 495.9,127.0 495.6,126.5 495.2,126.0 494.9,125.5 494.5,125.0 494.2,124.5 493.8,124.0 493.3,123.5 492.7,123.0 492.0,122.5 491.2,122.0 490.4,121.5 489.6,121.0 488.9,120.5 488.4,120.0 488.1,119.5 488.0,119.0 488.1,118.5 488.4,118.0 488.9,117.5 489.4,117.0 490.1,116.5 490.7,116.0 491.4,115.5 492.1,115.0 492.7,114.5 493.3,114.0 493.7,113.5 494.1,113.0 494.4,112.5 494.8,112.0 495.1,111.5 495.4,111.0 495.7,110.5 496.0,110.0 496.3,109.5 496.5,109.0 496.8,108.5 497.0,108.0 497.1,107.5 497.3,107.0 497.4,106.5 497.5,106.0 497.6,105.5 497.7,105.0 497.8,104.5 497.9,104.0 498.0,103.5 498.0,103.0 498.1,102.5 498.2,102.0 498.2,101.5 498.3,101.0 498.3,100.5 498.3,100.0 498.3,99.5 498.3,99.0 498.4,98.5 498.4,98.0 498.4,97.5 498.4,97.0 498.4,96.5 498.4,96.0 498.4,95.5 498.4,95.0 498.4,94.5 498.4,94.0 498.4,93.5 498.4,93.0 498.4,92.5 498.4,92.0 498.4,91.5 498.4,91.0 498.4,90.5 498.4,90.0 498.4,89.5 498.4,89.0 498.4,88.5 498.4,88.0 498.4,87.5 498.4,87.0 498.4,86.5 498.4,86.0 498.4,85.5 498.4,85.0 498.4,84.5 498.4,84.0 498.4,83.5 498.4,83.0 498.4,82.5 498.4,82.0 498.4,81.5 498.4,81.0 498.4,80.5 498.4,80.0 498.4,79.5 498.4,79.0 498.4,78.5 498.4,78.0 498.4,77.5 498.4,77.0 498.4,76.5 498.4,76.0 498.4,75.5Z" fill="#d6d10f" stroke="#7d7a10" stroke-width="0.5"/>
<line x1="490.07" y1="116.50" x2="507.33" y2="116.50" stroke="#5a5208" stroke-width="0.5" />
<line x1="488.00" y1="119.00" x2="509.40" y2="119.00" stroke="#5a5208" stroke-width="0.5" />
<line x1="490.37" y1="121.50" x2="507.03" y2="121.50" stroke="#5a5208" stroke-width="0.5" />
<text x="206.40" y="14.30" font-size="8.8" fill="#222" stroke="#222" stroke-width="0.1" textLength="147.00" lengthAdjust="spacingAndGlyphs" >BL levels of proteins by CH mutations</text>
<text x="6.7" y="197.6" font-size="7" fill="#222" stroke="#222" stroke-width="0.12" textLength="475" lengthAdjust="spacingAndGlyphs">*<tspan font-style="italic">P</tspan>-values are from a linear regression model with log2-BL value as the outcome, CHIP mutation as the predictor (comparing each CHIP mutation to</text>
<text x="6.7" y="206.3" font-size="7" fill="#222" stroke="#222" stroke-width="0.12" textLength="266.8" lengthAdjust="spacingAndGlyphs">CHIP-negative patients) adjusted for BL hemoglobin, age and BL HSCRP; <tspan font-style="italic">P</tspan> &lt; .05</text>
<text x="205.40" y="231.30" font-size="8.7" fill="#222" stroke="#222" stroke-width="0.1" textLength="140.00" lengthAdjust="spacingAndGlyphs" >Proteomic analysis by CH mutations</text>
<text x="153.00" y="433.00" font-size="8.65" fill="#222" stroke="#222" stroke-width="0.1" textLength="242.00" lengthAdjust="spacingAndGlyphs" >Proteomic analysis in patients with CH mutations by BL anemia</text>
<circle cx="45.7" cy="365" r="0.8" fill="#555"/>
<circle cx="306.2" cy="365" r="0.8" fill="#777"/>
<text x="6.25" y="252.00" font-size="10.6" fill="#111" stroke="#111" stroke-width="0.1" font-weight="bold" >D</text>
<line x1="97.50" y1="267.00" x2="97.50" y2="382.00" stroke="#999" stroke-width="1" stroke-dasharray="1,1" />
<line x1="138.50" y1="267.00" x2="138.50" y2="382.00" stroke="#999" stroke-width="1" stroke-dasharray="1,1" />
<line x1="36.00" y1="368.50" x2="253.50" y2="368.50" stroke="#8a8a8a" stroke-width="1" stroke-dasharray="1,1" />
<g fill="#7a7a7a" fill-opacity="0.06">
<circle cx="110.3" cy="374.7" r=".85"/>
<circle cx="108.7" cy="366.8" r=".85"/>
<circle cx="112.3" cy="373.2" r=".85"/>
<circle cx="120.0" cy="377.3" r=".85"/>
<circle cx="125.6" cy="374.4" r=".85"/>
<circle cx="136.0" cy="373.7" r=".85"/>
<circle cx="121.0" cy="375.7" r=".85"/>
<circle cx="113.5" cy="375.9" r=".85"/>
<circle cx="114.8" cy="374.2" r=".85"/>
<circle cx="122.8" cy="376.2" r=".85"/>
<circle cx="114.0" cy="373.0" r=".85"/>
<circle cx="109.3" cy="368.8" r=".85"/>
<circle cx="106.6" cy="363.7" r=".85"/>
<circle cx="131.1" cy="376.5" r=".85"/>
<circle cx="139.0" cy="359.7" r=".85"/>
<circle cx="121.8" cy="376.8" r=".85"/>
<circle cx="132.0" cy="368.6" r=".85"/>
<circle cx="105.5" cy="363.8" r=".85"/>
<circle cx="117.0" cy="376.2" r=".85"/>
<circle cx="132.5" cy="366.6" r=".85"/>
<circle cx="118.4" cy="377.9" r=".85"/>
<circle cx="123.5" cy="373.9" r=".85"/>
<circle cx="126.0" cy="368.4" r=".85"/>
<circle cx="124.7" cy="374.5" r=".85"/>
<circle cx="117.5" cy="377.3" r=".85"/>
<circle cx="133.9" cy="356.5" r=".85"/>
<circle cx="109.3" cy="367.1" r=".85"/>
<circle cx="119.1" cy="377.9" r=".85"/>
<circle cx="136.2" cy="365.8" r=".85"/>
<circle cx="121.0" cy="374.7" r=".85"/>
<circle cx="114.6" cy="372.9" r=".85"/>
<circle cx="109.7" cy="367.3" r=".85"/>
<circle cx="93.9" cy="373.0" r=".85"/>
<circle cx="122.5" cy="373.0" r=".85"/>
<circle cx="128.5" cy="372.0" r=".85"/>
<circle cx="106.0" cy="366.8" r=".85"/>
<circle cx="121.7" cy="374.0" r=".85"/>
<circle cx="103.4" cy="368.7" r=".85"/>
<circle cx="99.5" cy="352.2" r=".85"/>
<circle cx="120.7" cy="375.5" r=".85"/>
<circle cx="121.7" cy="373.7" r=".85"/>
<circle cx="128.6" cy="364.8" r=".85"/>
<circle cx="124.7" cy="377.5" r=".85"/>
<circle cx="123.2" cy="376.5" r=".85"/>
<circle cx="129.8" cy="375.3" r=".85"/>
<circle cx="126.9" cy="372.3" r=".85"/>
<circle cx="128.5" cy="371.8" r=".85"/>
<circle cx="114.0" cy="373.3" r=".85"/>
<circle cx="103.0" cy="355.5" r=".85"/>
<circle cx="132.8" cy="360.6" r=".85"/>
<circle cx="108.9" cy="375.6" r=".85"/>
<circle cx="99.3" cy="351.9" r=".85"/>
<circle cx="133.3" cy="370.4" r=".85"/>
<circle cx="99.9" cy="358.6" r=".85"/>
<circle cx="123.5" cy="374.3" r=".85"/>
<circle cx="121.2" cy="376.9" r=".85"/>
<circle cx="113.0" cy="370.9" r=".85"/>
<circle cx="119.9" cy="376.2" r=".85"/>
<circle cx="125.1" cy="377.9" r=".85"/>
<circle cx="138.4" cy="372.8" r=".85"/>
<circle cx="115.3" cy="375.4" r=".85"/>
<circle cx="117.0" cy="376.7" r=".85"/>
<circle cx="128.0" cy="372.5" r=".85"/>
<circle cx="98.8" cy="371.1" r=".85"/>
<circle cx="115.9" cy="374.4" r=".85"/>
<circle cx="124.5" cy="376.4" r=".85"/>
<circle cx="153.1" cy="328.1" r=".85"/>
<circle cx="102.4" cy="371.8" r=".85"/>
<circle cx="113.1" cy="376.3" r=".85"/>
<circle cx="126.3" cy="377.2" r=".85"/>
<circle cx="121.7" cy="377.4" r=".85"/>
<circle cx="132.6" cy="370.2" r=".85"/>
<circle cx="144.9" cy="362.3" r=".85"/>
<circle cx="123.9" cy="376.6" r=".85"/>
<circle cx="117.4" cy="377.1" r=".85"/>
<circle cx="99.2" cy="351.8" r=".85"/>
<circle cx="113.5" cy="374.5" r=".85"/>
<circle cx="109.8" cy="368.3" r=".85"/>
<circle cx="108.2" cy="363.1" r=".85"/>
<circle cx="92.0" cy="377.5" r=".85"/>
<circle cx="104.5" cy="370.4" r=".85"/>
<circle cx="126.8" cy="369.9" r=".85"/>
<circle cx="91.9" cy="342.1" r=".85"/>
<circle cx="118.4" cy="377.9" r=".85"/>
<circle cx="108.9" cy="373.7" r=".85"/>
<circle cx="119.3" cy="376.8" r=".85"/>
<circle cx="94.3" cy="370.0" r=".85"/>
<circle cx="102.2" cy="374.0" r=".85"/>
<circle cx="124.7" cy="377.8" r=".85"/>
<circle cx="133.5" cy="376.0" r=".85"/>
<circle cx="99.8" cy="375.0" r=".85"/>
<circle cx="139.3" cy="376.0" r=".85"/>
<circle cx="108.4" cy="371.7" r=".85"/>
<circle cx="112.5" cy="373.3" r=".85"/>
<circle cx="99.5" cy="353.4" r=".85"/>
<circle cx="107.4" cy="369.6" r=".85"/>
<circle cx="132.0" cy="375.3" r=".85"/>
<circle cx="106.4" cy="360.6" r=".85"/>
<circle cx="127.6" cy="372.1" r=".85"/>
<circle cx="112.7" cy="371.3" r=".85"/>
<circle cx="131.5" cy="372.9" r=".85"/>
<circle cx="105.0" cy="365.6" r=".85"/>
<circle cx="119.5" cy="377.9" r=".85"/>
<circle cx="97.5" cy="365.2" r=".85"/>
<circle cx="105.7" cy="367.6" r=".85"/>
<circle cx="121.2" cy="374.3" r=".85"/>
<circle cx="122.1" cy="374.4" r=".85"/>
<circle cx="127.4" cy="368.7" r=".85"/>
<circle cx="123.4" cy="372.0" r=".85"/>
<circle cx="143.7" cy="367.8" r=".85"/>
<circle cx="103.7" cy="362.2" r=".85"/>
<circle cx="148.7" cy="375.1" r=".85"/>
<circle cx="135.8" cy="378.0" r=".85"/>
<circle cx="115.8" cy="376.7" r=".85"/>
<circle cx="107.5" cy="367.1" r=".85"/>
<circle cx="94.6" cy="361.3" r=".85"/>
<circle cx="120.3" cy="377.2" r=".85"/>
<circle cx="140.2" cy="350.9" r=".85"/>
<circle cx="100.1" cy="369.2" r=".85"/>
<circle cx="115.7" cy="374.2" r=".85"/>
</g>
<g fill="#7a7a7a" fill-opacity="0.09">
<circle cx="133.6" cy="373.0" r=".85"/>
<circle cx="126.8" cy="372.9" r=".85"/>
<circle cx="116.1" cy="377.2" r=".85"/>
<circle cx="114.6" cy="375.5" r=".85"/>
<circle cx="107.3" cy="368.8" r=".85"/>
<circle cx="115.5" cy="375.9" r=".85"/>
<circle cx="113.8" cy="375.3" r=".85"/>
<circle cx="113.7" cy="375.6" r=".85"/>
<circle cx="131.1" cy="373.8" r=".85"/>
<circle cx="113.9" cy="373.0" r=".85"/>
<circle cx="111.9" cy="372.8" r=".85"/>
<circle cx="101.3" cy="370.2" r=".85"/>
<circle cx="111.6" cy="374.0" r=".85"/>
<circle cx="115.3" cy="374.5" r=".85"/>
<circle cx="104.7" cy="371.2" r=".85"/>
<circle cx="106.4" cy="372.9" r=".85"/>
<circle cx="111.1" cy="373.2" r=".85"/>
<circle cx="130.3" cy="371.3" r=".85"/>
<circle cx="127.9" cy="374.2" r=".85"/>
<circle cx="108.2" cy="370.2" r=".85"/>
<circle cx="113.4" cy="375.8" r=".85"/>
<circle cx="124.8" cy="374.5" r=".85"/>
<circle cx="116.8" cy="376.2" r=".85"/>
<circle cx="114.8" cy="376.6" r=".85"/>
<circle cx="119.8" cy="377.3" r=".85"/>
<circle cx="119.5" cy="377.5" r=".85"/>
<circle cx="109.8" cy="369.0" r=".85"/>
<circle cx="122.7" cy="376.0" r=".85"/>
<circle cx="122.6" cy="375.7" r=".85"/>
<circle cx="120.4" cy="377.1" r=".85"/>
<circle cx="106.8" cy="373.1" r=".85"/>
<circle cx="126.0" cy="372.9" r=".85"/>
<circle cx="119.7" cy="377.4" r=".85"/>
<circle cx="125.2" cy="374.2" r=".85"/>
<circle cx="93.7" cy="367.0" r=".85"/>
<circle cx="120.9" cy="377.1" r=".85"/>
<circle cx="113.6" cy="375.9" r=".85"/>
<circle cx="125.6" cy="374.6" r=".85"/>
<circle cx="125.9" cy="372.8" r=".85"/>
<circle cx="112.2" cy="376.1" r=".85"/>
<circle cx="128.9" cy="375.2" r=".85"/>
<circle cx="125.9" cy="373.1" r=".85"/>
<circle cx="114.1" cy="373.7" r=".85"/>
<circle cx="127.1" cy="375.5" r=".85"/>
<circle cx="125.7" cy="374.0" r=".85"/>
<circle cx="129.9" cy="374.9" r=".85"/>
<circle cx="112.1" cy="371.3" r=".85"/>
<circle cx="108.2" cy="373.2" r=".85"/>
<circle cx="117.0" cy="376.7" r=".85"/>
<circle cx="118.7" cy="377.9" r=".85"/>
<circle cx="123.2" cy="375.1" r=".85"/>
<circle cx="108.8" cy="371.9" r=".85"/>
<circle cx="110.8" cy="370.8" r=".85"/>
<circle cx="131.4" cy="374.1" r=".85"/>
<circle cx="122.1" cy="376.1" r=".85"/>
<circle cx="119.9" cy="377.0" r=".85"/>
<circle cx="118.5" cy="377.9" r=".85"/>
<circle cx="118.1" cy="377.6" r=".85"/>
<circle cx="117.3" cy="377.3" r=".85"/>
<circle cx="119.1" cy="377.6" r=".85"/>
<circle cx="116.3" cy="376.1" r=".85"/>
<circle cx="133.9" cy="372.0" r=".85"/>
<circle cx="109.4" cy="373.5" r=".85"/>
<circle cx="114.7" cy="376.2" r=".85"/>
<circle cx="117.4" cy="377.2" r=".85"/>
<circle cx="118.1" cy="377.7" r=".85"/>
<circle cx="127.3" cy="373.7" r=".85"/>
<circle cx="111.0" cy="375.3" r=".85"/>
<circle cx="101.2" cy="364.9" r=".85"/>
<circle cx="115.4" cy="375.0" r=".85"/>
<circle cx="113.5" cy="372.5" r=".85"/>
<circle cx="112.5" cy="372.9" r=".85"/>
<circle cx="135.3" cy="374.2" r=".85"/>
<circle cx="125.5" cy="376.2" r=".85"/>
<circle cx="118.3" cy="377.7" r=".85"/>
<circle cx="113.6" cy="372.7" r=".85"/>
<circle cx="121.8" cy="377.2" r=".85"/>
<circle cx="121.8" cy="376.4" r=".85"/>
<circle cx="114.6" cy="373.9" r=".85"/>
<circle cx="118.7" cy="377.6" r=".85"/>
<circle cx="121.8" cy="376.8" r=".85"/>
<circle cx="119.4" cy="377.6" r=".85"/>
<circle cx="117.0" cy="376.5" r=".85"/>
<circle cx="104.4" cy="363.9" r=".85"/>
<circle cx="127.8" cy="372.1" r=".85"/>
<circle cx="120.7" cy="376.6" r=".85"/>
<circle cx="142.3" cy="372.2" r=".85"/>
<circle cx="112.9" cy="374.0" r=".85"/>
<circle cx="116.8" cy="375.9" r=".85"/>
<circle cx="120.4" cy="376.9" r=".85"/>
<circle cx="123.5" cy="375.1" r=".85"/>
<circle cx="117.3" cy="376.8" r=".85"/>
<circle cx="113.6" cy="375.0" r=".85"/>
<circle cx="119.2" cy="377.2" r=".85"/>
<circle cx="118.0" cy="377.1" r=".85"/>
<circle cx="130.9" cy="372.3" r=".85"/>
<circle cx="106.4" cy="365.5" r=".85"/>
<circle cx="113.9" cy="374.7" r=".85"/>
<circle cx="127.5" cy="375.9" r=".85"/>
<circle cx="122.4" cy="375.4" r=".85"/>
<circle cx="124.4" cy="375.9" r=".85"/>
<circle cx="113.3" cy="374.4" r=".85"/>
<circle cx="120.9" cy="376.5" r=".85"/>
<circle cx="116.8" cy="376.5" r=".85"/>
<circle cx="134.1" cy="370.9" r=".85"/>
<circle cx="107.1" cy="366.6" r=".85"/>
<circle cx="134.6" cy="373.1" r=".85"/>
<circle cx="108.5" cy="371.8" r=".85"/>
<circle cx="121.5" cy="376.2" r=".85"/>
<circle cx="109.3" cy="373.2" r=".85"/>
<circle cx="113.3" cy="375.6" r=".85"/>
<circle cx="115.6" cy="376.2" r=".85"/>
<circle cx="118.1" cy="377.5" r=".85"/>
<circle cx="125.3" cy="374.4" r=".85"/>
<circle cx="111.2" cy="374.0" r=".85"/>
<circle cx="103.0" cy="367.3" r=".85"/>
<circle cx="118.2" cy="377.4" r=".85"/>
<circle cx="128.4" cy="372.5" r=".85"/>
<circle cx="107.2" cy="366.5" r=".85"/>
<circle cx="129.8" cy="370.3" r=".85"/>
<circle cx="119.2" cy="377.5" r=".85"/>
<circle cx="131.2" cy="372.1" r=".85"/>
<circle cx="113.6" cy="375.8" r=".85"/>
<circle cx="112.0" cy="372.7" r=".85"/>
<circle cx="119.2" cy="377.1" r=".85"/>
<circle cx="123.2" cy="375.5" r=".85"/>
<circle cx="129.5" cy="373.1" r=".85"/>
<circle cx="97.5" cy="356.0" r=".85"/>
<circle cx="110.0" cy="370.9" r=".85"/>
<circle cx="115.9" cy="375.7" r=".85"/>
<circle cx="119.6" cy="377.5" r=".85"/>
<circle cx="130.4" cy="375.0" r=".85"/>
<circle cx="118.4" cy="377.5" r=".85"/>
<circle cx="115.1" cy="376.5" r=".85"/>
<circle cx="120.6" cy="377.4" r=".85"/>
<circle cx="123.8" cy="376.6" r=".85"/>
<circle cx="130.5" cy="372.9" r=".85"/>
<circle cx="115.8" cy="375.6" r=".85"/>
<circle cx="122.9" cy="375.3" r=".85"/>
<circle cx="102.8" cy="369.3" r=".85"/>
<circle cx="110.0" cy="372.2" r=".85"/>
<circle cx="110.0" cy="373.2" r=".85"/>
<circle cx="115.3" cy="376.5" r=".85"/>
<circle cx="128.3" cy="371.9" r=".85"/>
<circle cx="95.8" cy="356.1" r=".85"/>
<circle cx="140.1" cy="366.8" r=".85"/>
<circle cx="119.1" cy="377.3" r=".85"/>
<circle cx="101.4" cy="363.4" r=".85"/>
<circle cx="120.5" cy="377.3" r=".85"/>
<circle cx="124.1" cy="376.4" r=".85"/>
<circle cx="134.3" cy="373.7" r=".85"/>
<circle cx="127.0" cy="373.4" r=".85"/>
<circle cx="124.6" cy="374.2" r=".85"/>
<circle cx="120.0" cy="377.3" r=".85"/>
<circle cx="128.9" cy="373.7" r=".85"/>
<circle cx="109.6" cy="372.6" r=".85"/>
<circle cx="111.8" cy="373.6" r=".85"/>
<circle cx="126.6" cy="373.5" r=".85"/>
<circle cx="108.6" cy="367.8" r=".85"/>
<circle cx="128.5" cy="376.0" r=".85"/>
<circle cx="104.9" cy="366.8" r=".85"/>
<circle cx="114.4" cy="374.0" r=".85"/>
<circle cx="134.3" cy="370.1" r=".85"/>
<circle cx="123.4" cy="376.4" r=".85"/>
<circle cx="117.6" cy="377.3" r=".85"/>
<circle cx="122.2" cy="375.3" r=".85"/>
<circle cx="115.0" cy="376.3" r=".85"/>
<circle cx="112.9" cy="375.7" r=".85"/>
<circle cx="113.9" cy="373.8" r=".85"/>
<circle cx="120.2" cy="376.7" r=".85"/>
<circle cx="109.1" cy="369.8" r=".85"/>
<circle cx="118.8" cy="377.8" r=".85"/>
<circle cx="113.3" cy="375.6" r=".85"/>
<circle cx="111.8" cy="374.6" r=".85"/>
<circle cx="121.2" cy="376.8" r=".85"/>
<circle cx="118.3" cy="377.7" r=".85"/>
<circle cx="110.6" cy="370.5" r=".85"/>
<circle cx="111.0" cy="373.0" r=".85"/>
<circle cx="126.6" cy="374.1" r=".85"/>
<circle cx="112.9" cy="373.1" r=".85"/>
<circle cx="133.5" cy="370.2" r=".85"/>
<circle cx="112.1" cy="372.8" r=".85"/>
<circle cx="125.9" cy="375.6" r=".85"/>
<circle cx="116.4" cy="376.0" r=".85"/>
<circle cx="120.9" cy="376.4" r=".85"/>
<circle cx="128.3" cy="374.8" r=".85"/>
<circle cx="116.0" cy="376.9" r=".85"/>
<circle cx="131.0" cy="373.9" r=".85"/>
<circle cx="117.2" cy="377.1" r=".85"/>
<circle cx="111.2" cy="373.6" r=".85"/>
<circle cx="120.7" cy="376.8" r=".85"/>
<circle cx="122.0" cy="377.0" r=".85"/>
<circle cx="103.7" cy="362.0" r=".85"/>
<circle cx="108.1" cy="369.9" r=".85"/>
<circle cx="123.5" cy="376.7" r=".85"/>
<circle cx="113.5" cy="372.9" r=".85"/>
<circle cx="111.7" cy="372.1" r=".85"/>
<circle cx="104.5" cy="366.5" r=".85"/>
<circle cx="114.0" cy="373.6" r=".85"/>
<circle cx="109.9" cy="375.1" r=".85"/>
<circle cx="122.6" cy="376.2" r=".85"/>
<circle cx="113.8" cy="375.0" r=".85"/>
<circle cx="109.7" cy="371.5" r=".85"/>
<circle cx="114.4" cy="374.6" r=".85"/>
<circle cx="110.9" cy="374.4" r=".85"/>
<circle cx="119.7" cy="377.4" r=".85"/>
<circle cx="99.7" cy="368.3" r=".85"/>
<circle cx="119.0" cy="377.5" r=".85"/>
<circle cx="115.8" cy="375.6" r=".85"/>
<circle cx="114.1" cy="374.1" r=".85"/>
<circle cx="111.5" cy="375.7" r=".85"/>
<circle cx="124.8" cy="374.6" r=".85"/>
<circle cx="124.2" cy="375.1" r=".85"/>
<circle cx="116.5" cy="376.4" r=".85"/>
<circle cx="119.0" cy="377.7" r=".85"/>
<circle cx="110.8" cy="371.9" r=".85"/>
<circle cx="114.8" cy="375.5" r=".85"/>
<circle cx="125.9" cy="374.1" r=".85"/>
<circle cx="127.0" cy="375.0" r=".85"/>
<circle cx="127.8" cy="373.0" r=".85"/>
<circle cx="122.7" cy="375.9" r=".85"/>
<circle cx="109.4" cy="368.8" r=".85"/>
<circle cx="103.9" cy="366.8" r=".85"/>
<circle cx="135.7" cy="366.9" r=".85"/>
<circle cx="118.5" cy="377.8" r=".85"/>
<circle cx="126.0" cy="374.1" r=".85"/>
<circle cx="129.7" cy="374.6" r=".85"/>
<circle cx="118.9" cy="377.5" r=".85"/>
<circle cx="123.2" cy="375.4" r=".85"/>
<circle cx="119.3" cy="377.6" r=".85"/>
<circle cx="115.1" cy="376.1" r=".85"/>
<circle cx="128.6" cy="373.8" r=".85"/>
<circle cx="121.5" cy="376.3" r=".85"/>
<circle cx="119.0" cy="377.7" r=".85"/>
<circle cx="106.3" cy="373.9" r=".85"/>
<circle cx="119.0" cy="377.1" r=".85"/>
<circle cx="124.8" cy="373.6" r=".85"/>
<circle cx="103.1" cy="363.2" r=".85"/>
<circle cx="138.0" cy="367.2" r=".85"/>
<circle cx="127.0" cy="375.0" r=".85"/>
<circle cx="107.8" cy="368.1" r=".85"/>
<circle cx="121.3" cy="377.2" r=".85"/>
<circle cx="124.8" cy="374.1" r=".85"/>
<circle cx="142.0" cy="370.0" r=".85"/>
<circle cx="122.0" cy="376.3" r=".85"/>
<circle cx="125.6" cy="374.8" r=".85"/>
<circle cx="119.8" cy="376.9" r=".85"/>
<circle cx="115.3" cy="375.1" r=".85"/>
<circle cx="112.7" cy="373.7" r=".85"/>
<circle cx="117.3" cy="376.5" r=".85"/>
<circle cx="125.4" cy="375.6" r=".85"/>
<circle cx="129.5" cy="372.5" r=".85"/>
<circle cx="114.9" cy="374.7" r=".85"/>
<circle cx="107.6" cy="373.1" r=".85"/>
<circle cx="111.5" cy="375.0" r=".85"/>
<circle cx="118.4" cy="377.9" r=".85"/>
<circle cx="127.0" cy="374.0" r=".85"/>
<circle cx="119.6" cy="377.5" r=".85"/>
<circle cx="122.6" cy="375.1" r=".85"/>
<circle cx="108.3" cy="367.5" r=".85"/>
<circle cx="122.6" cy="376.7" r=".85"/>
<circle cx="119.2" cy="377.5" r=".85"/>
<circle cx="121.7" cy="376.0" r=".85"/>
<circle cx="107.1" cy="366.6" r=".85"/>
<circle cx="103.2" cy="369.7" r=".85"/>
<circle cx="114.8" cy="375.0" r=".85"/>
<circle cx="110.1" cy="369.8" r=".85"/>
<circle cx="128.7" cy="372.0" r=".85"/>
<circle cx="115.5" cy="375.7" r=".85"/>
<circle cx="102.7" cy="367.2" r=".85"/>
<circle cx="109.4" cy="372.2" r=".85"/>
<circle cx="113.8" cy="374.3" r=".85"/>
<circle cx="127.5" cy="372.6" r=".85"/>
<circle cx="108.8" cy="373.0" r=".85"/>
<circle cx="120.6" cy="376.7" r=".85"/>
<circle cx="111.7" cy="374.2" r=".85"/>
<circle cx="109.3" cy="369.9" r=".85"/>
<circle cx="119.9" cy="377.2" r=".85"/>
<circle cx="122.4" cy="375.4" r=".85"/>
<circle cx="123.3" cy="374.7" r=".85"/>
<circle cx="123.1" cy="374.9" r=".85"/>
<circle cx="111.1" cy="370.5" r=".85"/>
<circle cx="111.1" cy="372.3" r=".85"/>
<circle cx="106.7" cy="366.2" r=".85"/>
<circle cx="120.7" cy="377.3" r=".85"/>
<circle cx="122.3" cy="376.4" r=".85"/>
<circle cx="112.6" cy="375.1" r=".85"/>
<circle cx="121.1" cy="376.5" r=".85"/>
<circle cx="119.9" cy="377.0" r=".85"/>
<circle cx="114.4" cy="376.1" r=".85"/>
<circle cx="102.7" cy="373.1" r=".85"/>
<circle cx="115.3" cy="376.1" r=".85"/>
<circle cx="124.1" cy="374.7" r=".85"/>
<circle cx="115.3" cy="374.5" r=".85"/>
<circle cx="108.1" cy="371.3" r=".85"/>
<circle cx="125.1" cy="375.2" r=".85"/>
<circle cx="113.1" cy="375.4" r=".85"/>
<circle cx="116.6" cy="377.1" r=".85"/>
<circle cx="129.4" cy="373.2" r=".85"/>
<circle cx="100.3" cy="359.1" r=".85"/>
<circle cx="115.3" cy="375.3" r=".85"/>
<circle cx="122.7" cy="376.0" r=".85"/>
<circle cx="120.6" cy="377.3" r=".85"/>
<circle cx="125.3" cy="373.2" r=".85"/>
<circle cx="107.8" cy="369.2" r=".85"/>
<circle cx="120.8" cy="376.9" r=".85"/>
<circle cx="115.2" cy="374.3" r=".85"/>
<circle cx="128.7" cy="373.6" r=".85"/>
<circle cx="104.8" cy="365.8" r=".85"/>
<circle cx="110.9" cy="374.7" r=".85"/>
<circle cx="111.0" cy="371.8" r=".85"/>
<circle cx="126.5" cy="373.7" r=".85"/>
<circle cx="112.8" cy="374.1" r=".85"/>
<circle cx="133.5" cy="374.7" r=".85"/>
<circle cx="124.9" cy="374.3" r=".85"/>
<circle cx="104.9" cy="371.9" r=".85"/>
<circle cx="104.0" cy="365.6" r=".85"/>
<circle cx="125.0" cy="374.5" r=".85"/>
<circle cx="119.6" cy="377.4" r=".85"/>
<circle cx="115.5" cy="375.7" r=".85"/>
<circle cx="123.3" cy="376.4" r=".85"/>
<circle cx="127.4" cy="374.5" r=".85"/>
<circle cx="111.7" cy="372.9" r=".85"/>
<circle cx="122.6" cy="376.1" r=".85"/>
<circle cx="120.4" cy="376.6" r=".85"/>
<circle cx="136.8" cy="368.9" r=".85"/>
<circle cx="116.1" cy="375.4" r=".85"/>
<circle cx="128.7" cy="371.3" r=".85"/>
<circle cx="123.3" cy="375.7" r=".85"/>
<circle cx="130.3" cy="371.1" r=".85"/>
<circle cx="132.6" cy="369.4" r=".85"/>
<circle cx="127.3" cy="374.2" r=".85"/>
<circle cx="120.5" cy="376.9" r=".85"/>
<circle cx="118.5" cy="377.9" r=".85"/>
<circle cx="99.2" cy="357.8" r=".85"/>
<circle cx="122.2" cy="376.0" r=".85"/>
<circle cx="121.6" cy="376.3" r=".85"/>
<circle cx="123.5" cy="376.8" r=".85"/>
<circle cx="106.4" cy="369.7" r=".85"/>
<circle cx="130.7" cy="370.2" r=".85"/>
<circle cx="118.1" cy="377.4" r=".85"/>
<circle cx="110.2" cy="369.2" r=".85"/>
<circle cx="120.2" cy="376.8" r=".85"/>
<circle cx="114.1" cy="373.4" r=".85"/>
<circle cx="111.9" cy="374.5" r=".85"/>
<circle cx="120.9" cy="376.4" r=".85"/>
<circle cx="116.1" cy="376.3" r=".85"/>
<circle cx="107.9" cy="366.7" r=".85"/>
<circle cx="116.6" cy="377.0" r=".85"/>
<circle cx="118.1" cy="377.2" r=".85"/>
<circle cx="123.8" cy="376.0" r=".85"/>
<circle cx="113.1" cy="375.8" r=".85"/>
<circle cx="128.7" cy="373.6" r=".85"/>
<circle cx="121.5" cy="376.3" r=".85"/>
<circle cx="114.8" cy="375.9" r=".85"/>
<circle cx="108.5" cy="367.3" r=".85"/>
<circle cx="123.0" cy="376.4" r=".85"/>
<circle cx="115.7" cy="376.8" r=".85"/>
<circle cx="126.5" cy="372.5" r=".85"/>
<circle cx="97.5" cy="359.6" r=".85"/>
<circle cx="118.8" cy="377.5" r=".85"/>
<circle cx="107.5" cy="370.6" r=".85"/>
<circle cx="135.1" cy="371.3" r=".85"/>
<circle cx="112.7" cy="372.3" r=".85"/>
<circle cx="113.8" cy="373.9" r=".85"/>
<circle cx="114.1" cy="373.7" r=".85"/>
<circle cx="116.8" cy="376.5" r=".85"/>
<circle cx="120.3" cy="377.2" r=".85"/>
<circle cx="114.0" cy="373.7" r=".85"/>
<circle cx="121.6" cy="375.1" r=".85"/>
<circle cx="120.0" cy="377.1" r=".85"/>
<circle cx="122.0" cy="376.0" r=".85"/>
<circle cx="123.7" cy="375.2" r=".85"/>
<circle cx="127.5" cy="376.3" r=".85"/>
<circle cx="115.4" cy="375.7" r=".85"/>
<circle cx="130.2" cy="373.1" r=".85"/>
<circle cx="97.4" cy="367.8" r=".85"/>
<circle cx="121.2" cy="377.1" r=".85"/>
<circle cx="114.0" cy="376.5" r=".85"/>
<circle cx="126.1" cy="373.1" r=".85"/>
<circle cx="116.5" cy="376.2" r=".85"/>
<circle cx="126.0" cy="375.2" r=".85"/>
<circle cx="92.8" cy="358.4" r=".85"/>
<circle cx="109.9" cy="371.7" r=".85"/>
<circle cx="113.6" cy="372.5" r=".85"/>
<circle cx="100.6" cy="367.5" r=".85"/>
<circle cx="123.2" cy="374.2" r=".85"/>
<circle cx="128.0" cy="375.2" r=".85"/>
<circle cx="110.3" cy="374.2" r=".85"/>
<circle cx="114.9" cy="374.4" r=".85"/>
<circle cx="102.2" cy="363.0" r=".85"/>
<circle cx="135.4" cy="372.5" r=".85"/>
<circle cx="115.3" cy="376.2" r=".85"/>
<circle cx="133.4" cy="372.1" r=".85"/>
<circle cx="108.0" cy="371.8" r=".85"/>
<circle cx="109.1" cy="369.8" r=".85"/>
<circle cx="119.6" cy="377.4" r=".85"/>
<circle cx="123.4" cy="375.0" r=".85"/>
<circle cx="111.9" cy="372.8" r=".85"/>
<circle cx="126.4" cy="376.2" r=".85"/>
<circle cx="107.7" cy="367.0" r=".85"/>
<circle cx="119.1" cy="377.6" r=".85"/>
<circle cx="115.6" cy="375.2" r=".85"/>
<circle cx="113.8" cy="372.6" r=".85"/>
<circle cx="140.3" cy="371.4" r=".85"/>
<circle cx="114.3" cy="373.6" r=".85"/>
<circle cx="115.9" cy="375.3" r=".85"/>
<circle cx="115.2" cy="374.6" r=".85"/>
<circle cx="97.3" cy="367.2" r=".85"/>
<circle cx="113.5" cy="374.7" r=".85"/>
<circle cx="111.1" cy="371.7" r=".85"/>
<circle cx="116.2" cy="376.9" r=".85"/>
<circle cx="108.7" cy="374.4" r=".85"/>
<circle cx="115.6" cy="376.2" r=".85"/>
<circle cx="119.0" cy="377.6" r=".85"/>
<circle cx="130.9" cy="372.7" r=".85"/>
<circle cx="109.7" cy="373.2" r=".85"/>
<circle cx="119.5" cy="377.3" r=".85"/>
<circle cx="126.9" cy="375.8" r=".85"/>
<circle cx="128.2" cy="374.8" r=".85"/>
<circle cx="125.5" cy="375.5" r=".85"/>
<circle cx="117.8" cy="377.5" r=".85"/>
<circle cx="118.6" cy="377.8" r=".85"/>
<circle cx="117.0" cy="376.6" r=".85"/>
<circle cx="123.1" cy="375.9" r=".85"/>
<circle cx="135.2" cy="371.7" r=".85"/>
<circle cx="119.9" cy="377.2" r=".85"/>
<circle cx="110.6" cy="370.0" r=".85"/>
<circle cx="113.4" cy="373.1" r=".85"/>
<circle cx="113.7" cy="374.1" r=".85"/>
<circle cx="105.7" cy="372.2" r=".85"/>
<circle cx="109.2" cy="368.9" r=".85"/>
<circle cx="112.7" cy="375.5" r=".85"/>
<circle cx="131.5" cy="370.3" r=".85"/>
<circle cx="120.3" cy="376.7" r=".85"/>
<circle cx="130.6" cy="369.1" r=".85"/>
<circle cx="121.8" cy="376.8" r=".85"/>
<circle cx="107.5" cy="368.1" r=".85"/>
<circle cx="120.0" cy="376.9" r=".85"/>
<circle cx="123.2" cy="376.6" r=".85"/>
<circle cx="119.4" cy="377.4" r=".85"/>
<circle cx="120.9" cy="376.8" r=".85"/>
<circle cx="111.0" cy="371.1" r=".85"/>
<circle cx="112.8" cy="373.8" r=".85"/>
<circle cx="117.6" cy="376.6" r=".85"/>
<circle cx="127.5" cy="372.8" r=".85"/>
<circle cx="104.9" cy="368.6" r=".85"/>
<circle cx="115.1" cy="374.9" r=".85"/>
<circle cx="113.1" cy="372.0" r=".85"/>
<circle cx="131.0" cy="374.0" r=".85"/>
<circle cx="121.7" cy="376.5" r=".85"/>
<circle cx="118.3" cy="377.8" r=".85"/>
<circle cx="124.2" cy="374.4" r=".85"/>
<circle cx="116.1" cy="375.6" r=".85"/>
<circle cx="107.8" cy="367.1" r=".85"/>
<circle cx="127.0" cy="375.2" r=".85"/>
<circle cx="104.3" cy="373.6" r=".85"/>
<circle cx="98.2" cy="365.1" r=".85"/>
<circle cx="109.1" cy="370.7" r=".85"/>
<circle cx="115.7" cy="375.8" r=".85"/>
<circle cx="114.9" cy="376.3" r=".85"/>
<circle cx="114.8" cy="374.8" r=".85"/>
<circle cx="120.1" cy="377.0" r=".85"/>
<circle cx="113.4" cy="373.9" r=".85"/>
<circle cx="102.7" cy="361.9" r=".85"/>
<circle cx="123.1" cy="376.7" r=".85"/>
<circle cx="116.2" cy="376.2" r=".85"/>
<circle cx="127.0" cy="376.2" r=".85"/>
<circle cx="117.5" cy="377.1" r=".85"/>
<circle cx="107.3" cy="369.1" r=".85"/>
<circle cx="108.4" cy="374.3" r=".85"/>
<circle cx="122.2" cy="376.7" r=".85"/>
<circle cx="109.1" cy="368.1" r=".85"/>
<circle cx="121.6" cy="376.9" r=".85"/>
<circle cx="120.3" cy="377.3" r=".85"/>
<circle cx="120.2" cy="376.7" r=".85"/>
<circle cx="121.5" cy="376.4" r=".85"/>
<circle cx="115.1" cy="375.9" r=".85"/>
<circle cx="106.2" cy="371.7" r=".85"/>
<circle cx="108.7" cy="368.2" r=".85"/>
<circle cx="137.0" cy="369.7" r=".85"/>
<circle cx="111.2" cy="370.6" r=".85"/>
<circle cx="107.8" cy="367.4" r=".85"/>
<circle cx="116.6" cy="376.4" r=".85"/>
<circle cx="117.9" cy="377.7" r=".85"/>
<circle cx="127.3" cy="374.9" r=".85"/>
<circle cx="133.8" cy="371.0" r=".85"/>
<circle cx="117.3" cy="376.8" r=".85"/>
<circle cx="116.5" cy="375.9" r=".85"/>
<circle cx="125.1" cy="374.8" r=".85"/>
<circle cx="113.0" cy="374.2" r=".85"/>
<circle cx="102.6" cy="367.9" r=".85"/>
<circle cx="123.2" cy="375.8" r=".85"/>
<circle cx="116.5" cy="376.7" r=".85"/>
<circle cx="115.1" cy="375.8" r=".85"/>
<circle cx="116.0" cy="375.2" r=".85"/>
<circle cx="121.1" cy="377.1" r=".85"/>
<circle cx="124.1" cy="375.3" r=".85"/>
<circle cx="113.6" cy="373.3" r=".85"/>
<circle cx="115.7" cy="376.4" r=".85"/>
<circle cx="113.5" cy="376.4" r=".85"/>
<circle cx="125.3" cy="375.6" r=".85"/>
<circle cx="118.2" cy="377.6" r=".85"/>
<circle cx="124.2" cy="374.6" r=".85"/>
<circle cx="115.1" cy="375.2" r=".85"/>
<circle cx="118.4" cy="377.8" r=".85"/>
<circle cx="121.5" cy="376.5" r=".85"/>
<circle cx="118.1" cy="377.7" r=".85"/>
<circle cx="93.3" cy="359.5" r=".85"/>
<circle cx="133.7" cy="373.3" r=".85"/>
<circle cx="129.2" cy="373.0" r=".85"/>
<circle cx="108.9" cy="374.0" r=".85"/>
<circle cx="133.0" cy="370.4" r=".85"/>
<circle cx="110.8" cy="373.2" r=".85"/>
<circle cx="125.3" cy="373.6" r=".85"/>
<circle cx="120.9" cy="377.4" r=".85"/>
<circle cx="124.9" cy="375.0" r=".85"/>
<circle cx="107.5" cy="370.2" r=".85"/>
<circle cx="124.2" cy="375.3" r=".85"/>
<circle cx="128.7" cy="373.6" r=".85"/>
<circle cx="117.2" cy="376.7" r=".85"/>
<circle cx="122.5" cy="375.8" r=".85"/>
<circle cx="121.2" cy="376.4" r=".85"/>
<circle cx="122.4" cy="375.5" r=".85"/>
<circle cx="115.3" cy="375.3" r=".85"/>
<circle cx="125.7" cy="374.2" r=".85"/>
<circle cx="130.2" cy="373.7" r=".85"/>
<circle cx="120.9" cy="377.2" r=".85"/>
<circle cx="120.3" cy="376.9" r=".85"/>
<circle cx="126.2" cy="373.0" r=".85"/>
<circle cx="101.0" cy="365.6" r=".85"/>
<circle cx="121.0" cy="377.2" r=".85"/>
<circle cx="111.9" cy="374.5" r=".85"/>
<circle cx="123.5" cy="376.6" r=".85"/>
<circle cx="104.1" cy="366.8" r=".85"/>
<circle cx="107.6" cy="369.3" r=".85"/>
<circle cx="134.5" cy="370.8" r=".85"/>
<circle cx="118.9" cy="377.0" r=".85"/>
<circle cx="110.8" cy="372.7" r=".85"/>
<circle cx="110.6" cy="375.5" r=".85"/>
<circle cx="124.9" cy="373.7" r=".85"/>
<circle cx="115.3" cy="374.8" r=".85"/>
<circle cx="120.4" cy="376.7" r=".85"/>
<circle cx="118.7" cy="377.8" r=".85"/>
<circle cx="121.7" cy="375.9" r=".85"/>
<circle cx="105.1" cy="366.0" r=".85"/>
<circle cx="124.6" cy="374.9" r=".85"/>
<circle cx="117.1" cy="376.6" r=".85"/>
<circle cx="130.2" cy="374.1" r=".85"/>
<circle cx="112.4" cy="373.1" r=".85"/>
<circle cx="118.4" cy="377.5" r=".85"/>
<circle cx="120.7" cy="376.6" r=".85"/>
<circle cx="122.4" cy="376.2" r=".85"/>
<circle cx="121.8" cy="376.0" r=".85"/>
<circle cx="122.7" cy="375.3" r=".85"/>
<circle cx="102.0" cy="372.5" r=".85"/>
<circle cx="126.9" cy="374.6" r=".85"/>
<circle cx="126.9" cy="372.6" r=".85"/>
<circle cx="129.6" cy="371.9" r=".85"/>
<circle cx="129.8" cy="370.7" r=".85"/>
<circle cx="116.5" cy="377.0" r=".85"/>
<circle cx="107.0" cy="372.7" r=".85"/>
<circle cx="120.2" cy="376.8" r=".85"/>
<circle cx="113.1" cy="374.6" r=".85"/>
<circle cx="112.4" cy="372.3" r=".85"/>
<circle cx="135.8" cy="372.4" r=".85"/>
<circle cx="118.5" cy="377.7" r=".85"/>
<circle cx="125.1" cy="375.8" r=".85"/>
<circle cx="102.2" cy="369.8" r=".85"/>
<circle cx="105.9" cy="367.5" r=".85"/>
<circle cx="127.3" cy="373.4" r=".85"/>
<circle cx="121.7" cy="376.5" r=".85"/>
<circle cx="129.3" cy="371.7" r=".85"/>
<circle cx="114.5" cy="375.8" r=".85"/>
<circle cx="129.9" cy="370.7" r=".85"/>
<circle cx="122.9" cy="375.6" r=".85"/>
<circle cx="123.2" cy="376.2" r=".85"/>
<circle cx="123.2" cy="375.4" r=".85"/>
<circle cx="112.4" cy="373.9" r=".85"/>
<circle cx="116.7" cy="376.5" r=".85"/>
<circle cx="113.6" cy="373.9" r=".85"/>
<circle cx="115.2" cy="376.8" r=".85"/>
<circle cx="111.1" cy="375.1" r=".85"/>
<circle cx="125.5" cy="374.6" r=".85"/>
<circle cx="111.4" cy="374.6" r=".85"/>
<circle cx="104.6" cy="372.8" r=".85"/>
<circle cx="115.0" cy="376.3" r=".85"/>
<circle cx="119.2" cy="377.0" r=".85"/>
<circle cx="111.8" cy="371.2" r=".85"/>
<circle cx="117.3" cy="376.7" r=".85"/>
<circle cx="106.4" cy="369.0" r=".85"/>
<circle cx="112.8" cy="372.5" r=".85"/>
<circle cx="107.8" cy="370.6" r=".85"/>
<circle cx="115.0" cy="374.1" r=".85"/>
<circle cx="133.1" cy="369.9" r=".85"/>
<circle cx="119.6" cy="377.4" r=".85"/>
<circle cx="118.0" cy="377.1" r=".85"/>
<circle cx="124.5" cy="375.6" r=".85"/>
<circle cx="128.2" cy="374.3" r=".85"/>
<circle cx="103.2" cy="362.8" r=".85"/>
<circle cx="117.7" cy="377.0" r=".85"/>
<circle cx="100.1" cy="372.0" r=".85"/>
<circle cx="108.7" cy="372.7" r=".85"/>
<circle cx="116.0" cy="375.9" r=".85"/>
<circle cx="123.6" cy="376.5" r=".85"/>
<circle cx="129.8" cy="374.8" r=".85"/>
<circle cx="113.4" cy="374.1" r=".85"/>
<circle cx="118.7" cy="377.8" r=".85"/>
<circle cx="110.7" cy="375.4" r=".85"/>
<circle cx="116.9" cy="377.4" r=".85"/>
<circle cx="108.9" cy="373.4" r=".85"/>
<circle cx="103.4" cy="372.1" r=".85"/>
<circle cx="124.1" cy="376.3" r=".85"/>
<circle cx="125.3" cy="374.8" r=".85"/>
<circle cx="116.1" cy="376.7" r=".85"/>
<circle cx="112.1" cy="374.3" r=".85"/>
<circle cx="113.0" cy="375.8" r=".85"/>
<circle cx="113.3" cy="374.1" r=".85"/>
<circle cx="135.4" cy="366.6" r=".85"/>
<circle cx="116.3" cy="377.3" r=".85"/>
<circle cx="118.7" cy="377.7" r=".85"/>
<circle cx="106.3" cy="368.2" r=".85"/>
<circle cx="120.9" cy="376.4" r=".85"/>
<circle cx="113.6" cy="373.1" r=".85"/>
<circle cx="114.3" cy="375.8" r=".85"/>
<circle cx="101.7" cy="366.7" r=".85"/>
<circle cx="121.5" cy="376.9" r=".85"/>
<circle cx="134.3" cy="373.8" r=".85"/>
<circle cx="129.4" cy="374.9" r=".85"/>
<circle cx="130.0" cy="369.9" r=".85"/>
<circle cx="115.2" cy="374.9" r=".85"/>
<circle cx="106.6" cy="372.5" r=".85"/>
<circle cx="117.0" cy="376.6" r=".85"/>
<circle cx="111.2" cy="373.6" r=".85"/>
<circle cx="106.1" cy="371.2" r=".85"/>
<circle cx="127.4" cy="375.8" r=".85"/>
<circle cx="108.4" cy="373.8" r=".85"/>
<circle cx="121.3" cy="377.0" r=".85"/>
<circle cx="103.3" cy="365.1" r=".85"/>
<circle cx="127.3" cy="372.3" r=".85"/>
<circle cx="115.3" cy="374.9" r=".85"/>
<circle cx="113.4" cy="375.0" r=".85"/>
<circle cx="102.6" cy="363.5" r=".85"/>
<circle cx="119.0" cy="377.7" r=".85"/>
<circle cx="131.0" cy="370.6" r=".85"/>
<circle cx="122.1" cy="377.0" r=".85"/>
<circle cx="115.2" cy="376.3" r=".85"/>
<circle cx="115.1" cy="374.8" r=".85"/>
<circle cx="106.9" cy="366.0" r=".85"/>
<circle cx="120.4" cy="377.4" r=".85"/>
</g>
<line x1="36.50" y1="263.50" x2="36.50" y2="383.20" stroke="#333" stroke-width="1.1" />
<line x1="36.50" y1="383.20" x2="253.50" y2="383.20" stroke="#333" stroke-width="1.1" />
<line x1="33.90" y1="378.00" x2="36.50" y2="378.00" stroke="#333" stroke-width="0.9" />
<text x="30.50" y="380.50" font-size="7.2" fill="#333" stroke="#333" stroke-width="0.1" text-anchor="end" >0</text>
<line x1="33.90" y1="339.00" x2="36.50" y2="339.00" stroke="#333" stroke-width="0.9" />
<text x="30.50" y="341.50" font-size="7.2" fill="#333" stroke="#333" stroke-width="0.1" text-anchor="end" >5</text>
<line x1="33.90" y1="300.00" x2="36.50" y2="300.00" stroke="#333" stroke-width="0.9" />
<text x="30.50" y="302.50" font-size="7.2" fill="#333" stroke="#333" stroke-width="0.1" text-anchor="end" >10</text>
<line x1="49.51" y1="383.20" x2="49.51" y2="385.60" stroke="#333" stroke-width="0.9" />
<text x="49.51" y="396.00" font-size="7.3" fill="#222" stroke="#222" stroke-width="0.1" text-anchor="middle" >0.85</text>
<line x1="96.71" y1="383.20" x2="96.71" y2="385.60" stroke="#333" stroke-width="0.9" />
<text x="96.71" y="396.00" font-size="7.3" fill="#222" stroke="#222" stroke-width="0.1" text-anchor="middle" >0.95</text>
<line x1="118.47" y1="383.20" x2="118.47" y2="385.60" stroke="#333" stroke-width="0.9" />
<text x="118.47" y="396.00" font-size="7.3" fill="#222" stroke="#222" stroke-width="0.1" text-anchor="middle" >1</text>
<line x1="139.17" y1="383.20" x2="139.17" y2="385.60" stroke="#333" stroke-width="0.9" />
<text x="139.17" y="396.00" font-size="7.3" fill="#222" stroke="#222" stroke-width="0.1" text-anchor="middle" >1.05</text>
<line x1="195.83" y1="383.20" x2="195.83" y2="385.60" stroke="#333" stroke-width="0.9" />
<text x="195.83" y="396.00" font-size="7.3" fill="#222" stroke="#222" stroke-width="0.1" text-anchor="middle" >1.2</text>
<line x1="229.79" y1="383.20" x2="229.79" y2="385.60" stroke="#333" stroke-width="0.9" />
<text x="229.79" y="396.00" font-size="7.3" fill="#222" stroke="#222" stroke-width="0.1" text-anchor="middle" >1.3</text>
<text x="16.50" y="323.20" font-size="7.4" fill="#222" text-anchor="middle" textLength="37.20" lengthAdjust="spacingAndGlyphs" transform="rotate(-90 16.50 323.20)" stroke="#222" stroke-width="0.15">-log10 (FDR)</text>
<circle cx="40" cy="258.6" r="1.3" fill="#2a2a8a"/>
<text x="45.00" y="261.20" font-size="6.6" fill="#333" stroke="#333" stroke-width="0.1" textLength="55.00" lengthAdjust="spacingAndGlyphs" >Defense response/</text>
<text x="45.00" y="269.60" font-size="6.6" fill="#333" stroke="#333" stroke-width="0.1" textLength="82.50" lengthAdjust="spacingAndGlyphs" >immune response signature</text>
<text x="144.20" y="408.80" font-size="8.6" fill="#222" text-anchor="middle" textLength="89.00" lengthAdjust="spacingAndGlyphs" stroke="#222" stroke-width="0.15">Fold change (CHIP vs. No-CHIP)</text>
<text x="268.75" y="252.00" font-size="10.6" fill="#111" stroke="#111" stroke-width="0.1" font-weight="bold" >E</text>
<line x1="357.50" y1="267.00" x2="357.50" y2="382.00" stroke="#999" stroke-width="1" stroke-dasharray="1,1" />
<line x1="399.50" y1="267.00" x2="399.50" y2="382.00" stroke="#999" stroke-width="1" stroke-dasharray="1,1" />
<line x1="297.00" y1="368.50" x2="514.00" y2="368.50" stroke="#8a8a8a" stroke-width="1" stroke-dasharray="1,1" />
<g fill="#7a7a7a" fill-opacity="0.06">
<circle cx="375.5" cy="374.7" r=".85"/>
<circle cx="382.4" cy="377.8" r=".85"/>
<circle cx="393.5" cy="371.0" r=".85"/>
<circle cx="356.4" cy="357.4" r=".85"/>
<circle cx="376.8" cy="377.8" r=".85"/>
<circle cx="367.4" cy="366.5" r=".85"/>
<circle cx="393.2" cy="364.3" r=".85"/>
<circle cx="357.2" cy="350.5" r=".85"/>
<circle cx="393.0" cy="366.8" r=".85"/>
<circle cx="370.2" cy="367.5" r=".85"/>
<circle cx="386.5" cy="367.2" r=".85"/>
<circle cx="379.2" cy="377.7" r=".85"/>
<circle cx="386.2" cy="374.6" r=".85"/>
<circle cx="395.7" cy="366.4" r=".85"/>
<circle cx="379.5" cy="377.8" r=".85"/>
<circle cx="386.9" cy="376.0" r=".85"/>
<circle cx="357.6" cy="349.8" r=".85"/>
<circle cx="383.5" cy="377.9" r=".85"/>
<circle cx="363.9" cy="363.5" r=".85"/>
<circle cx="389.1" cy="369.3" r=".85"/>
<circle cx="393.7" cy="362.8" r=".85"/>
<circle cx="392.1" cy="368.4" r=".85"/>
<circle cx="352.2" cy="361.9" r=".85"/>
<circle cx="362.6" cy="361.5" r=".85"/>
<circle cx="363.2" cy="360.1" r=".85"/>
<circle cx="368.9" cy="367.5" r=".85"/>
<circle cx="386.5" cy="368.2" r=".85"/>
<circle cx="371.5" cy="375.0" r=".85"/>
<circle cx="374.0" cy="377.3" r=".85"/>
<circle cx="385.1" cy="369.6" r=".85"/>
<circle cx="361.1" cy="376.7" r=".85"/>
<circle cx="392.6" cy="363.8" r=".85"/>
<circle cx="371.0" cy="373.8" r=".85"/>
<circle cx="348.8" cy="343.6" r=".85"/>
<circle cx="377.6" cy="377.2" r=".85"/>
<circle cx="377.2" cy="375.7" r=".85"/>
<circle cx="402.1" cy="372.5" r=".85"/>
<circle cx="387.0" cy="375.2" r=".85"/>
<circle cx="410.7" cy="369.1" r=".85"/>
<circle cx="366.6" cy="376.7" r=".85"/>
<circle cx="371.8" cy="377.2" r=".85"/>
<circle cx="363.7" cy="361.2" r=".85"/>
<circle cx="394.1" cy="364.5" r=".85"/>
<circle cx="365.4" cy="369.9" r=".85"/>
<circle cx="343.3" cy="349.3" r=".85"/>
<circle cx="377.8" cy="377.4" r=".85"/>
<circle cx="367.3" cy="362.8" r=".85"/>
<circle cx="386.6" cy="368.7" r=".85"/>
<circle cx="372.0" cy="373.2" r=".85"/>
<circle cx="381.2" cy="377.4" r=".85"/>
<circle cx="380.7" cy="376.2" r=".85"/>
<circle cx="380.1" cy="376.8" r=".85"/>
<circle cx="413.0" cy="360.7" r=".85"/>
<circle cx="361.0" cy="352.6" r=".85"/>
<circle cx="385.1" cy="372.9" r=".85"/>
<circle cx="396.0" cy="363.4" r=".85"/>
<circle cx="365.9" cy="369.3" r=".85"/>
<circle cx="366.5" cy="375.5" r=".85"/>
<circle cx="358.1" cy="364.2" r=".85"/>
<circle cx="375.0" cy="376.4" r=".85"/>
<circle cx="377.2" cy="377.3" r=".85"/>
<circle cx="393.1" cy="357.6" r=".85"/>
<circle cx="377.0" cy="377.5" r=".85"/>
<circle cx="373.7" cy="372.7" r=".85"/>
<circle cx="394.1" cy="373.6" r=".85"/>
<circle cx="377.4" cy="376.0" r=".85"/>
<circle cx="378.3" cy="377.5" r=".85"/>
<circle cx="373.1" cy="377.5" r=".85"/>
<circle cx="387.8" cy="377.8" r=".85"/>
<circle cx="359.5" cy="349.7" r=".85"/>
<circle cx="378.3" cy="377.1" r=".85"/>
<circle cx="391.6" cy="371.0" r=".85"/>
<circle cx="387.6" cy="368.4" r=".85"/>
<circle cx="364.3" cy="370.1" r=".85"/>
<circle cx="393.0" cy="370.0" r=".85"/>
<circle cx="384.0" cy="374.3" r=".85"/>
<circle cx="377.3" cy="377.4" r=".85"/>
<circle cx="355.7" cy="375.6" r=".85"/>
<circle cx="376.4" cy="377.3" r=".85"/>
<circle cx="384.8" cy="373.6" r=".85"/>
<circle cx="372.4" cy="373.8" r=".85"/>
<circle cx="390.5" cy="367.7" r=".85"/>
<circle cx="384.3" cy="375.5" r=".85"/>
<circle cx="393.0" cy="358.8" r=".85"/>
<circle cx="394.6" cy="375.8" r=".85"/>
<circle cx="402.4" cy="358.0" r=".85"/>
<circle cx="360.5" cy="365.9" r=".85"/>
<circle cx="388.4" cy="366.8" r=".85"/>
<circle cx="379.4" cy="377.7" r=".85"/>
<circle cx="376.0" cy="375.3" r=".85"/>
<circle cx="388.8" cy="367.4" r=".85"/>
<circle cx="371.1" cy="368.4" r=".85"/>
<circle cx="395.0" cy="360.0" r=".85"/>
<circle cx="376.8" cy="377.9" r=".85"/>
<circle cx="370.1" cy="368.7" r=".85"/>
<circle cx="372.3" cy="375.3" r=".85"/>
<circle cx="378.6" cy="378.0" r=".85"/>
<circle cx="357.2" cy="355.3" r=".85"/>
<circle cx="356.2" cy="349.2" r=".85"/>
<circle cx="374.5" cy="377.2" r=".85"/>
<circle cx="377.7" cy="377.6" r=".85"/>
<circle cx="370.2" cy="373.3" r=".85"/>
<circle cx="362.5" cy="363.4" r=".85"/>
<circle cx="403.1" cy="369.7" r=".85"/>
<circle cx="384.5" cy="370.4" r=".85"/>
<circle cx="378.5" cy="377.4" r=".85"/>
<circle cx="351.6" cy="352.8" r=".85"/>
<circle cx="392.5" cy="369.0" r=".85"/>
<circle cx="372.6" cy="377.6" r=".85"/>
<circle cx="363.6" cy="360.2" r=".85"/>
<circle cx="393.7" cy="372.4" r=".85"/>
<circle cx="373.5" cy="370.4" r=".85"/>
<circle cx="381.5" cy="376.9" r=".85"/>
<circle cx="390.6" cy="371.9" r=".85"/>
<circle cx="378.4" cy="378.0" r=".85"/>
<circle cx="391.5" cy="377.1" r=".85"/>
<circle cx="376.6" cy="375.8" r=".85"/>
<circle cx="373.6" cy="372.6" r=".85"/>
<circle cx="378.7" cy="378.0" r=".85"/>
<circle cx="406.1" cy="366.9" r=".85"/>
</g>
<g fill="#7a7a7a" fill-opacity="0.09">
<circle cx="380.2" cy="377.5" r=".85"/>
<circle cx="387.9" cy="375.3" r=".85"/>
<circle cx="371.6" cy="373.4" r=".85"/>
<circle cx="375.5" cy="376.7" r=".85"/>
<circle cx="367.7" cy="373.1" r=".85"/>
<circle cx="373.3" cy="374.3" r=".85"/>
<circle cx="373.2" cy="376.4" r=".85"/>
<circle cx="374.0" cy="372.2" r=".85"/>
<circle cx="380.3" cy="376.9" r=".85"/>
<circle cx="372.8" cy="372.1" r=".85"/>
<circle cx="377.7" cy="376.5" r=".85"/>
<circle cx="374.9" cy="375.8" r=".85"/>
<circle cx="365.3" cy="363.2" r=".85"/>
<circle cx="383.8" cy="375.1" r=".85"/>
<circle cx="385.6" cy="373.6" r=".85"/>
<circle cx="361.2" cy="366.6" r=".85"/>
<circle cx="397.5" cy="369.7" r=".85"/>
<circle cx="375.2" cy="373.7" r=".85"/>
<circle cx="371.8" cy="375.0" r=".85"/>
<circle cx="390.1" cy="374.8" r=".85"/>
<circle cx="391.6" cy="374.3" r=".85"/>
<circle cx="371.4" cy="370.7" r=".85"/>
<circle cx="396.1" cy="370.6" r=".85"/>
<circle cx="380.1" cy="377.3" r=".85"/>
<circle cx="384.6" cy="375.3" r=".85"/>
<circle cx="377.6" cy="376.5" r=".85"/>
<circle cx="372.8" cy="375.3" r=".85"/>
<circle cx="381.7" cy="376.9" r=".85"/>
<circle cx="378.4" cy="377.0" r=".85"/>
<circle cx="367.9" cy="369.5" r=".85"/>
<circle cx="379.8" cy="377.3" r=".85"/>
<circle cx="372.4" cy="373.4" r=".85"/>
<circle cx="380.8" cy="376.7" r=".85"/>
<circle cx="365.2" cy="363.4" r=".85"/>
<circle cx="377.3" cy="376.9" r=".85"/>
<circle cx="380.7" cy="377.1" r=".85"/>
<circle cx="379.8" cy="377.7" r=".85"/>
<circle cx="374.4" cy="374.8" r=".85"/>
<circle cx="395.2" cy="372.6" r=".85"/>
<circle cx="385.2" cy="374.9" r=".85"/>
<circle cx="389.3" cy="371.2" r=".85"/>
<circle cx="375.2" cy="374.0" r=".85"/>
<circle cx="379.2" cy="377.6" r=".85"/>
<circle cx="390.7" cy="372.1" r=".85"/>
<circle cx="371.3" cy="372.6" r=".85"/>
<circle cx="379.4" cy="377.7" r=".85"/>
<circle cx="364.7" cy="368.6" r=".85"/>
<circle cx="384.9" cy="374.4" r=".85"/>
<circle cx="392.0" cy="374.3" r=".85"/>
<circle cx="376.3" cy="376.6" r=".85"/>
<circle cx="374.5" cy="373.8" r=".85"/>
<circle cx="392.8" cy="372.8" r=".85"/>
<circle cx="388.4" cy="372.7" r=".85"/>
<circle cx="381.9" cy="376.5" r=".85"/>
<circle cx="381.7" cy="376.2" r=".85"/>
<circle cx="389.9" cy="374.7" r=".85"/>
<circle cx="377.2" cy="376.4" r=".85"/>
<circle cx="398.1" cy="366.9" r=".85"/>
<circle cx="380.3" cy="376.9" r=".85"/>
<circle cx="379.8" cy="377.4" r=".85"/>
<circle cx="380.7" cy="377.0" r=".85"/>
<circle cx="388.5" cy="373.2" r=".85"/>
<circle cx="381.7" cy="376.8" r=".85"/>
<circle cx="367.2" cy="369.4" r=".85"/>
<circle cx="379.1" cy="377.8" r=".85"/>
<circle cx="374.0" cy="374.9" r=".85"/>
<circle cx="377.8" cy="377.2" r=".85"/>
<circle cx="395.0" cy="371.6" r=".85"/>
<circle cx="371.4" cy="375.1" r=".85"/>
<circle cx="363.2" cy="368.1" r=".85"/>
<circle cx="371.2" cy="373.9" r=".85"/>
<circle cx="359.8" cy="363.0" r=".85"/>
<circle cx="370.9" cy="372.7" r=".85"/>
<circle cx="378.8" cy="377.7" r=".85"/>
<circle cx="381.9" cy="376.9" r=".85"/>
<circle cx="377.2" cy="376.3" r=".85"/>
<circle cx="377.3" cy="376.5" r=".85"/>
<circle cx="371.1" cy="374.8" r=".85"/>
<circle cx="384.0" cy="376.7" r=".85"/>
<circle cx="385.1" cy="375.2" r=".85"/>
<circle cx="391.4" cy="369.5" r=".85"/>
<circle cx="391.2" cy="372.3" r=".85"/>
<circle cx="388.8" cy="372.9" r=".85"/>
<circle cx="373.5" cy="375.4" r=".85"/>
<circle cx="377.5" cy="375.9" r=".85"/>
<circle cx="375.1" cy="375.9" r=".85"/>
<circle cx="372.0" cy="375.2" r=".85"/>
<circle cx="378.9" cy="377.7" r=".85"/>
<circle cx="381.2" cy="376.7" r=".85"/>
<circle cx="375.2" cy="375.8" r=".85"/>
<circle cx="366.2" cy="370.5" r=".85"/>
<circle cx="385.1" cy="376.6" r=".85"/>
<circle cx="382.7" cy="376.8" r=".85"/>
<circle cx="376.0" cy="375.1" r=".85"/>
<circle cx="382.9" cy="376.2" r=".85"/>
<circle cx="392.0" cy="370.6" r=".85"/>
<circle cx="384.1" cy="376.7" r=".85"/>
<circle cx="386.2" cy="374.5" r=".85"/>
<circle cx="375.8" cy="375.5" r=".85"/>
<circle cx="381.3" cy="376.4" r=".85"/>
<circle cx="381.9" cy="377.0" r=".85"/>
<circle cx="385.6" cy="376.2" r=".85"/>
<circle cx="380.5" cy="376.4" r=".85"/>
<circle cx="372.9" cy="375.5" r=".85"/>
<circle cx="388.0" cy="375.3" r=".85"/>
<circle cx="382.8" cy="375.6" r=".85"/>
<circle cx="373.2" cy="373.1" r=".85"/>
<circle cx="380.8" cy="377.3" r=".85"/>
<circle cx="373.7" cy="375.6" r=".85"/>
<circle cx="381.3" cy="376.2" r=".85"/>
<circle cx="379.2" cy="377.9" r=".85"/>
<circle cx="385.1" cy="376.2" r=".85"/>
<circle cx="368.0" cy="368.3" r=".85"/>
<circle cx="370.7" cy="370.6" r=".85"/>
<circle cx="380.1" cy="377.4" r=".85"/>
<circle cx="390.4" cy="370.4" r=".85"/>
<circle cx="361.3" cy="359.3" r=".85"/>
<circle cx="386.5" cy="373.2" r=".85"/>
<circle cx="382.3" cy="376.4" r=".85"/>
<circle cx="368.5" cy="373.5" r=".85"/>
<circle cx="385.5" cy="373.5" r=".85"/>
<circle cx="370.0" cy="374.0" r=".85"/>
<circle cx="387.6" cy="374.0" r=".85"/>
<circle cx="391.4" cy="375.0" r=".85"/>
<circle cx="380.9" cy="377.0" r=".85"/>
<circle cx="381.7" cy="376.7" r=".85"/>
<circle cx="386.7" cy="373.4" r=".85"/>
<circle cx="374.8" cy="373.1" r=".85"/>
<circle cx="383.2" cy="377.0" r=".85"/>
<circle cx="384.9" cy="375.2" r=".85"/>
<circle cx="369.0" cy="375.1" r=".85"/>
<circle cx="372.8" cy="375.1" r=".85"/>
<circle cx="386.5" cy="375.3" r=".85"/>
<circle cx="382.9" cy="376.8" r=".85"/>
<circle cx="389.1" cy="374.6" r=".85"/>
<circle cx="376.4" cy="375.4" r=".85"/>
<circle cx="375.3" cy="376.6" r=".85"/>
<circle cx="382.6" cy="376.4" r=".85"/>
<circle cx="384.9" cy="375.2" r=".85"/>
<circle cx="375.4" cy="375.0" r=".85"/>
<circle cx="369.6" cy="373.0" r=".85"/>
<circle cx="391.4" cy="371.3" r=".85"/>
<circle cx="386.3" cy="374.6" r=".85"/>
<circle cx="388.7" cy="372.3" r=".85"/>
<circle cx="373.2" cy="373.2" r=".85"/>
<circle cx="386.9" cy="373.7" r=".85"/>
<circle cx="390.4" cy="374.8" r=".85"/>
<circle cx="382.9" cy="375.4" r=".85"/>
<circle cx="385.5" cy="374.9" r=".85"/>
<circle cx="373.1" cy="373.4" r=".85"/>
<circle cx="370.4" cy="369.8" r=".85"/>
<circle cx="376.7" cy="375.4" r=".85"/>
<circle cx="382.4" cy="375.9" r=".85"/>
<circle cx="399.5" cy="364.3" r=".85"/>
<circle cx="375.9" cy="376.0" r=".85"/>
<circle cx="371.9" cy="374.7" r=".85"/>
<circle cx="381.4" cy="376.9" r=".85"/>
<circle cx="391.6" cy="373.3" r=".85"/>
<circle cx="380.1" cy="377.5" r=".85"/>
<circle cx="389.6" cy="372.1" r=".85"/>
<circle cx="386.1" cy="375.4" r=".85"/>
<circle cx="383.3" cy="375.4" r=".85"/>
<circle cx="371.6" cy="370.2" r=".85"/>
<circle cx="384.9" cy="374.1" r=".85"/>
<circle cx="366.6" cy="364.5" r=".85"/>
<circle cx="383.3" cy="375.1" r=".85"/>
<circle cx="378.0" cy="376.9" r=".85"/>
<circle cx="371.3" cy="372.2" r=".85"/>
<circle cx="372.3" cy="371.9" r=".85"/>
<circle cx="375.8" cy="374.8" r=".85"/>
<circle cx="391.5" cy="374.3" r=".85"/>
<circle cx="374.9" cy="375.0" r=".85"/>
<circle cx="388.5" cy="374.4" r=".85"/>
<circle cx="383.7" cy="374.7" r=".85"/>
<circle cx="396.9" cy="366.5" r=".85"/>
<circle cx="386.7" cy="374.2" r=".85"/>
<circle cx="396.6" cy="372.3" r=".85"/>
<circle cx="377.1" cy="376.8" r=".85"/>
<circle cx="383.7" cy="375.3" r=".85"/>
<circle cx="362.9" cy="361.6" r=".85"/>
<circle cx="364.0" cy="368.5" r=".85"/>
<circle cx="384.7" cy="376.8" r=".85"/>
<circle cx="384.4" cy="374.3" r=".85"/>
<circle cx="372.2" cy="372.9" r=".85"/>
<circle cx="379.1" cy="377.4" r=".85"/>
<circle cx="366.9" cy="368.8" r=".85"/>
<circle cx="370.4" cy="374.2" r=".85"/>
<circle cx="374.6" cy="375.4" r=".85"/>
<circle cx="384.9" cy="374.2" r=".85"/>
<circle cx="379.2" cy="377.7" r=".85"/>
<circle cx="383.0" cy="377.0" r=".85"/>
<circle cx="373.3" cy="375.2" r=".85"/>
<circle cx="380.9" cy="376.9" r=".85"/>
<circle cx="387.9" cy="372.8" r=".85"/>
<circle cx="372.7" cy="372.7" r=".85"/>
<circle cx="377.3" cy="376.2" r=".85"/>
<circle cx="381.1" cy="376.5" r=".85"/>
<circle cx="385.7" cy="374.0" r=".85"/>
<circle cx="380.8" cy="377.1" r=".85"/>
<circle cx="380.6" cy="377.4" r=".85"/>
<circle cx="380.7" cy="376.9" r=".85"/>
<circle cx="370.4" cy="370.3" r=".85"/>
<circle cx="369.4" cy="370.5" r=".85"/>
<circle cx="382.2" cy="376.8" r=".85"/>
<circle cx="390.9" cy="375.5" r=".85"/>
<circle cx="375.0" cy="375.7" r=".85"/>
<circle cx="374.9" cy="374.8" r=".85"/>
<circle cx="379.3" cy="377.7" r=".85"/>
<circle cx="379.0" cy="377.8" r=".85"/>
<circle cx="362.3" cy="366.8" r=".85"/>
<circle cx="376.5" cy="375.5" r=".85"/>
<circle cx="376.9" cy="376.5" r=".85"/>
<circle cx="379.9" cy="377.7" r=".85"/>
<circle cx="378.8" cy="377.7" r=".85"/>
<circle cx="382.8" cy="375.5" r=".85"/>
<circle cx="368.8" cy="373.9" r=".85"/>
<circle cx="386.6" cy="375.6" r=".85"/>
<circle cx="390.9" cy="373.4" r=".85"/>
<circle cx="374.2" cy="375.1" r=".85"/>
<circle cx="383.3" cy="375.0" r=".85"/>
<circle cx="372.5" cy="374.6" r=".85"/>
<circle cx="379.0" cy="377.9" r=".85"/>
<circle cx="370.8" cy="370.1" r=".85"/>
<circle cx="374.2" cy="374.1" r=".85"/>
<circle cx="382.2" cy="375.9" r=".85"/>
<circle cx="375.6" cy="375.1" r=".85"/>
<circle cx="372.8" cy="374.6" r=".85"/>
<circle cx="377.8" cy="376.9" r=".85"/>
<circle cx="378.2" cy="377.2" r=".85"/>
<circle cx="380.9" cy="376.1" r=".85"/>
<circle cx="366.5" cy="373.5" r=".85"/>
<circle cx="385.2" cy="375.1" r=".85"/>
<circle cx="366.6" cy="374.0" r=".85"/>
<circle cx="374.7" cy="374.4" r=".85"/>
<circle cx="375.2" cy="374.8" r=".85"/>
<circle cx="372.7" cy="373.7" r=".85"/>
<circle cx="387.9" cy="376.0" r=".85"/>
<circle cx="371.4" cy="372.5" r=".85"/>
<circle cx="376.6" cy="375.7" r=".85"/>
<circle cx="382.8" cy="377.1" r=".85"/>
<circle cx="388.9" cy="371.6" r=".85"/>
<circle cx="374.9" cy="374.8" r=".85"/>
<circle cx="364.5" cy="374.0" r=".85"/>
<circle cx="380.1" cy="377.3" r=".85"/>
<circle cx="378.5" cy="377.3" r=".85"/>
<circle cx="382.2" cy="375.9" r=".85"/>
<circle cx="380.3" cy="377.4" r=".85"/>
<circle cx="377.7" cy="377.3" r=".85"/>
<circle cx="367.0" cy="374.2" r=".85"/>
<circle cx="375.6" cy="376.1" r=".85"/>
<circle cx="368.0" cy="373.7" r=".85"/>
<circle cx="374.1" cy="374.2" r=".85"/>
<circle cx="383.2" cy="377.0" r=".85"/>
<circle cx="381.4" cy="376.7" r=".85"/>
<circle cx="383.7" cy="374.8" r=".85"/>
<circle cx="389.0" cy="371.5" r=".85"/>
<circle cx="385.2" cy="375.9" r=".85"/>
<circle cx="378.8" cy="377.5" r=".85"/>
<circle cx="373.3" cy="372.6" r=".85"/>
<circle cx="385.7" cy="375.5" r=".85"/>
<circle cx="389.3" cy="374.4" r=".85"/>
<circle cx="373.7" cy="374.8" r=".85"/>
<circle cx="370.5" cy="370.1" r=".85"/>
<circle cx="385.5" cy="374.3" r=".85"/>
<circle cx="376.1" cy="375.0" r=".85"/>
<circle cx="381.8" cy="376.0" r=".85"/>
<circle cx="370.0" cy="370.5" r=".85"/>
<circle cx="399.1" cy="373.3" r=".85"/>
<circle cx="375.2" cy="374.6" r=".85"/>
<circle cx="377.6" cy="376.1" r=".85"/>
<circle cx="374.8" cy="375.9" r=".85"/>
<circle cx="382.6" cy="376.4" r=".85"/>
<circle cx="368.1" cy="372.3" r=".85"/>
<circle cx="372.5" cy="374.1" r=".85"/>
<circle cx="383.7" cy="376.3" r=".85"/>
<circle cx="369.3" cy="374.0" r=".85"/>
<circle cx="386.2" cy="376.5" r=".85"/>
<circle cx="370.2" cy="370.5" r=".85"/>
<circle cx="381.5" cy="376.4" r=".85"/>
<circle cx="390.1" cy="375.6" r=".85"/>
<circle cx="370.8" cy="372.2" r=".85"/>
<circle cx="370.8" cy="369.0" r=".85"/>
<circle cx="388.8" cy="372.5" r=".85"/>
<circle cx="379.0" cy="377.9" r=".85"/>
<circle cx="379.6" cy="377.4" r=".85"/>
<circle cx="374.5" cy="376.2" r=".85"/>
<circle cx="393.7" cy="371.3" r=".85"/>
<circle cx="388.9" cy="371.8" r=".85"/>
<circle cx="366.7" cy="370.2" r=".85"/>
<circle cx="390.0" cy="371.3" r=".85"/>
<circle cx="391.7" cy="371.1" r=".85"/>
<circle cx="377.9" cy="377.0" r=".85"/>
<circle cx="373.8" cy="375.1" r=".85"/>
<circle cx="369.1" cy="367.7" r=".85"/>
<circle cx="394.3" cy="374.0" r=".85"/>
<circle cx="384.2" cy="374.8" r=".85"/>
<circle cx="376.8" cy="376.9" r=".85"/>
<circle cx="384.5" cy="376.0" r=".85"/>
<circle cx="371.7" cy="373.0" r=".85"/>
<circle cx="373.8" cy="376.4" r=".85"/>
<circle cx="367.9" cy="373.1" r=".85"/>
<circle cx="371.1" cy="372.8" r=".85"/>
<circle cx="368.8" cy="370.1" r=".85"/>
<circle cx="387.5" cy="375.4" r=".85"/>
<circle cx="377.2" cy="375.7" r=".85"/>
<circle cx="383.6" cy="375.3" r=".85"/>
<circle cx="380.0" cy="377.0" r=".85"/>
<circle cx="373.1" cy="371.9" r=".85"/>
<circle cx="376.0" cy="375.6" r=".85"/>
<circle cx="384.6" cy="374.0" r=".85"/>
<circle cx="373.0" cy="374.2" r=".85"/>
<circle cx="357.8" cy="370.4" r=".85"/>
<circle cx="375.3" cy="375.8" r=".85"/>
<circle cx="353.7" cy="367.5" r=".85"/>
<circle cx="391.6" cy="371.0" r=".85"/>
<circle cx="373.9" cy="374.2" r=".85"/>
<circle cx="377.9" cy="377.0" r=".85"/>
<circle cx="384.6" cy="376.1" r=".85"/>
<circle cx="369.3" cy="373.7" r=".85"/>
<circle cx="386.5" cy="375.8" r=".85"/>
<circle cx="376.6" cy="375.1" r=".85"/>
<circle cx="366.2" cy="366.3" r=".85"/>
<circle cx="385.7" cy="376.2" r=".85"/>
<circle cx="388.5" cy="374.1" r=".85"/>
<circle cx="378.7" cy="377.6" r=".85"/>
<circle cx="382.1" cy="376.7" r=".85"/>
<circle cx="372.2" cy="372.4" r=".85"/>
<circle cx="389.5" cy="371.1" r=".85"/>
<circle cx="380.1" cy="377.3" r=".85"/>
<circle cx="380.7" cy="376.7" r=".85"/>
<circle cx="378.1" cy="377.4" r=".85"/>
<circle cx="366.1" cy="365.2" r=".85"/>
<circle cx="378.8" cy="377.7" r=".85"/>
<circle cx="385.7" cy="375.9" r=".85"/>
<circle cx="383.9" cy="376.0" r=".85"/>
<circle cx="372.1" cy="374.5" r=".85"/>
<circle cx="380.8" cy="376.7" r=".85"/>
<circle cx="376.9" cy="376.4" r=".85"/>
<circle cx="397.9" cy="371.6" r=".85"/>
<circle cx="375.4" cy="375.8" r=".85"/>
<circle cx="369.2" cy="372.7" r=".85"/>
<circle cx="379.1" cy="377.8" r=".85"/>
<circle cx="372.6" cy="374.6" r=".85"/>
<circle cx="369.4" cy="368.4" r=".85"/>
<circle cx="381.5" cy="377.2" r=".85"/>
<circle cx="383.9" cy="376.7" r=".85"/>
<circle cx="384.2" cy="375.1" r=".85"/>
<circle cx="380.8" cy="377.0" r=".85"/>
<circle cx="380.3" cy="377.1" r=".85"/>
<circle cx="389.9" cy="373.0" r=".85"/>
<circle cx="364.9" cy="364.8" r=".85"/>
<circle cx="364.8" cy="368.8" r=".85"/>
<circle cx="381.5" cy="377.3" r=".85"/>
<circle cx="384.8" cy="374.4" r=".85"/>
<circle cx="383.6" cy="375.0" r=".85"/>
<circle cx="375.3" cy="375.6" r=".85"/>
<circle cx="373.7" cy="373.1" r=".85"/>
<circle cx="373.1" cy="372.8" r=".85"/>
<circle cx="385.6" cy="375.0" r=".85"/>
<circle cx="364.9" cy="372.7" r=".85"/>
<circle cx="362.2" cy="360.3" r=".85"/>
<circle cx="380.9" cy="376.6" r=".85"/>
<circle cx="366.9" cy="370.8" r=".85"/>
<circle cx="374.0" cy="375.8" r=".85"/>
<circle cx="385.1" cy="376.5" r=".85"/>
<circle cx="372.1" cy="374.4" r=".85"/>
<circle cx="364.2" cy="371.2" r=".85"/>
<circle cx="372.9" cy="374.0" r=".85"/>
<circle cx="373.8" cy="373.2" r=".85"/>
<circle cx="372.4" cy="374.5" r=".85"/>
<circle cx="386.1" cy="373.0" r=".85"/>
<circle cx="367.8" cy="368.3" r=".85"/>
<circle cx="371.3" cy="370.2" r=".85"/>
<circle cx="388.6" cy="372.8" r=".85"/>
<circle cx="358.4" cy="358.5" r=".85"/>
<circle cx="371.9" cy="375.1" r=".85"/>
<circle cx="381.4" cy="376.6" r=".85"/>
<circle cx="370.8" cy="371.5" r=".85"/>
<circle cx="387.3" cy="376.1" r=".85"/>
<circle cx="382.3" cy="376.2" r=".85"/>
<circle cx="378.4" cy="377.3" r=".85"/>
<circle cx="376.8" cy="376.2" r=".85"/>
<circle cx="390.7" cy="373.1" r=".85"/>
<circle cx="375.1" cy="374.3" r=".85"/>
<circle cx="366.8" cy="365.6" r=".85"/>
<circle cx="385.1" cy="374.9" r=".85"/>
<circle cx="395.0" cy="373.1" r=".85"/>
<circle cx="370.2" cy="374.9" r=".85"/>
<circle cx="381.6" cy="376.0" r=".85"/>
<circle cx="375.6" cy="376.8" r=".85"/>
<circle cx="386.1" cy="373.8" r=".85"/>
<circle cx="362.4" cy="365.3" r=".85"/>
<circle cx="374.8" cy="373.3" r=".85"/>
<circle cx="375.3" cy="376.0" r=".85"/>
<circle cx="380.1" cy="377.3" r=".85"/>
<circle cx="373.8" cy="372.9" r=".85"/>
<circle cx="377.4" cy="376.8" r=".85"/>
<circle cx="386.3" cy="375.8" r=".85"/>
<circle cx="381.7" cy="377.0" r=".85"/>
<circle cx="370.7" cy="373.6" r=".85"/>
<circle cx="378.8" cy="377.7" r=".85"/>
<circle cx="371.9" cy="373.4" r=".85"/>
<circle cx="386.0" cy="373.6" r=".85"/>
<circle cx="382.0" cy="376.7" r=".85"/>
<circle cx="383.1" cy="375.9" r=".85"/>
<circle cx="385.3" cy="373.4" r=".85"/>
<circle cx="362.0" cy="364.6" r=".85"/>
<circle cx="372.5" cy="374.6" r=".85"/>
<circle cx="383.1" cy="375.1" r=".85"/>
<circle cx="376.3" cy="375.4" r=".85"/>
<circle cx="381.6" cy="376.9" r=".85"/>
<circle cx="368.7" cy="374.1" r=".85"/>
<circle cx="380.7" cy="377.1" r=".85"/>
<circle cx="367.9" cy="369.7" r=".85"/>
<circle cx="379.7" cy="377.7" r=".85"/>
<circle cx="368.9" cy="370.4" r=".85"/>
<circle cx="384.3" cy="375.6" r=".85"/>
<circle cx="368.5" cy="369.3" r=".85"/>
<circle cx="376.1" cy="375.1" r=".85"/>
<circle cx="375.2" cy="376.2" r=".85"/>
<circle cx="368.3" cy="373.0" r=".85"/>
<circle cx="372.8" cy="373.7" r=".85"/>
<circle cx="391.6" cy="375.1" r=".85"/>
<circle cx="361.9" cy="361.6" r=".85"/>
<circle cx="374.2" cy="376.3" r=".85"/>
<circle cx="368.0" cy="369.6" r=".85"/>
<circle cx="390.5" cy="373.3" r=".85"/>
<circle cx="382.0" cy="376.7" r=".85"/>
<circle cx="387.2" cy="374.9" r=".85"/>
<circle cx="375.8" cy="374.1" r=".85"/>
<circle cx="379.9" cy="377.6" r=".85"/>
<circle cx="364.1" cy="364.3" r=".85"/>
<circle cx="376.6" cy="375.7" r=".85"/>
<circle cx="374.6" cy="373.6" r=".85"/>
<circle cx="383.1" cy="375.7" r=".85"/>
<circle cx="389.9" cy="372.4" r=".85"/>
<circle cx="392.9" cy="373.3" r=".85"/>
<circle cx="390.3" cy="370.6" r=".85"/>
<circle cx="369.1" cy="368.9" r=".85"/>
<circle cx="390.5" cy="374.3" r=".85"/>
<circle cx="389.7" cy="375.8" r=".85"/>
<circle cx="380.3" cy="376.7" r=".85"/>
<circle cx="376.1" cy="376.5" r=".85"/>
<circle cx="380.8" cy="377.0" r=".85"/>
<circle cx="380.0" cy="377.3" r=".85"/>
<circle cx="394.4" cy="372.6" r=".85"/>
<circle cx="383.6" cy="376.0" r=".85"/>
<circle cx="384.1" cy="376.6" r=".85"/>
<circle cx="384.6" cy="375.9" r=".85"/>
<circle cx="382.2" cy="376.3" r=".85"/>
<circle cx="381.3" cy="377.0" r=".85"/>
<circle cx="383.5" cy="375.8" r=".85"/>
<circle cx="377.1" cy="376.5" r=".85"/>
<circle cx="392.1" cy="374.2" r=".85"/>
<circle cx="383.6" cy="374.8" r=".85"/>
<circle cx="390.4" cy="374.1" r=".85"/>
<circle cx="376.8" cy="376.2" r=".85"/>
<circle cx="385.0" cy="374.6" r=".85"/>
<circle cx="382.1" cy="376.4" r=".85"/>
<circle cx="371.0" cy="372.1" r=".85"/>
<circle cx="375.0" cy="373.5" r=".85"/>
<circle cx="372.3" cy="372.3" r=".85"/>
<circle cx="382.2" cy="376.9" r=".85"/>
<circle cx="377.7" cy="376.8" r=".85"/>
<circle cx="376.0" cy="374.5" r=".85"/>
<circle cx="388.8" cy="375.6" r=".85"/>
<circle cx="379.4" cy="377.7" r=".85"/>
<circle cx="392.4" cy="375.1" r=".85"/>
<circle cx="367.3" cy="369.5" r=".85"/>
<circle cx="376.2" cy="376.6" r=".85"/>
<circle cx="378.2" cy="377.1" r=".85"/>
<circle cx="390.5" cy="373.3" r=".85"/>
<circle cx="365.7" cy="373.3" r=".85"/>
<circle cx="376.7" cy="376.5" r=".85"/>
<circle cx="382.1" cy="376.3" r=".85"/>
<circle cx="381.2" cy="376.3" r=".85"/>
<circle cx="371.8" cy="374.0" r=".85"/>
<circle cx="376.0" cy="376.5" r=".85"/>
<circle cx="387.6" cy="372.0" r=".85"/>
<circle cx="377.8" cy="376.9" r=".85"/>
<circle cx="385.1" cy="376.0" r=".85"/>
<circle cx="390.1" cy="372.7" r=".85"/>
<circle cx="377.1" cy="376.8" r=".85"/>
<circle cx="399.2" cy="367.9" r=".85"/>
<circle cx="383.2" cy="376.4" r=".85"/>
<circle cx="380.1" cy="377.6" r=".85"/>
<circle cx="372.8" cy="375.9" r=".85"/>
<circle cx="374.5" cy="376.3" r=".85"/>
<circle cx="369.6" cy="372.0" r=".85"/>
<circle cx="381.8" cy="376.7" r=".85"/>
<circle cx="373.5" cy="375.6" r=".85"/>
<circle cx="391.7" cy="372.7" r=".85"/>
<circle cx="363.1" cy="368.3" r=".85"/>
<circle cx="379.6" cy="377.5" r=".85"/>
<circle cx="371.2" cy="371.3" r=".85"/>
<circle cx="371.9" cy="375.2" r=".85"/>
<circle cx="369.0" cy="373.9" r=".85"/>
<circle cx="376.3" cy="375.4" r=".85"/>
<circle cx="372.6" cy="375.7" r=".85"/>
<circle cx="377.1" cy="376.6" r=".85"/>
<circle cx="378.9" cy="377.6" r=".85"/>
<circle cx="391.6" cy="370.7" r=".85"/>
<circle cx="370.5" cy="374.0" r=".85"/>
<circle cx="368.0" cy="368.2" r=".85"/>
<circle cx="389.6" cy="370.9" r=".85"/>
<circle cx="371.9" cy="375.1" r=".85"/>
<circle cx="386.7" cy="374.6" r=".85"/>
<circle cx="398.0" cy="371.4" r=".85"/>
<circle cx="374.2" cy="375.0" r=".85"/>
<circle cx="383.1" cy="376.6" r=".85"/>
<circle cx="372.8" cy="372.6" r=".85"/>
<circle cx="381.3" cy="376.2" r=".85"/>
<circle cx="373.8" cy="374.6" r=".85"/>
<circle cx="368.4" cy="368.7" r=".85"/>
<circle cx="374.2" cy="373.3" r=".85"/>
<circle cx="391.1" cy="370.1" r=".85"/>
<circle cx="381.6" cy="376.7" r=".85"/>
<circle cx="374.3" cy="376.2" r=".85"/>
<circle cx="370.7" cy="373.5" r=".85"/>
<circle cx="378.0" cy="376.8" r=".85"/>
<circle cx="375.5" cy="374.7" r=".85"/>
<circle cx="381.1" cy="377.0" r=".85"/>
<circle cx="374.9" cy="374.6" r=".85"/>
<circle cx="387.0" cy="375.5" r=".85"/>
<circle cx="387.4" cy="373.1" r=".85"/>
<circle cx="375.8" cy="375.9" r=".85"/>
<circle cx="360.0" cy="369.5" r=".85"/>
<circle cx="384.5" cy="375.2" r=".85"/>
<circle cx="382.5" cy="376.0" r=".85"/>
<circle cx="361.1" cy="371.1" r=".85"/>
<circle cx="372.4" cy="372.2" r=".85"/>
<circle cx="382.3" cy="376.4" r=".85"/>
<circle cx="383.0" cy="375.7" r=".85"/>
<circle cx="377.6" cy="376.9" r=".85"/>
<circle cx="376.4" cy="376.3" r=".85"/>
<circle cx="382.8" cy="376.0" r=".85"/>
<circle cx="370.4" cy="372.5" r=".85"/>
<circle cx="364.7" cy="364.8" r=".85"/>
<circle cx="384.9" cy="376.0" r=".85"/>
<circle cx="364.0" cy="362.6" r=".85"/>
<circle cx="374.0" cy="372.8" r=".85"/>
<circle cx="379.5" cy="377.3" r=".85"/>
<circle cx="384.0" cy="375.1" r=".85"/>
<circle cx="392.2" cy="372.3" r=".85"/>
<circle cx="383.2" cy="376.7" r=".85"/>
<circle cx="355.5" cy="355.7" r=".85"/>
<circle cx="362.4" cy="371.6" r=".85"/>
<circle cx="392.1" cy="370.0" r=".85"/>
<circle cx="382.4" cy="375.6" r=".85"/>
<circle cx="370.8" cy="372.2" r=".85"/>
<circle cx="378.0" cy="377.0" r=".85"/>
<circle cx="374.1" cy="373.2" r=".85"/>
<circle cx="370.6" cy="368.6" r=".85"/>
<circle cx="382.8" cy="375.8" r=".85"/>
<circle cx="392.1" cy="372.0" r=".85"/>
<circle cx="380.0" cy="377.4" r=".85"/>
<circle cx="380.2" cy="377.5" r=".85"/>
<circle cx="382.9" cy="376.5" r=".85"/>
<circle cx="361.4" cy="370.5" r=".85"/>
<circle cx="372.7" cy="373.4" r=".85"/>
<circle cx="362.3" cy="371.1" r=".85"/>
<circle cx="383.2" cy="376.8" r=".85"/>
<circle cx="374.4" cy="375.7" r=".85"/>
<circle cx="384.4" cy="374.7" r=".85"/>
<circle cx="370.9" cy="372.3" r=".85"/>
<circle cx="379.9" cy="377.2" r=".85"/>
<circle cx="380.7" cy="377.3" r=".85"/>
<circle cx="384.4" cy="375.9" r=".85"/>
<circle cx="381.3" cy="376.4" r=".85"/>
<circle cx="380.1" cy="377.1" r=".85"/>
<circle cx="379.0" cy="377.4" r=".85"/>
<circle cx="393.9" cy="371.9" r=".85"/>
<circle cx="380.3" cy="377.2" r=".85"/>
<circle cx="377.9" cy="377.3" r=".85"/>
<circle cx="380.8" cy="376.7" r=".85"/>
<circle cx="375.8" cy="375.5" r=".85"/>
<circle cx="373.2" cy="372.9" r=".85"/>
<circle cx="380.5" cy="377.2" r=".85"/>
<circle cx="366.4" cy="367.6" r=".85"/>
<circle cx="380.3" cy="377.3" r=".85"/>
<circle cx="379.7" cy="377.4" r=".85"/>
<circle cx="388.5" cy="373.6" r=".85"/>
<circle cx="388.5" cy="373.6" r=".85"/>
<circle cx="382.8" cy="376.5" r=".85"/>
<circle cx="371.7" cy="373.2" r=".85"/>
<circle cx="369.7" cy="371.7" r=".85"/>
<circle cx="392.6" cy="369.5" r=".85"/>
<circle cx="382.2" cy="376.6" r=".85"/>
<circle cx="389.5" cy="375.4" r=".85"/>
<circle cx="376.4" cy="375.3" r=".85"/>
<circle cx="397.5" cy="373.8" r=".85"/>
<circle cx="364.3" cy="362.6" r=".85"/>
<circle cx="377.5" cy="376.7" r=".85"/>
<circle cx="364.4" cy="367.4" r=".85"/>
<circle cx="366.8" cy="371.6" r=".85"/>
<circle cx="362.4" cy="365.0" r=".85"/>
<circle cx="379.4" cy="377.5" r=".85"/>
<circle cx="390.6" cy="374.0" r=".85"/>
<circle cx="372.3" cy="373.2" r=".85"/>
<circle cx="384.5" cy="374.1" r=".85"/>
<circle cx="369.3" cy="373.8" r=".85"/>
<circle cx="385.7" cy="374.2" r=".85"/>
<circle cx="380.6" cy="376.7" r=".85"/>
<circle cx="366.7" cy="374.3" r=".85"/>
<circle cx="378.7" cy="377.8" r=".85"/>
<circle cx="379.0" cy="377.8" r=".85"/>
<circle cx="371.3" cy="373.4" r=".85"/>
<circle cx="376.6" cy="374.9" r=".85"/>
<circle cx="380.4" cy="377.0" r=".85"/>
<circle cx="377.1" cy="376.2" r=".85"/>
<circle cx="393.2" cy="373.2" r=".85"/>
<circle cx="367.2" cy="368.8" r=".85"/>
<circle cx="395.0" cy="373.5" r=".85"/>
<circle cx="369.2" cy="373.0" r=".85"/>
<circle cx="395.7" cy="367.9" r=".85"/>
<circle cx="365.4" cy="366.2" r=".85"/>
<circle cx="383.1" cy="377.2" r=".85"/>
<circle cx="369.7" cy="371.6" r=".85"/>
<circle cx="387.5" cy="374.1" r=".85"/>
<circle cx="366.6" cy="365.0" r=".85"/>
<circle cx="368.8" cy="375.0" r=".85"/>
<circle cx="389.0" cy="373.6" r=".85"/>
<circle cx="370.1" cy="368.8" r=".85"/>
<circle cx="371.4" cy="374.3" r=".85"/>
<circle cx="378.2" cy="376.7" r=".85"/>
<circle cx="372.7" cy="374.4" r=".85"/>
<circle cx="361.2" cy="360.1" r=".85"/>
<circle cx="381.3" cy="376.7" r=".85"/>
<circle cx="363.1" cy="370.6" r=".85"/>
<circle cx="389.6" cy="375.6" r=".85"/>
<circle cx="377.1" cy="376.4" r=".85"/>
<circle cx="375.3" cy="374.6" r=".85"/>
<circle cx="362.1" cy="372.3" r=".85"/>
<circle cx="374.4" cy="374.0" r=".85"/>
<circle cx="375.5" cy="374.5" r=".85"/>
<circle cx="379.2" cy="377.8" r=".85"/>
<circle cx="375.4" cy="376.5" r=".85"/>
<circle cx="376.5" cy="376.0" r=".85"/>
<circle cx="387.8" cy="373.7" r=".85"/>
<circle cx="387.9" cy="374.8" r=".85"/>
<circle cx="365.7" cy="365.0" r=".85"/>
<circle cx="371.4" cy="371.8" r=".85"/>
<circle cx="377.2" cy="377.2" r=".85"/>
<circle cx="376.4" cy="375.9" r=".85"/>
<circle cx="366.0" cy="372.9" r=".85"/>
<circle cx="367.1" cy="369.0" r=".85"/>
<circle cx="378.9" cy="377.5" r=".85"/>
<circle cx="377.5" cy="376.8" r=".85"/>
<circle cx="368.5" cy="371.4" r=".85"/>
<circle cx="378.2" cy="377.4" r=".85"/>
</g>
<line x1="297.00" y1="263.50" x2="297.00" y2="383.20" stroke="#333" stroke-width="1.1" />
<line x1="297.00" y1="383.20" x2="514.00" y2="383.20" stroke="#333" stroke-width="1.1" />
<line x1="294.40" y1="378.00" x2="297.00" y2="378.00" stroke="#333" stroke-width="0.9" />
<text x="291.00" y="380.50" font-size="7.2" fill="#333" stroke="#333" stroke-width="0.1" text-anchor="end" >0</text>
<line x1="294.40" y1="339.00" x2="297.00" y2="339.00" stroke="#333" stroke-width="0.9" />
<text x="291.00" y="341.50" font-size="7.2" fill="#333" stroke="#333" stroke-width="0.1" text-anchor="end" >5</text>
<line x1="294.40" y1="300.00" x2="297.00" y2="300.00" stroke="#333" stroke-width="0.9" />
<text x="291.00" y="302.50" font-size="7.2" fill="#333" stroke="#333" stroke-width="0.1" text-anchor="end" >10</text>
<line x1="310.01" y1="383.20" x2="310.01" y2="385.60" stroke="#333" stroke-width="0.9" />
<text x="310.01" y="396.00" font-size="7.3" fill="#222" stroke="#222" stroke-width="0.1" text-anchor="middle" >0.85</text>
<line x1="357.21" y1="383.20" x2="357.21" y2="385.60" stroke="#333" stroke-width="0.9" />
<text x="357.21" y="396.00" font-size="7.3" fill="#222" stroke="#222" stroke-width="0.1" text-anchor="middle" >0.95</text>
<line x1="378.97" y1="383.20" x2="378.97" y2="385.60" stroke="#333" stroke-width="0.9" />
<text x="378.97" y="396.00" font-size="7.3" fill="#222" stroke="#222" stroke-width="0.1" text-anchor="middle" >1</text>
<line x1="399.67" y1="383.20" x2="399.67" y2="385.60" stroke="#333" stroke-width="0.9" />
<text x="399.67" y="396.00" font-size="7.3" fill="#222" stroke="#222" stroke-width="0.1" text-anchor="middle" >1.05</text>
<line x1="456.33" y1="383.20" x2="456.33" y2="385.60" stroke="#333" stroke-width="0.9" />
<text x="456.33" y="396.00" font-size="7.3" fill="#222" stroke="#222" stroke-width="0.1" text-anchor="middle" >1.2</text>
<line x1="490.29" y1="383.20" x2="490.29" y2="385.60" stroke="#333" stroke-width="0.9" />
<text x="490.29" y="396.00" font-size="7.3" fill="#222" stroke="#222" stroke-width="0.1" text-anchor="middle" >1.3</text>
<text x="277.00" y="323.20" font-size="7.4" fill="#222" text-anchor="middle" textLength="37.20" lengthAdjust="spacingAndGlyphs" transform="rotate(-90 277.00 323.20)" stroke="#222" stroke-width="0.15">-log10 (FDR)</text>
<circle cx="300.5" cy="257.90" r="1.3" fill="#1c2a66"/>
<text x="305.00" y="260.40" font-size="6.7" fill="#333" stroke="#333" stroke-width="0.1" >BMP signals</text>
<circle cx="300.5" cy="267.07" r="1.3" fill="#9a4a88"/>
<text x="305.00" y="269.57" font-size="6.7" fill="#333" stroke="#333" stroke-width="0.1" >Erythropoiesis</text>
<circle cx="300.5" cy="276.24" r="1.3" fill="#b02030"/>
<text x="305.00" y="278.74" font-size="6.7" fill="#333" stroke="#333" stroke-width="0.1" >High-risk CV biomarkers</text>
<circle cx="300.5" cy="285.41" r="1.3" fill="#6e3494"/>
<text x="305.00" y="287.91" font-size="6.7" fill="#333" stroke="#333" stroke-width="0.1" >Inhibitory immune markers</text>
<text x="404.70" y="408.80" font-size="8.6" fill="#222" text-anchor="middle" textLength="89.00" lengthAdjust="spacingAndGlyphs" stroke="#222" stroke-width="0.15">Fold change (CHIP vs. No-CHIP)</text>
<text x="6.25" y="453.80" font-size="10.6" fill="#111" stroke="#111" stroke-width="0.1" font-weight="bold" >F</text>
<line x1="120.50" y1="471.30" x2="120.50" y2="590.30" stroke="#cacaca" stroke-width="1" />
<line x1="141.50" y1="471.30" x2="141.50" y2="590.30" stroke="#cacaca" stroke-width="1" />
<line x1="36.00" y1="534.50" x2="251.60" y2="534.50" stroke="#999" stroke-width="1" stroke-dasharray="1,1" />
<g fill="#7a7a7a" fill-opacity="0.07">
<circle cx="134.4" cy="580.2" r=".85"/>
<circle cx="132.7" cy="582.5" r=".85"/>
<circle cx="107.3" cy="534.6" r=".85"/>
<circle cx="107.1" cy="542.5" r=".85"/>
<circle cx="136.2" cy="579.3" r=".85"/>
<circle cx="125.1" cy="575.6" r=".85"/>
<circle cx="146.0" cy="550.2" r=".85"/>
<circle cx="143.7" cy="567.3" r=".85"/>
<circle cx="123.5" cy="568.7" r=".85"/>
<circle cx="128.7" cy="579.1" r=".85"/>
<circle cx="144.3" cy="568.0" r=".85"/>
<circle cx="147.6" cy="568.5" r=".85"/>
<circle cx="121.4" cy="568.1" r=".85"/>
<circle cx="110.9" cy="557.5" r=".85"/>
<circle cx="148.8" cy="568.8" r=".85"/>
<circle cx="117.6" cy="568.5" r=".85"/>
<circle cx="128.9" cy="582.0" r=".85"/>
<circle cx="136.8" cy="579.4" r=".85"/>
<circle cx="94.9" cy="553.8" r=".85"/>
<circle cx="145.2" cy="558.4" r=".85"/>
<circle cx="105.0" cy="545.0" r=".85"/>
<circle cx="116.3" cy="572.1" r=".85"/>
<circle cx="127.8" cy="581.1" r=".85"/>
<circle cx="113.6" cy="555.3" r=".85"/>
<circle cx="133.5" cy="580.6" r=".85"/>
<circle cx="137.7" cy="572.4" r=".85"/>
<circle cx="136.9" cy="582.1" r=".85"/>
<circle cx="142.1" cy="569.1" r=".85"/>
<circle cx="132.3" cy="582.2" r=".85"/>
<circle cx="137.0" cy="571.3" r=".85"/>
<circle cx="134.1" cy="576.9" r=".85"/>
<circle cx="109.3" cy="541.6" r=".85"/>
<circle cx="133.0" cy="581.5" r=".85"/>
<circle cx="137.4" cy="578.8" r=".85"/>
<circle cx="141.0" cy="581.4" r=".85"/>
<circle cx="114.4" cy="574.9" r=".85"/>
<circle cx="126.7" cy="578.6" r=".85"/>
<circle cx="127.3" cy="576.5" r=".85"/>
<circle cx="120.4" cy="573.0" r=".85"/>
<circle cx="128.6" cy="581.4" r=".85"/>
<circle cx="125.5" cy="571.4" r=".85"/>
<circle cx="142.6" cy="564.6" r=".85"/>
<circle cx="130.5" cy="580.3" r=".85"/>
<circle cx="113.2" cy="557.8" r=".85"/>
<circle cx="114.4" cy="562.0" r=".85"/>
<circle cx="121.3" cy="569.8" r=".85"/>
<circle cx="142.4" cy="573.2" r=".85"/>
<circle cx="109.0" cy="545.1" r=".85"/>
<circle cx="132.8" cy="579.3" r=".85"/>
<circle cx="145.2" cy="572.8" r=".85"/>
<circle cx="126.5" cy="577.1" r=".85"/>
<circle cx="120.6" cy="567.0" r=".85"/>
<circle cx="132.2" cy="583.0" r=".85"/>
<circle cx="131.3" cy="584.0" r=".85"/>
<circle cx="133.4" cy="581.4" r=".85"/>
<circle cx="114.5" cy="574.7" r=".85"/>
<circle cx="147.5" cy="546.1" r=".85"/>
<circle cx="108.0" cy="552.2" r=".85"/>
<circle cx="129.1" cy="583.1" r=".85"/>
<circle cx="108.8" cy="562.9" r=".85"/>
<circle cx="136.6" cy="581.6" r=".85"/>
<circle cx="142.6" cy="561.3" r=".85"/>
<circle cx="149.6" cy="563.5" r=".85"/>
<circle cx="121.3" cy="577.1" r=".85"/>
<circle cx="125.5" cy="573.2" r=".85"/>
<circle cx="114.3" cy="569.5" r=".85"/>
<circle cx="142.0" cy="571.3" r=".85"/>
<circle cx="115.2" cy="559.6" r=".85"/>
<circle cx="118.1" cy="564.8" r=".85"/>
<circle cx="134.0" cy="579.7" r=".85"/>
<circle cx="140.0" cy="579.1" r=".85"/>
<circle cx="138.4" cy="579.7" r=".85"/>
<circle cx="125.2" cy="579.6" r=".85"/>
<circle cx="131.9" cy="581.2" r=".85"/>
<circle cx="143.6" cy="563.9" r=".85"/>
<circle cx="143.9" cy="558.9" r=".85"/>
<circle cx="129.2" cy="580.4" r=".85"/>
<circle cx="129.7" cy="582.2" r=".85"/>
<circle cx="122.1" cy="564.9" r=".85"/>
<circle cx="130.9" cy="582.7" r=".85"/>
<circle cx="128.1" cy="577.9" r=".85"/>
<circle cx="128.5" cy="580.5" r=".85"/>
<circle cx="153.5" cy="570.3" r=".85"/>
<circle cx="130.1" cy="581.2" r=".85"/>
<circle cx="146.8" cy="561.4" r=".85"/>
<circle cx="107.3" cy="539.7" r=".85"/>
<circle cx="156.1" cy="559.9" r=".85"/>
<circle cx="125.1" cy="573.5" r=".85"/>
<circle cx="121.2" cy="571.6" r=".85"/>
<circle cx="121.7" cy="564.1" r=".85"/>
<circle cx="149.4" cy="563.0" r=".85"/>
<circle cx="126.3" cy="578.3" r=".85"/>
<circle cx="124.9" cy="571.6" r=".85"/>
<circle cx="115.0" cy="573.1" r=".85"/>
<circle cx="147.6" cy="548.1" r=".85"/>
<circle cx="120.2" cy="560.9" r=".85"/>
<circle cx="148.5" cy="572.5" r=".85"/>
<circle cx="126.2" cy="575.3" r=".85"/>
<circle cx="112.3" cy="554.5" r=".85"/>
<circle cx="141.4" cy="580.2" r=".85"/>
<circle cx="129.5" cy="580.4" r=".85"/>
<circle cx="133.2" cy="583.1" r=".85"/>
<circle cx="120.7" cy="576.1" r=".85"/>
<circle cx="129.4" cy="580.1" r=".85"/>
<circle cx="148.4" cy="562.5" r=".85"/>
<circle cx="126.2" cy="572.2" r=".85"/>
<circle cx="129.7" cy="582.6" r=".85"/>
<circle cx="115.8" cy="559.1" r=".85"/>
<circle cx="130.5" cy="582.5" r=".85"/>
<circle cx="133.2" cy="582.2" r=".85"/>
<circle cx="123.0" cy="576.7" r=".85"/>
<circle cx="142.4" cy="571.4" r=".85"/>
<circle cx="131.7" cy="584.7" r=".85"/>
<circle cx="131.8" cy="582.7" r=".85"/>
<circle cx="141.5" cy="574.2" r=".85"/>
<circle cx="108.4" cy="541.9" r=".85"/>
<circle cx="145.4" cy="573.1" r=".85"/>
<circle cx="115.4" cy="558.8" r=".85"/>
<circle cx="125.0" cy="580.7" r=".85"/>
<circle cx="138.5" cy="575.8" r=".85"/>
<circle cx="126.3" cy="580.0" r=".85"/>
<circle cx="151.4" cy="553.5" r=".85"/>
<circle cx="122.5" cy="581.1" r=".85"/>
<circle cx="125.9" cy="580.8" r=".85"/>
<circle cx="156.7" cy="564.6" r=".85"/>
<circle cx="146.1" cy="562.3" r=".85"/>
<circle cx="123.8" cy="579.3" r=".85"/>
<circle cx="138.2" cy="577.2" r=".85"/>
<circle cx="127.7" cy="576.4" r=".85"/>
<circle cx="153.7" cy="556.9" r=".85"/>
<circle cx="126.2" cy="570.8" r=".85"/>
<circle cx="152.6" cy="571.0" r=".85"/>
<circle cx="138.6" cy="580.2" r=".85"/>
<circle cx="130.0" cy="582.0" r=".85"/>
<circle cx="156.0" cy="561.2" r=".85"/>
<circle cx="128.8" cy="583.3" r=".85"/>
<circle cx="138.6" cy="575.9" r=".85"/>
<circle cx="128.0" cy="578.9" r=".85"/>
<circle cx="125.9" cy="579.6" r=".85"/>
<circle cx="153.3" cy="571.4" r=".85"/>
<circle cx="151.4" cy="558.5" r=".85"/>
<circle cx="105.2" cy="565.7" r=".85"/>
<circle cx="147.8" cy="565.2" r=".85"/>
<circle cx="116.7" cy="548.2" r=".85"/>
<circle cx="142.3" cy="567.4" r=".85"/>
<circle cx="120.1" cy="561.4" r=".85"/>
<circle cx="140.6" cy="563.9" r=".85"/>
<circle cx="124.5" cy="571.8" r=".85"/>
<circle cx="136.9" cy="580.0" r=".85"/>
<circle cx="140.5" cy="576.2" r=".85"/>
<circle cx="145.2" cy="576.1" r=".85"/>
<circle cx="131.5" cy="582.8" r=".85"/>
<circle cx="137.8" cy="574.3" r=".85"/>
<circle cx="111.2" cy="546.4" r=".85"/>
<circle cx="120.2" cy="577.3" r=".85"/>
<circle cx="116.6" cy="569.3" r=".85"/>
<circle cx="121.4" cy="561.3" r=".85"/>
<circle cx="137.1" cy="572.8" r=".85"/>
<circle cx="131.0" cy="582.7" r=".85"/>
<circle cx="123.3" cy="570.7" r=".85"/>
<circle cx="150.1" cy="569.7" r=".85"/>
<circle cx="112.7" cy="575.7" r=".85"/>
<circle cx="145.4" cy="564.1" r=".85"/>
<circle cx="135.7" cy="579.7" r=".85"/>
<circle cx="139.5" cy="568.6" r=".85"/>
<circle cx="137.2" cy="580.4" r=".85"/>
<circle cx="142.5" cy="561.0" r=".85"/>
<circle cx="101.6" cy="534.0" r=".85"/>
<circle cx="147.2" cy="568.4" r=".85"/>
<circle cx="131.1" cy="582.9" r=".85"/>
<circle cx="130.6" cy="583.2" r=".85"/>
<circle cx="131.2" cy="582.1" r=".85"/>
<circle cx="130.5" cy="583.2" r=".85"/>
<circle cx="129.8" cy="582.1" r=".85"/>
<circle cx="156.3" cy="557.6" r=".85"/>
<circle cx="106.2" cy="561.4" r=".85"/>
<circle cx="133.1" cy="581.8" r=".85"/>
<circle cx="118.3" cy="576.5" r=".85"/>
<circle cx="113.8" cy="577.1" r=".85"/>
<circle cx="153.3" cy="544.3" r=".85"/>
<circle cx="137.1" cy="574.9" r=".85"/>
<circle cx="150.0" cy="555.7" r=".85"/>
<circle cx="130.7" cy="581.5" r=".85"/>
<circle cx="147.4" cy="563.3" r=".85"/>
<circle cx="121.7" cy="565.8" r=".85"/>
<circle cx="145.8" cy="560.7" r=".85"/>
<circle cx="124.3" cy="580.9" r=".85"/>
<circle cx="109.2" cy="540.4" r=".85"/>
<circle cx="125.3" cy="578.6" r=".85"/>
<circle cx="120.5" cy="580.1" r=".85"/>
<circle cx="138.2" cy="569.0" r=".85"/>
<circle cx="163.0" cy="567.6" r=".85"/>
<circle cx="121.8" cy="577.6" r=".85"/>
<circle cx="118.7" cy="568.7" r=".85"/>
<circle cx="116.9" cy="553.7" r=".85"/>
<circle cx="113.7" cy="557.9" r=".85"/>
<circle cx="131.8" cy="582.4" r=".85"/>
<circle cx="129.3" cy="582.4" r=".85"/>
<circle cx="150.7" cy="546.7" r=".85"/>
<circle cx="145.7" cy="555.5" r=".85"/>
<circle cx="154.2" cy="564.0" r=".85"/>
<circle cx="148.6" cy="570.6" r=".85"/>
<circle cx="126.0" cy="572.7" r=".85"/>
<circle cx="136.5" cy="578.5" r=".85"/>
<circle cx="148.3" cy="573.7" r=".85"/>
<circle cx="145.4" cy="558.7" r=".85"/>
<circle cx="135.3" cy="575.7" r=".85"/>
<circle cx="139.9" cy="574.6" r=".85"/>
<circle cx="125.7" cy="575.7" r=".85"/>
<circle cx="128.3" cy="577.5" r=".85"/>
<circle cx="142.3" cy="562.6" r=".85"/>
<circle cx="119.3" cy="571.2" r=".85"/>
<circle cx="124.9" cy="569.6" r=".85"/>
<circle cx="124.7" cy="573.4" r=".85"/>
<circle cx="120.4" cy="560.0" r=".85"/>
<circle cx="113.9" cy="566.2" r=".85"/>
<circle cx="112.9" cy="553.7" r=".85"/>
<circle cx="122.9" cy="571.3" r=".85"/>
<circle cx="138.8" cy="569.6" r=".85"/>
<circle cx="146.5" cy="565.4" r=".85"/>
<circle cx="130.1" cy="582.6" r=".85"/>
<circle cx="131.7" cy="582.6" r=".85"/>
<circle cx="126.4" cy="579.3" r=".85"/>
<circle cx="127.5" cy="578.2" r=".85"/>
<circle cx="141.5" cy="566.1" r=".85"/>
<circle cx="127.1" cy="576.2" r=".85"/>
<circle cx="108.7" cy="570.3" r=".85"/>
<circle cx="133.5" cy="582.6" r=".85"/>
<circle cx="157.0" cy="525.7" r=".85"/>
<circle cx="128.3" cy="578.0" r=".85"/>
<circle cx="154.6" cy="574.1" r=".85"/>
<circle cx="121.5" cy="562.2" r=".85"/>
<circle cx="107.3" cy="572.4" r=".85"/>
<circle cx="118.8" cy="560.4" r=".85"/>
<circle cx="110.0" cy="560.1" r=".85"/>
<circle cx="131.2" cy="584.2" r=".85"/>
<circle cx="150.7" cy="565.2" r=".85"/>
<circle cx="134.1" cy="579.4" r=".85"/>
<circle cx="152.3" cy="536.1" r=".85"/>
<circle cx="126.0" cy="575.5" r=".85"/>
<circle cx="130.6" cy="583.6" r=".85"/>
<circle cx="118.2" cy="571.0" r=".85"/>
<circle cx="153.1" cy="542.2" r=".85"/>
<circle cx="127.2" cy="575.0" r=".85"/>
<circle cx="127.5" cy="576.2" r=".85"/>
<circle cx="126.8" cy="573.3" r=".85"/>
<circle cx="109.3" cy="573.8" r=".85"/>
<circle cx="116.0" cy="550.1" r=".85"/>
<circle cx="144.5" cy="564.8" r=".85"/>
<circle cx="124.2" cy="570.9" r=".85"/>
<circle cx="127.9" cy="580.7" r=".85"/>
<circle cx="152.0" cy="546.2" r=".85"/>
<circle cx="155.9" cy="550.2" r=".85"/>
<circle cx="127.3" cy="579.7" r=".85"/>
<circle cx="128.6" cy="581.9" r=".85"/>
<circle cx="130.4" cy="584.5" r=".85"/>
<circle cx="139.8" cy="581.2" r=".85"/>
<circle cx="109.3" cy="554.0" r=".85"/>
<circle cx="146.8" cy="577.8" r=".85"/>
<circle cx="149.2" cy="553.1" r=".85"/>
<circle cx="150.5" cy="544.5" r=".85"/>
<circle cx="132.7" cy="581.8" r=".85"/>
<circle cx="151.3" cy="558.8" r=".85"/>
<circle cx="159.9" cy="540.0" r=".85"/>
<circle cx="136.8" cy="573.9" r=".85"/>
<circle cx="148.3" cy="550.4" r=".85"/>
<circle cx="133.8" cy="577.7" r=".85"/>
<circle cx="150.4" cy="561.3" r=".85"/>
<circle cx="115.9" cy="561.1" r=".85"/>
<circle cx="144.3" cy="565.5" r=".85"/>
<circle cx="120.2" cy="576.0" r=".85"/>
<circle cx="123.4" cy="575.4" r=".85"/>
<circle cx="111.8" cy="543.2" r=".85"/>
<circle cx="147.0" cy="549.4" r=".85"/>
<circle cx="137.2" cy="573.2" r=".85"/>
<circle cx="154.4" cy="557.7" r=".85"/>
<circle cx="136.2" cy="576.6" r=".85"/>
<circle cx="152.0" cy="552.3" r=".85"/>
<circle cx="120.5" cy="559.8" r=".85"/>
<circle cx="138.9" cy="569.9" r=".85"/>
<circle cx="124.4" cy="569.6" r=".85"/>
<circle cx="110.6" cy="565.3" r=".85"/>
<circle cx="143.9" cy="558.8" r=".85"/>
<circle cx="136.9" cy="581.1" r=".85"/>
<circle cx="143.2" cy="578.5" r=".85"/>
<circle cx="115.4" cy="562.2" r=".85"/>
<circle cx="125.9" cy="580.7" r=".85"/>
<circle cx="134.4" cy="579.0" r=".85"/>
<circle cx="146.3" cy="568.7" r=".85"/>
<circle cx="151.1" cy="538.0" r=".85"/>
<circle cx="131.8" cy="583.2" r=".85"/>
<circle cx="133.5" cy="580.4" r=".85"/>
<circle cx="146.4" cy="553.9" r=".85"/>
<circle cx="146.6" cy="573.8" r=".85"/>
<circle cx="121.5" cy="569.8" r=".85"/>
<circle cx="125.1" cy="576.8" r=".85"/>
<circle cx="126.7" cy="581.5" r=".85"/>
<circle cx="126.7" cy="574.7" r=".85"/>
<circle cx="127.9" cy="579.4" r=".85"/>
<circle cx="122.1" cy="565.2" r=".85"/>
<circle cx="146.2" cy="559.2" r=".85"/>
<circle cx="142.6" cy="560.1" r=".85"/>
<circle cx="118.6" cy="570.2" r=".85"/>
<circle cx="151.5" cy="574.7" r=".85"/>
<circle cx="122.5" cy="577.3" r=".85"/>
<circle cx="127.2" cy="583.2" r=".85"/>
<circle cx="133.9" cy="580.4" r=".85"/>
<circle cx="163.7" cy="571.4" r=".85"/>
<circle cx="136.1" cy="579.1" r=".85"/>
<circle cx="134.2" cy="581.4" r=".85"/>
<circle cx="119.4" cy="566.9" r=".85"/>
<circle cx="114.9" cy="546.2" r=".85"/>
<circle cx="105.4" cy="555.4" r=".85"/>
<circle cx="127.4" cy="578.0" r=".85"/>
<circle cx="128.2" cy="580.5" r=".85"/>
<circle cx="118.1" cy="576.0" r=".85"/>
<circle cx="121.9" cy="569.6" r=".85"/>
<circle cx="122.9" cy="581.1" r=".85"/>
<circle cx="127.4" cy="576.8" r=".85"/>
<circle cx="127.9" cy="579.7" r=".85"/>
<circle cx="120.5" cy="560.2" r=".85"/>
<circle cx="126.6" cy="574.1" r=".85"/>
<circle cx="143.3" cy="572.9" r=".85"/>
<circle cx="131.2" cy="583.5" r=".85"/>
<circle cx="116.1" cy="562.7" r=".85"/>
<circle cx="116.2" cy="574.8" r=".85"/>
<circle cx="149.9" cy="568.5" r=".85"/>
<circle cx="110.8" cy="538.7" r=".85"/>
<circle cx="129.7" cy="582.7" r=".85"/>
<circle cx="118.3" cy="565.9" r=".85"/>
<circle cx="130.6" cy="581.2" r=".85"/>
<circle cx="114.6" cy="562.4" r=".85"/>
<circle cx="149.0" cy="547.8" r=".85"/>
</g>
<g fill="#7a7a7a" fill-opacity="0.11">
<circle cx="129.1" cy="580.8" r=".85"/>
<circle cx="130.3" cy="582.2" r=".85"/>
<circle cx="124.3" cy="569.5" r=".85"/>
<circle cx="134.8" cy="581.8" r=".85"/>
<circle cx="127.7" cy="582.5" r=".85"/>
<circle cx="134.0" cy="581.7" r=".85"/>
<circle cx="139.3" cy="580.0" r=".85"/>
<circle cx="130.5" cy="584.3" r=".85"/>
<circle cx="131.5" cy="584.3" r=".85"/>
<circle cx="129.7" cy="582.6" r=".85"/>
<circle cx="129.1" cy="582.4" r=".85"/>
<circle cx="133.6" cy="582.4" r=".85"/>
<circle cx="136.6" cy="577.5" r=".85"/>
<circle cx="131.1" cy="583.6" r=".85"/>
<circle cx="133.3" cy="582.5" r=".85"/>
<circle cx="127.4" cy="576.6" r=".85"/>
<circle cx="128.7" cy="582.9" r=".85"/>
<circle cx="129.7" cy="580.7" r=".85"/>
<circle cx="126.6" cy="577.0" r=".85"/>
<circle cx="133.2" cy="582.1" r=".85"/>
<circle cx="138.3" cy="572.7" r=".85"/>
<circle cx="129.1" cy="580.8" r=".85"/>
<circle cx="133.4" cy="583.4" r=".85"/>
<circle cx="125.8" cy="576.1" r=".85"/>
<circle cx="137.2" cy="578.3" r=".85"/>
<circle cx="127.0" cy="581.1" r=".85"/>
<circle cx="133.6" cy="581.1" r=".85"/>
<circle cx="129.3" cy="582.7" r=".85"/>
<circle cx="130.6" cy="583.4" r=".85"/>
<circle cx="132.9" cy="582.5" r=".85"/>
<circle cx="125.3" cy="572.4" r=".85"/>
<circle cx="131.4" cy="584.5" r=".85"/>
<circle cx="122.8" cy="575.6" r=".85"/>
<circle cx="135.1" cy="582.0" r=".85"/>
<circle cx="122.8" cy="570.2" r=".85"/>
<circle cx="128.4" cy="581.0" r=".85"/>
<circle cx="124.9" cy="576.7" r=".85"/>
<circle cx="135.9" cy="580.6" r=".85"/>
<circle cx="140.6" cy="575.2" r=".85"/>
<circle cx="129.4" cy="583.8" r=".85"/>
<circle cx="130.4" cy="583.5" r=".85"/>
<circle cx="133.7" cy="583.2" r=".85"/>
<circle cx="120.5" cy="567.9" r=".85"/>
<circle cx="130.2" cy="584.3" r=".85"/>
<circle cx="129.5" cy="582.7" r=".85"/>
<circle cx="136.5" cy="579.0" r=".85"/>
<circle cx="128.9" cy="580.9" r=".85"/>
<circle cx="116.7" cy="576.9" r=".85"/>
<circle cx="140.0" cy="578.7" r=".85"/>
<circle cx="135.2" cy="579.5" r=".85"/>
<circle cx="126.3" cy="573.7" r=".85"/>
<circle cx="125.0" cy="573.0" r=".85"/>
<circle cx="133.8" cy="581.4" r=".85"/>
<circle cx="135.4" cy="579.0" r=".85"/>
<circle cx="134.4" cy="581.5" r=".85"/>
<circle cx="129.8" cy="582.1" r=".85"/>
<circle cx="125.3" cy="581.6" r=".85"/>
<circle cx="125.6" cy="574.8" r=".85"/>
<circle cx="128.8" cy="582.9" r=".85"/>
<circle cx="118.6" cy="571.8" r=".85"/>
<circle cx="132.4" cy="583.4" r=".85"/>
<circle cx="121.6" cy="575.5" r=".85"/>
<circle cx="131.0" cy="584.7" r=".85"/>
<circle cx="135.5" cy="582.0" r=".85"/>
<circle cx="126.9" cy="580.4" r=".85"/>
<circle cx="133.6" cy="582.5" r=".85"/>
<circle cx="131.3" cy="584.3" r=".85"/>
<circle cx="131.8" cy="584.1" r=".85"/>
<circle cx="127.3" cy="577.2" r=".85"/>
<circle cx="133.4" cy="581.3" r=".85"/>
<circle cx="126.5" cy="575.0" r=".85"/>
<circle cx="134.5" cy="582.6" r=".85"/>
<circle cx="130.2" cy="582.8" r=".85"/>
<circle cx="122.6" cy="567.9" r=".85"/>
<circle cx="119.9" cy="577.1" r=".85"/>
<circle cx="138.1" cy="578.3" r=".85"/>
<circle cx="125.6" cy="581.5" r=".85"/>
<circle cx="131.0" cy="584.2" r=".85"/>
<circle cx="129.4" cy="581.4" r=".85"/>
<circle cx="135.5" cy="580.4" r=".85"/>
<circle cx="130.4" cy="582.7" r=".85"/>
<circle cx="126.8" cy="575.9" r=".85"/>
<circle cx="140.4" cy="573.3" r=".85"/>
<circle cx="130.8" cy="582.8" r=".85"/>
<circle cx="125.8" cy="579.6" r=".85"/>
<circle cx="129.3" cy="582.2" r=".85"/>
<circle cx="141.5" cy="576.1" r=".85"/>
<circle cx="130.7" cy="583.4" r=".85"/>
<circle cx="128.4" cy="577.4" r=".85"/>
<circle cx="125.1" cy="575.2" r=".85"/>
<circle cx="130.8" cy="583.7" r=".85"/>
<circle cx="137.0" cy="575.7" r=".85"/>
<circle cx="128.0" cy="578.1" r=".85"/>
<circle cx="128.1" cy="581.6" r=".85"/>
<circle cx="128.9" cy="582.6" r=".85"/>
<circle cx="129.2" cy="581.3" r=".85"/>
<circle cx="134.5" cy="581.3" r=".85"/>
<circle cx="127.6" cy="579.7" r=".85"/>
<circle cx="135.4" cy="578.2" r=".85"/>
<circle cx="127.2" cy="577.3" r=".85"/>
<circle cx="135.1" cy="582.3" r=".85"/>
<circle cx="123.4" cy="579.8" r=".85"/>
<circle cx="135.0" cy="580.0" r=".85"/>
<circle cx="134.7" cy="580.8" r=".85"/>
<circle cx="133.0" cy="581.8" r=".85"/>
<circle cx="124.6" cy="580.7" r=".85"/>
<circle cx="123.6" cy="568.2" r=".85"/>
<circle cx="132.3" cy="583.8" r=".85"/>
<circle cx="135.0" cy="580.4" r=".85"/>
<circle cx="123.7" cy="579.5" r=".85"/>
<circle cx="133.4" cy="582.3" r=".85"/>
<circle cx="133.9" cy="582.2" r=".85"/>
<circle cx="130.3" cy="583.8" r=".85"/>
<circle cx="132.6" cy="583.4" r=".85"/>
<circle cx="136.5" cy="577.7" r=".85"/>
<circle cx="126.5" cy="579.5" r=".85"/>
<circle cx="134.3" cy="582.0" r=".85"/>
<circle cx="136.0" cy="578.0" r=".85"/>
<circle cx="135.6" cy="581.6" r=".85"/>
<circle cx="133.8" cy="580.9" r=".85"/>
<circle cx="136.1" cy="576.8" r=".85"/>
<circle cx="132.5" cy="582.9" r=".85"/>
<circle cx="124.8" cy="571.4" r=".85"/>
<circle cx="135.1" cy="582.9" r=".85"/>
<circle cx="128.6" cy="583.0" r=".85"/>
<circle cx="135.2" cy="581.7" r=".85"/>
<circle cx="131.2" cy="584.5" r=".85"/>
<circle cx="131.7" cy="584.4" r=".85"/>
<circle cx="134.3" cy="581.1" r=".85"/>
<circle cx="138.7" cy="577.0" r=".85"/>
<circle cx="134.9" cy="582.8" r=".85"/>
<circle cx="126.6" cy="575.2" r=".85"/>
<circle cx="128.3" cy="578.0" r=".85"/>
<circle cx="128.9" cy="582.5" r=".85"/>
<circle cx="127.5" cy="578.7" r=".85"/>
<circle cx="132.3" cy="583.3" r=".85"/>
<circle cx="121.9" cy="567.4" r=".85"/>
<circle cx="138.9" cy="574.7" r=".85"/>
<circle cx="140.4" cy="576.8" r=".85"/>
<circle cx="130.8" cy="583.0" r=".85"/>
<circle cx="133.2" cy="583.4" r=".85"/>
<circle cx="124.9" cy="574.6" r=".85"/>
<circle cx="134.7" cy="579.3" r=".85"/>
<circle cx="129.8" cy="581.0" r=".85"/>
<circle cx="128.9" cy="579.9" r=".85"/>
<circle cx="127.2" cy="577.6" r=".85"/>
<circle cx="129.7" cy="582.7" r=".85"/>
<circle cx="130.3" cy="583.3" r=".85"/>
<circle cx="120.5" cy="560.2" r=".85"/>
<circle cx="125.8" cy="576.8" r=".85"/>
<circle cx="125.8" cy="579.4" r=".85"/>
<circle cx="128.9" cy="579.4" r=".85"/>
<circle cx="134.9" cy="579.3" r=".85"/>
<circle cx="141.9" cy="573.1" r=".85"/>
<circle cx="133.9" cy="582.8" r=".85"/>
<circle cx="128.3" cy="580.8" r=".85"/>
<circle cx="133.0" cy="583.4" r=".85"/>
<circle cx="125.8" cy="580.6" r=".85"/>
<circle cx="131.3" cy="584.5" r=".85"/>
<circle cx="136.6" cy="580.0" r=".85"/>
<circle cx="129.1" cy="581.8" r=".85"/>
<circle cx="128.8" cy="579.4" r=".85"/>
<circle cx="137.9" cy="578.0" r=".85"/>
<circle cx="131.3" cy="584.8" r=".85"/>
<circle cx="130.9" cy="584.5" r=".85"/>
<circle cx="126.3" cy="580.8" r=".85"/>
<circle cx="132.9" cy="582.4" r=".85"/>
<circle cx="133.8" cy="582.5" r=".85"/>
<circle cx="125.5" cy="580.0" r=".85"/>
<circle cx="131.1" cy="584.1" r=".85"/>
<circle cx="137.4" cy="576.2" r=".85"/>
<circle cx="135.5" cy="578.2" r=".85"/>
<circle cx="125.3" cy="579.6" r=".85"/>
<circle cx="119.7" cy="563.2" r=".85"/>
<circle cx="133.6" cy="583.2" r=".85"/>
<circle cx="128.6" cy="579.0" r=".85"/>
<circle cx="127.2" cy="581.0" r=".85"/>
<circle cx="138.9" cy="580.3" r=".85"/>
<circle cx="136.0" cy="578.1" r=".85"/>
<circle cx="138.1" cy="579.7" r=".85"/>
<circle cx="129.9" cy="583.6" r=".85"/>
<circle cx="123.9" cy="575.5" r=".85"/>
<circle cx="132.3" cy="583.4" r=".85"/>
<circle cx="131.7" cy="584.3" r=".85"/>
<circle cx="129.2" cy="583.1" r=".85"/>
<circle cx="129.2" cy="580.7" r=".85"/>
<circle cx="130.0" cy="582.4" r=".85"/>
<circle cx="129.6" cy="581.1" r=".85"/>
<circle cx="135.4" cy="581.4" r=".85"/>
<circle cx="133.4" cy="582.8" r=".85"/>
<circle cx="125.8" cy="572.6" r=".85"/>
<circle cx="131.0" cy="584.0" r=".85"/>
<circle cx="130.3" cy="583.3" r=".85"/>
<circle cx="130.0" cy="583.0" r=".85"/>
<circle cx="131.5" cy="584.4" r=".85"/>
<circle cx="128.1" cy="578.8" r=".85"/>
<circle cx="127.4" cy="579.1" r=".85"/>
<circle cx="136.8" cy="577.7" r=".85"/>
<circle cx="130.6" cy="583.7" r=".85"/>
<circle cx="125.8" cy="572.5" r=".85"/>
<circle cx="121.2" cy="563.3" r=".85"/>
<circle cx="125.6" cy="575.9" r=".85"/>
<circle cx="133.3" cy="581.8" r=".85"/>
<circle cx="136.2" cy="580.2" r=".85"/>
<circle cx="133.2" cy="581.5" r=".85"/>
<circle cx="128.1" cy="581.4" r=".85"/>
<circle cx="128.1" cy="579.1" r=".85"/>
<circle cx="135.2" cy="581.3" r=".85"/>
<circle cx="128.5" cy="579.0" r=".85"/>
<circle cx="124.5" cy="577.9" r=".85"/>
<circle cx="125.1" cy="572.6" r=".85"/>
<circle cx="128.8" cy="581.2" r=".85"/>
<circle cx="128.7" cy="580.4" r=".85"/>
<circle cx="131.5" cy="584.3" r=".85"/>
<circle cx="118.2" cy="568.5" r=".85"/>
<circle cx="130.0" cy="583.0" r=".85"/>
<circle cx="129.1" cy="581.9" r=".85"/>
<circle cx="134.1" cy="580.6" r=".85"/>
<circle cx="135.1" cy="581.6" r=".85"/>
<circle cx="135.0" cy="579.1" r=".85"/>
<circle cx="132.6" cy="582.9" r=".85"/>
<circle cx="130.9" cy="583.9" r=".85"/>
<circle cx="128.3" cy="582.0" r=".85"/>
<circle cx="130.3" cy="582.5" r=".85"/>
<circle cx="129.1" cy="583.5" r=".85"/>
<circle cx="127.7" cy="578.6" r=".85"/>
<circle cx="135.9" cy="578.3" r=".85"/>
<circle cx="128.8" cy="581.8" r=".85"/>
<circle cx="138.4" cy="578.0" r=".85"/>
<circle cx="133.4" cy="582.0" r=".85"/>
<circle cx="124.4" cy="576.4" r=".85"/>
<circle cx="132.9" cy="583.7" r=".85"/>
<circle cx="128.7" cy="579.7" r=".85"/>
<circle cx="129.5" cy="582.2" r=".85"/>
<circle cx="132.2" cy="583.9" r=".85"/>
<circle cx="133.3" cy="581.2" r=".85"/>
<circle cx="133.2" cy="583.3" r=".85"/>
<circle cx="133.9" cy="582.8" r=".85"/>
<circle cx="130.4" cy="583.1" r=".85"/>
<circle cx="137.3" cy="575.0" r=".85"/>
<circle cx="126.5" cy="580.5" r=".85"/>
<circle cx="133.9" cy="583.3" r=".85"/>
<circle cx="125.8" cy="574.4" r=".85"/>
<circle cx="130.9" cy="584.1" r=".85"/>
<circle cx="127.9" cy="578.4" r=".85"/>
<circle cx="124.3" cy="575.7" r=".85"/>
<circle cx="128.2" cy="578.0" r=".85"/>
<circle cx="129.1" cy="582.8" r=".85"/>
<circle cx="131.9" cy="584.3" r=".85"/>
<circle cx="139.3" cy="573.8" r=".85"/>
<circle cx="131.5" cy="584.3" r=".85"/>
<circle cx="131.9" cy="584.4" r=".85"/>
<circle cx="129.2" cy="581.1" r=".85"/>
<circle cx="133.7" cy="581.1" r=".85"/>
<circle cx="136.6" cy="578.6" r=".85"/>
<circle cx="131.4" cy="584.6" r=".85"/>
<circle cx="122.8" cy="575.5" r=".85"/>
<circle cx="133.1" cy="582.7" r=".85"/>
<circle cx="128.2" cy="581.3" r=".85"/>
<circle cx="126.0" cy="581.0" r=".85"/>
<circle cx="136.4" cy="581.1" r=".85"/>
<circle cx="127.8" cy="577.7" r=".85"/>
<circle cx="127.2" cy="578.8" r=".85"/>
<circle cx="127.3" cy="577.6" r=".85"/>
<circle cx="125.9" cy="580.9" r=".85"/>
<circle cx="132.9" cy="583.8" r=".85"/>
<circle cx="127.1" cy="580.4" r=".85"/>
<circle cx="135.9" cy="580.6" r=".85"/>
<circle cx="125.5" cy="574.5" r=".85"/>
<circle cx="125.2" cy="575.8" r=".85"/>
<circle cx="133.6" cy="581.5" r=".85"/>
<circle cx="137.8" cy="575.7" r=".85"/>
<circle cx="130.9" cy="583.9" r=".85"/>
<circle cx="125.0" cy="572.2" r=".85"/>
<circle cx="128.1" cy="581.8" r=".85"/>
<circle cx="135.8" cy="577.1" r=".85"/>
<circle cx="126.4" cy="579.1" r=".85"/>
<circle cx="134.3" cy="581.3" r=".85"/>
<circle cx="132.6" cy="584.4" r=".85"/>
<circle cx="129.0" cy="581.8" r=".85"/>
<circle cx="131.0" cy="584.5" r=".85"/>
<circle cx="138.3" cy="575.5" r=".85"/>
<circle cx="136.8" cy="578.3" r=".85"/>
<circle cx="130.2" cy="583.7" r=".85"/>
<circle cx="132.5" cy="583.3" r=".85"/>
<circle cx="127.6" cy="578.1" r=".85"/>
<circle cx="134.3" cy="579.6" r=".85"/>
<circle cx="126.4" cy="578.9" r=".85"/>
<circle cx="128.8" cy="581.8" r=".85"/>
<circle cx="139.8" cy="578.6" r=".85"/>
<circle cx="134.6" cy="579.7" r=".85"/>
<circle cx="137.4" cy="575.8" r=".85"/>
<circle cx="126.5" cy="579.5" r=".85"/>
<circle cx="127.3" cy="580.4" r=".85"/>
<circle cx="139.9" cy="575.1" r=".85"/>
<circle cx="125.9" cy="574.2" r=".85"/>
<circle cx="135.2" cy="578.0" r=".85"/>
<circle cx="132.7" cy="582.6" r=".85"/>
<circle cx="133.7" cy="582.8" r=".85"/>
<circle cx="126.7" cy="575.8" r=".85"/>
<circle cx="133.5" cy="582.6" r=".85"/>
<circle cx="128.6" cy="579.1" r=".85"/>
<circle cx="131.4" cy="584.5" r=".85"/>
<circle cx="136.9" cy="580.6" r=".85"/>
<circle cx="134.0" cy="580.9" r=".85"/>
<circle cx="130.9" cy="583.3" r=".85"/>
<circle cx="130.7" cy="584.2" r=".85"/>
<circle cx="139.6" cy="574.1" r=".85"/>
<circle cx="132.9" cy="581.6" r=".85"/>
<circle cx="139.4" cy="576.3" r=".85"/>
<circle cx="127.4" cy="580.1" r=".85"/>
<circle cx="132.5" cy="583.2" r=".85"/>
<circle cx="126.5" cy="578.9" r=".85"/>
<circle cx="129.2" cy="583.1" r=".85"/>
<circle cx="136.6" cy="576.5" r=".85"/>
<circle cx="127.4" cy="579.9" r=".85"/>
<circle cx="134.6" cy="582.3" r=".85"/>
<circle cx="134.3" cy="582.9" r=".85"/>
<circle cx="132.4" cy="583.6" r=".85"/>
<circle cx="133.8" cy="582.3" r=".85"/>
<circle cx="135.8" cy="577.8" r=".85"/>
<circle cx="132.0" cy="584.2" r=".85"/>
<circle cx="130.8" cy="584.6" r=".85"/>
<circle cx="134.0" cy="583.0" r=".85"/>
<circle cx="131.5" cy="584.2" r=".85"/>
<circle cx="128.5" cy="582.5" r=".85"/>
<circle cx="137.8" cy="574.4" r=".85"/>
<circle cx="126.9" cy="579.0" r=".85"/>
<circle cx="128.9" cy="581.4" r=".85"/>
<circle cx="131.5" cy="584.4" r=".85"/>
<circle cx="135.0" cy="579.8" r=".85"/>
<circle cx="136.1" cy="580.7" r=".85"/>
<circle cx="126.1" cy="575.0" r=".85"/>
<circle cx="126.1" cy="575.8" r=".85"/>
<circle cx="134.7" cy="580.0" r=".85"/>
<circle cx="128.5" cy="581.3" r=".85"/>
<circle cx="127.4" cy="579.8" r=".85"/>
<circle cx="141.0" cy="577.2" r=".85"/>
<circle cx="126.1" cy="573.8" r=".85"/>
<circle cx="133.5" cy="582.0" r=".85"/>
<circle cx="127.5" cy="580.6" r=".85"/>
<circle cx="135.1" cy="580.6" r=".85"/>
<circle cx="125.0" cy="579.4" r=".85"/>
<circle cx="131.6" cy="584.3" r=".85"/>
<circle cx="136.7" cy="581.1" r=".85"/>
<circle cx="122.7" cy="575.5" r=".85"/>
<circle cx="130.8" cy="584.3" r=".85"/>
<circle cx="139.1" cy="578.2" r=".85"/>
<circle cx="137.8" cy="576.1" r=".85"/>
<circle cx="125.6" cy="580.4" r=".85"/>
<circle cx="136.1" cy="582.1" r=".85"/>
<circle cx="139.2" cy="577.3" r=".85"/>
<circle cx="129.5" cy="580.5" r=".85"/>
<circle cx="126.7" cy="577.6" r=".85"/>
<circle cx="134.0" cy="582.9" r=".85"/>
<circle cx="131.2" cy="584.7" r=".85"/>
<circle cx="127.9" cy="577.0" r=".85"/>
<circle cx="130.9" cy="583.8" r=".85"/>
<circle cx="126.8" cy="581.3" r=".85"/>
<circle cx="126.9" cy="580.8" r=".85"/>
<circle cx="138.0" cy="579.2" r=".85"/>
<circle cx="135.3" cy="579.4" r=".85"/>
<circle cx="133.1" cy="582.6" r=".85"/>
<circle cx="132.2" cy="583.8" r=".85"/>
<circle cx="121.1" cy="575.0" r=".85"/>
<circle cx="130.6" cy="583.7" r=".85"/>
<circle cx="138.1" cy="572.8" r=".85"/>
<circle cx="133.3" cy="581.7" r=".85"/>
<circle cx="129.2" cy="580.8" r=".85"/>
<circle cx="132.1" cy="584.3" r=".85"/>
<circle cx="145.0" cy="575.9" r=".85"/>
<circle cx="133.6" cy="581.7" r=".85"/>
<circle cx="132.4" cy="583.3" r=".85"/>
<circle cx="129.1" cy="580.3" r=".85"/>
<circle cx="125.7" cy="581.6" r=".85"/>
<circle cx="133.7" cy="581.0" r=".85"/>
<circle cx="129.8" cy="581.8" r=".85"/>
<circle cx="138.8" cy="578.9" r=".85"/>
<circle cx="138.0" cy="573.7" r=".85"/>
<circle cx="133.3" cy="582.4" r=".85"/>
<circle cx="130.2" cy="582.0" r=".85"/>
<circle cx="126.9" cy="579.2" r=".85"/>
<circle cx="137.8" cy="578.8" r=".85"/>
<circle cx="137.4" cy="579.8" r=".85"/>
<circle cx="131.3" cy="584.8" r=".85"/>
<circle cx="131.7" cy="584.3" r=".85"/>
<circle cx="131.3" cy="584.7" r=".85"/>
<circle cx="130.7" cy="584.2" r=".85"/>
<circle cx="124.7" cy="573.0" r=".85"/>
<circle cx="128.7" cy="580.4" r=".85"/>
<circle cx="130.1" cy="583.5" r=".85"/>
<circle cx="133.0" cy="582.8" r=".85"/>
<circle cx="134.6" cy="581.5" r=".85"/>
<circle cx="122.5" cy="575.1" r=".85"/>
<circle cx="130.0" cy="583.0" r=".85"/>
<circle cx="122.7" cy="572.3" r=".85"/>
<circle cx="133.9" cy="580.4" r=".85"/>
<circle cx="132.3" cy="583.3" r=".85"/>
<circle cx="133.8" cy="581.7" r=".85"/>
<circle cx="129.3" cy="581.9" r=".85"/>
<circle cx="134.1" cy="580.8" r=".85"/>
<circle cx="130.8" cy="583.8" r=".85"/>
<circle cx="132.0" cy="583.9" r=".85"/>
<circle cx="128.0" cy="582.1" r=".85"/>
<circle cx="131.7" cy="584.4" r=".85"/>
<circle cx="131.9" cy="584.4" r=".85"/>
<circle cx="131.4" cy="584.1" r=".85"/>
<circle cx="127.5" cy="580.6" r=".85"/>
<circle cx="136.1" cy="580.4" r=".85"/>
<circle cx="130.5" cy="583.9" r=".85"/>
<circle cx="129.0" cy="580.9" r=".85"/>
<circle cx="125.0" cy="579.5" r=".85"/>
<circle cx="136.4" cy="578.6" r=".85"/>
<circle cx="136.3" cy="577.8" r=".85"/>
<circle cx="134.2" cy="580.2" r=".85"/>
<circle cx="124.8" cy="573.8" r=".85"/>
<circle cx="128.9" cy="579.8" r=".85"/>
<circle cx="132.6" cy="583.9" r=".85"/>
<circle cx="125.8" cy="580.9" r=".85"/>
<circle cx="128.4" cy="580.1" r=".85"/>
</g>
<line x1="35.70" y1="466.30" x2="35.70" y2="590.30" stroke="#333" stroke-width="1.1" />
<line x1="35.70" y1="590.30" x2="251.60" y2="590.30" stroke="#333" stroke-width="1.1" />
<line x1="33.10" y1="585.00" x2="35.70" y2="585.00" stroke="#333" stroke-width="0.9" />
<text x="29.70" y="587.50" font-size="7.2" fill="#333" stroke="#333" stroke-width="0.1" text-anchor="end" >0</text>
<line x1="33.10" y1="546.40" x2="35.70" y2="546.40" stroke="#333" stroke-width="0.9" />
<text x="29.70" y="548.90" font-size="7.2" fill="#333" stroke="#333" stroke-width="0.1" text-anchor="end" >1</text>
<line x1="33.10" y1="507.80" x2="35.70" y2="507.80" stroke="#333" stroke-width="0.9" />
<text x="29.70" y="510.30" font-size="7.2" fill="#333" stroke="#333" stroke-width="0.1" text-anchor="end" >2</text>
<line x1="33.10" y1="469.20" x2="35.70" y2="469.20" stroke="#333" stroke-width="0.9" />
<text x="29.70" y="471.70" font-size="7.2" fill="#333" stroke="#333" stroke-width="0.1" text-anchor="end" >3</text>
<line x1="95.32" y1="590.30" x2="95.32" y2="592.70" stroke="#333" stroke-width="0.9" />
<text x="95.32" y="602.30" font-size="7.3" fill="#222" stroke="#222" stroke-width="0.1" text-anchor="middle" >0.85</text>
<line x1="131.40" y1="590.30" x2="131.40" y2="592.70" stroke="#333" stroke-width="0.9" />
<text x="131.40" y="602.30" font-size="7.3" fill="#222" stroke="#222" stroke-width="0.1" text-anchor="middle" >1</text>
<line x1="171.88" y1="590.30" x2="171.88" y2="592.70" stroke="#333" stroke-width="0.9" />
<text x="171.88" y="602.30" font-size="7.3" fill="#222" stroke="#222" stroke-width="0.1" text-anchor="middle" >1.2</text>
<line x1="189.64" y1="590.30" x2="189.64" y2="592.70" stroke="#333" stroke-width="0.9" />
<text x="189.64" y="602.30" font-size="7.3" fill="#222" stroke="#222" stroke-width="0.1" text-anchor="middle" >1.3</text>
<line x1="221.41" y1="590.30" x2="221.41" y2="592.70" stroke="#333" stroke-width="0.9" />
<text x="221.41" y="602.30" font-size="7.3" fill="#222" stroke="#222" stroke-width="0.1" text-anchor="middle" >1.5</text>
<text x="15.70" y="530.00" font-size="7.4" fill="#222" text-anchor="middle" textLength="37.20" lengthAdjust="spacingAndGlyphs" transform="rotate(-90 15.70 530.00)" stroke="#222" stroke-width="0.15">-log10 (FDR)</text>
<circle cx="40" cy="459.5" r="1.3" fill="#111"/>
<text x="45.00" y="462.20" font-size="6.6" fill="#333" stroke="#333" stroke-width="0.1" textLength="55.00" lengthAdjust="spacingAndGlyphs" >Defense response/</text>
<text x="45.00" y="470.80" font-size="6.6" fill="#333" stroke="#333" stroke-width="0.1" textLength="82.50" lengthAdjust="spacingAndGlyphs" >immune response signature</text>
<text x="36.30" y="615.50" font-size="8.6" fill="#222" textLength="216.50" lengthAdjust="spacingAndGlyphs" stroke="#222" stroke-width="0.15">Fold change (BL anemia vs No BL anemia) among patients with CH mutations</text>
<text x="268.75" y="453.80" font-size="10.6" fill="#111" stroke="#111" stroke-width="0.1" font-weight="bold" >G</text>
<line x1="381.50" y1="471.30" x2="381.50" y2="590.30" stroke="#cacaca" stroke-width="1" />
<line x1="402.50" y1="471.30" x2="402.50" y2="590.30" stroke="#cacaca" stroke-width="1" />
<line x1="296.00" y1="534.50" x2="512.10" y2="534.50" stroke="#999" stroke-width="1" stroke-dasharray="1,1" />
<g fill="#7a7a7a" fill-opacity="0.07">
<circle cx="401.2" cy="563.5" r=".85"/>
<circle cx="395.6" cy="577.7" r=".85"/>
<circle cx="381.4" cy="556.9" r=".85"/>
<circle cx="400.0" cy="576.9" r=".85"/>
<circle cx="390.6" cy="583.3" r=".85"/>
<circle cx="405.1" cy="557.4" r=".85"/>
<circle cx="410.7" cy="560.0" r=".85"/>
<circle cx="407.4" cy="576.2" r=".85"/>
<circle cx="390.2" cy="581.0" r=".85"/>
<circle cx="392.0" cy="584.1" r=".85"/>
<circle cx="408.5" cy="568.5" r=".85"/>
<circle cx="363.5" cy="534.9" r=".85"/>
<circle cx="419.8" cy="546.9" r=".85"/>
<circle cx="402.1" cy="568.4" r=".85"/>
<circle cx="383.9" cy="576.2" r=".85"/>
<circle cx="385.6" cy="576.6" r=".85"/>
<circle cx="372.5" cy="567.6" r=".85"/>
<circle cx="384.3" cy="572.3" r=".85"/>
<circle cx="382.5" cy="566.5" r=".85"/>
<circle cx="413.3" cy="540.1" r=".85"/>
<circle cx="375.7" cy="557.3" r=".85"/>
<circle cx="391.6" cy="584.4" r=".85"/>
<circle cx="384.4" cy="568.1" r=".85"/>
<circle cx="381.9" cy="569.7" r=".85"/>
<circle cx="362.6" cy="570.5" r=".85"/>
<circle cx="392.9" cy="583.2" r=".85"/>
<circle cx="393.4" cy="581.5" r=".85"/>
<circle cx="371.1" cy="543.7" r=".85"/>
<circle cx="414.2" cy="542.2" r=".85"/>
<circle cx="394.4" cy="582.5" r=".85"/>
<circle cx="397.9" cy="574.9" r=".85"/>
<circle cx="398.1" cy="573.5" r=".85"/>
<circle cx="403.9" cy="572.8" r=".85"/>
<circle cx="400.2" cy="574.2" r=".85"/>
<circle cx="417.4" cy="531.0" r=".85"/>
<circle cx="383.4" cy="579.8" r=".85"/>
<circle cx="387.7" cy="577.5" r=".85"/>
<circle cx="395.9" cy="580.5" r=".85"/>
<circle cx="399.2" cy="576.9" r=".85"/>
<circle cx="383.7" cy="576.4" r=".85"/>
<circle cx="381.5" cy="567.2" r=".85"/>
<circle cx="379.4" cy="573.2" r=".85"/>
<circle cx="408.4" cy="574.1" r=".85"/>
<circle cx="400.2" cy="570.2" r=".85"/>
<circle cx="379.4" cy="566.1" r=".85"/>
<circle cx="394.3" cy="579.7" r=".85"/>
<circle cx="400.1" cy="570.3" r=".85"/>
<circle cx="398.5" cy="581.9" r=".85"/>
<circle cx="392.6" cy="583.5" r=".85"/>
<circle cx="398.9" cy="572.5" r=".85"/>
<circle cx="384.2" cy="573.6" r=".85"/>
<circle cx="396.2" cy="577.6" r=".85"/>
<circle cx="402.5" cy="578.4" r=".85"/>
<circle cx="399.6" cy="568.5" r=".85"/>
<circle cx="388.7" cy="578.4" r=".85"/>
<circle cx="408.1" cy="554.5" r=".85"/>
<circle cx="382.3" cy="579.7" r=".85"/>
<circle cx="393.7" cy="580.0" r=".85"/>
<circle cx="395.1" cy="580.8" r=".85"/>
<circle cx="395.3" cy="574.3" r=".85"/>
<circle cx="392.0" cy="583.7" r=".85"/>
<circle cx="402.3" cy="572.7" r=".85"/>
<circle cx="393.0" cy="581.0" r=".85"/>
<circle cx="414.3" cy="574.0" r=".85"/>
<circle cx="401.8" cy="579.6" r=".85"/>
<circle cx="410.1" cy="549.3" r=".85"/>
<circle cx="376.5" cy="563.1" r=".85"/>
<circle cx="383.7" cy="578.2" r=".85"/>
<circle cx="378.7" cy="565.6" r=".85"/>
<circle cx="413.7" cy="550.3" r=".85"/>
<circle cx="413.6" cy="567.4" r=".85"/>
<circle cx="387.3" cy="580.4" r=".85"/>
<circle cx="388.5" cy="576.3" r=".85"/>
<circle cx="366.7" cy="569.8" r=".85"/>
<circle cx="406.8" cy="566.9" r=".85"/>
<circle cx="393.8" cy="580.5" r=".85"/>
<circle cx="397.2" cy="572.5" r=".85"/>
<circle cx="385.4" cy="574.7" r=".85"/>
<circle cx="368.7" cy="533.1" r=".85"/>
<circle cx="396.8" cy="571.3" r=".85"/>
<circle cx="411.8" cy="545.1" r=".85"/>
<circle cx="380.1" cy="571.7" r=".85"/>
<circle cx="393.9" cy="582.6" r=".85"/>
<circle cx="389.4" cy="582.5" r=".85"/>
<circle cx="394.3" cy="579.8" r=".85"/>
<circle cx="380.4" cy="570.5" r=".85"/>
<circle cx="389.2" cy="579.7" r=".85"/>
<circle cx="404.3" cy="577.4" r=".85"/>
<circle cx="394.8" cy="582.4" r=".85"/>
<circle cx="396.5" cy="577.9" r=".85"/>
<circle cx="386.9" cy="579.0" r=".85"/>
<circle cx="397.0" cy="579.6" r=".85"/>
<circle cx="417.4" cy="545.9" r=".85"/>
<circle cx="367.2" cy="560.9" r=".85"/>
<circle cx="403.0" cy="565.3" r=".85"/>
<circle cx="403.7" cy="564.4" r=".85"/>
<circle cx="380.7" cy="575.9" r=".85"/>
<circle cx="381.6" cy="573.3" r=".85"/>
<circle cx="411.3" cy="540.8" r=".85"/>
<circle cx="413.9" cy="535.8" r=".85"/>
<circle cx="393.9" cy="582.8" r=".85"/>
<circle cx="400.7" cy="573.7" r=".85"/>
<circle cx="411.0" cy="558.1" r=".85"/>
<circle cx="391.7" cy="584.1" r=".85"/>
<circle cx="384.2" cy="572.8" r=".85"/>
<circle cx="391.3" cy="580.4" r=".85"/>
<circle cx="396.5" cy="578.5" r=".85"/>
<circle cx="377.0" cy="577.9" r=".85"/>
<circle cx="384.7" cy="574.6" r=".85"/>
<circle cx="400.8" cy="564.0" r=".85"/>
<circle cx="389.2" cy="581.0" r=".85"/>
<circle cx="421.9" cy="525.9" r=".85"/>
<circle cx="361.6" cy="560.5" r=".85"/>
<circle cx="404.5" cy="564.1" r=".85"/>
<circle cx="409.7" cy="553.6" r=".85"/>
<circle cx="379.1" cy="573.6" r=".85"/>
<circle cx="394.4" cy="582.5" r=".85"/>
<circle cx="397.2" cy="581.4" r=".85"/>
<circle cx="387.7" cy="578.2" r=".85"/>
<circle cx="377.4" cy="558.6" r=".85"/>
<circle cx="414.1" cy="555.2" r=".85"/>
<circle cx="424.4" cy="534.9" r=".85"/>
<circle cx="406.2" cy="569.0" r=".85"/>
<circle cx="381.2" cy="561.4" r=".85"/>
<circle cx="416.4" cy="553.9" r=".85"/>
<circle cx="387.9" cy="578.2" r=".85"/>
<circle cx="384.9" cy="577.9" r=".85"/>
<circle cx="365.2" cy="551.6" r=".85"/>
<circle cx="405.0" cy="564.4" r=".85"/>
<circle cx="378.4" cy="569.6" r=".85"/>
<circle cx="390.7" cy="580.7" r=".85"/>
<circle cx="402.3" cy="562.4" r=".85"/>
<circle cx="355.4" cy="558.3" r=".85"/>
<circle cx="390.3" cy="580.1" r=".85"/>
<circle cx="374.2" cy="562.9" r=".85"/>
<circle cx="378.7" cy="573.7" r=".85"/>
<circle cx="377.9" cy="562.2" r=".85"/>
<circle cx="387.1" cy="579.7" r=".85"/>
<circle cx="366.9" cy="543.0" r=".85"/>
<circle cx="403.5" cy="576.2" r=".85"/>
<circle cx="386.5" cy="579.1" r=".85"/>
<circle cx="393.0" cy="581.4" r=".85"/>
<circle cx="379.9" cy="573.2" r=".85"/>
<circle cx="420.3" cy="562.1" r=".85"/>
<circle cx="407.2" cy="569.5" r=".85"/>
<circle cx="406.6" cy="562.4" r=".85"/>
<circle cx="394.7" cy="579.3" r=".85"/>
<circle cx="376.1" cy="565.4" r=".85"/>
<circle cx="389.7" cy="579.6" r=".85"/>
<circle cx="378.4" cy="553.5" r=".85"/>
<circle cx="381.6" cy="566.7" r=".85"/>
<circle cx="378.5" cy="566.2" r=".85"/>
<circle cx="397.5" cy="580.4" r=".85"/>
<circle cx="360.7" cy="525.4" r=".85"/>
<circle cx="393.6" cy="580.5" r=".85"/>
<circle cx="380.1" cy="570.6" r=".85"/>
<circle cx="387.7" cy="575.2" r=".85"/>
<circle cx="388.9" cy="578.3" r=".85"/>
<circle cx="381.6" cy="576.3" r=".85"/>
<circle cx="407.5" cy="569.7" r=".85"/>
<circle cx="370.7" cy="558.2" r=".85"/>
<circle cx="392.3" cy="583.0" r=".85"/>
<circle cx="397.5" cy="579.9" r=".85"/>
<circle cx="405.0" cy="578.6" r=".85"/>
<circle cx="372.0" cy="543.7" r=".85"/>
<circle cx="387.6" cy="575.7" r=".85"/>
<circle cx="364.9" cy="564.1" r=".85"/>
<circle cx="391.9" cy="583.1" r=".85"/>
<circle cx="365.0" cy="560.6" r=".85"/>
<circle cx="402.8" cy="570.1" r=".85"/>
<circle cx="385.4" cy="571.0" r=".85"/>
<circle cx="405.9" cy="573.0" r=".85"/>
<circle cx="410.2" cy="556.8" r=".85"/>
<circle cx="382.7" cy="568.1" r=".85"/>
<circle cx="396.9" cy="579.8" r=".85"/>
<circle cx="357.6" cy="555.7" r=".85"/>
<circle cx="405.0" cy="556.7" r=".85"/>
<circle cx="393.2" cy="583.9" r=".85"/>
<circle cx="395.0" cy="580.7" r=".85"/>
<circle cx="380.3" cy="572.6" r=".85"/>
<circle cx="391.6" cy="580.3" r=".85"/>
<circle cx="379.1" cy="569.4" r=".85"/>
<circle cx="380.2" cy="574.6" r=".85"/>
<circle cx="389.5" cy="581.7" r=".85"/>
<circle cx="398.7" cy="576.1" r=".85"/>
<circle cx="380.6" cy="559.7" r=".85"/>
<circle cx="376.2" cy="561.3" r=".85"/>
<circle cx="406.2" cy="564.2" r=".85"/>
<circle cx="394.6" cy="578.2" r=".85"/>
<circle cx="355.4" cy="552.2" r=".85"/>
<circle cx="374.9" cy="576.3" r=".85"/>
<circle cx="411.8" cy="566.9" r=".85"/>
<circle cx="364.6" cy="541.9" r=".85"/>
<circle cx="359.3" cy="541.3" r=".85"/>
<circle cx="417.0" cy="568.9" r=".85"/>
<circle cx="409.7" cy="540.5" r=".85"/>
<circle cx="378.2" cy="564.2" r=".85"/>
<circle cx="400.9" cy="574.2" r=".85"/>
<circle cx="379.3" cy="563.8" r=".85"/>
<circle cx="380.4" cy="576.8" r=".85"/>
<circle cx="414.5" cy="545.1" r=".85"/>
<circle cx="396.9" cy="575.1" r=".85"/>
<circle cx="387.5" cy="578.2" r=".85"/>
<circle cx="365.9" cy="561.3" r=".85"/>
<circle cx="380.7" cy="566.1" r=".85"/>
<circle cx="407.8" cy="577.5" r=".85"/>
<circle cx="405.8" cy="556.9" r=".85"/>
<circle cx="405.6" cy="574.8" r=".85"/>
<circle cx="390.4" cy="581.4" r=".85"/>
<circle cx="399.4" cy="571.6" r=".85"/>
<circle cx="388.9" cy="580.6" r=".85"/>
<circle cx="394.8" cy="582.2" r=".85"/>
<circle cx="368.4" cy="542.1" r=".85"/>
<circle cx="410.1" cy="559.5" r=".85"/>
<circle cx="413.1" cy="574.7" r=".85"/>
<circle cx="369.8" cy="562.0" r=".85"/>
<circle cx="389.9" cy="580.1" r=".85"/>
<circle cx="383.4" cy="570.8" r=".85"/>
<circle cx="377.0" cy="556.0" r=".85"/>
<circle cx="394.5" cy="583.4" r=".85"/>
<circle cx="350.4" cy="569.2" r=".85"/>
<circle cx="385.1" cy="569.2" r=".85"/>
<circle cx="396.1" cy="576.4" r=".85"/>
<circle cx="396.3" cy="575.1" r=".85"/>
<circle cx="393.5" cy="581.0" r=".85"/>
<circle cx="409.7" cy="546.8" r=".85"/>
<circle cx="400.2" cy="582.0" r=".85"/>
<circle cx="372.5" cy="545.8" r=".85"/>
<circle cx="382.6" cy="576.5" r=".85"/>
<circle cx="407.7" cy="552.8" r=".85"/>
<circle cx="379.2" cy="558.2" r=".85"/>
<circle cx="393.4" cy="582.7" r=".85"/>
<circle cx="393.1" cy="582.6" r=".85"/>
<circle cx="424.4" cy="543.6" r=".85"/>
<circle cx="420.6" cy="564.8" r=".85"/>
<circle cx="391.1" cy="580.7" r=".85"/>
<circle cx="380.4" cy="571.5" r=".85"/>
<circle cx="397.1" cy="581.5" r=".85"/>
<circle cx="409.9" cy="546.3" r=".85"/>
<circle cx="399.4" cy="576.7" r=".85"/>
<circle cx="412.3" cy="543.1" r=".85"/>
<circle cx="397.2" cy="577.0" r=".85"/>
<circle cx="395.5" cy="578.3" r=".85"/>
<circle cx="409.0" cy="575.6" r=".85"/>
<circle cx="402.8" cy="567.1" r=".85"/>
<circle cx="402.0" cy="565.4" r=".85"/>
<circle cx="406.5" cy="564.3" r=".85"/>
<circle cx="386.7" cy="573.3" r=".85"/>
<circle cx="385.7" cy="576.2" r=".85"/>
<circle cx="400.2" cy="573.7" r=".85"/>
<circle cx="407.4" cy="549.8" r=".85"/>
<circle cx="419.7" cy="545.7" r=".85"/>
<circle cx="387.4" cy="581.5" r=".85"/>
<circle cx="384.7" cy="575.2" r=".85"/>
<circle cx="383.9" cy="565.4" r=".85"/>
<circle cx="394.4" cy="581.1" r=".85"/>
<circle cx="418.6" cy="546.3" r=".85"/>
<circle cx="371.6" cy="558.8" r=".85"/>
<circle cx="395.1" cy="577.0" r=".85"/>
<circle cx="385.4" cy="571.3" r=".85"/>
<circle cx="396.3" cy="579.8" r=".85"/>
<circle cx="386.4" cy="569.9" r=".85"/>
<circle cx="391.6" cy="584.7" r=".85"/>
<circle cx="374.7" cy="551.5" r=".85"/>
<circle cx="392.3" cy="580.4" r=".85"/>
<circle cx="410.2" cy="567.5" r=".85"/>
<circle cx="388.0" cy="579.0" r=".85"/>
<circle cx="387.7" cy="581.4" r=".85"/>
<circle cx="425.9" cy="542.9" r=".85"/>
<circle cx="406.6" cy="554.3" r=".85"/>
<circle cx="395.2" cy="583.5" r=".85"/>
<circle cx="385.3" cy="578.3" r=".85"/>
<circle cx="404.4" cy="579.0" r=".85"/>
<circle cx="408.2" cy="558.5" r=".85"/>
<circle cx="380.3" cy="578.8" r=".85"/>
<circle cx="397.0" cy="579.2" r=".85"/>
<circle cx="380.2" cy="562.3" r=".85"/>
<circle cx="403.4" cy="570.0" r=".85"/>
<circle cx="394.7" cy="576.4" r=".85"/>
<circle cx="396.5" cy="582.6" r=".85"/>
<circle cx="408.7" cy="565.7" r=".85"/>
<circle cx="427.7" cy="548.8" r=".85"/>
<circle cx="389.6" cy="578.8" r=".85"/>
<circle cx="414.9" cy="571.0" r=".85"/>
<circle cx="399.7" cy="571.9" r=".85"/>
<circle cx="387.8" cy="581.0" r=".85"/>
<circle cx="383.9" cy="580.4" r=".85"/>
<circle cx="389.6" cy="581.3" r=".85"/>
<circle cx="410.5" cy="569.1" r=".85"/>
<circle cx="402.0" cy="574.1" r=".85"/>
<circle cx="383.9" cy="568.8" r=".85"/>
<circle cx="395.2" cy="575.5" r=".85"/>
<circle cx="381.2" cy="560.8" r=".85"/>
<circle cx="397.7" cy="574.8" r=".85"/>
<circle cx="390.1" cy="582.3" r=".85"/>
<circle cx="378.9" cy="574.8" r=".85"/>
<circle cx="399.4" cy="579.8" r=".85"/>
<circle cx="389.8" cy="582.1" r=".85"/>
<circle cx="399.0" cy="580.3" r=".85"/>
<circle cx="390.4" cy="580.6" r=".85"/>
<circle cx="396.3" cy="581.6" r=".85"/>
<circle cx="407.5" cy="556.4" r=".85"/>
<circle cx="373.0" cy="540.1" r=".85"/>
<circle cx="393.9" cy="583.0" r=".85"/>
<circle cx="405.1" cy="557.4" r=".85"/>
<circle cx="380.7" cy="571.0" r=".85"/>
<circle cx="390.2" cy="578.1" r=".85"/>
<circle cx="394.7" cy="579.2" r=".85"/>
<circle cx="395.9" cy="576.8" r=".85"/>
<circle cx="386.3" cy="575.2" r=".85"/>
<circle cx="382.8" cy="564.3" r=".85"/>
<circle cx="423.5" cy="551.7" r=".85"/>
<circle cx="409.4" cy="558.0" r=".85"/>
<circle cx="376.0" cy="563.0" r=".85"/>
<circle cx="391.5" cy="583.2" r=".85"/>
<circle cx="381.6" cy="566.3" r=".85"/>
<circle cx="400.8" cy="562.6" r=".85"/>
<circle cx="398.0" cy="577.9" r=".85"/>
<circle cx="393.8" cy="579.7" r=".85"/>
<circle cx="375.6" cy="549.0" r=".85"/>
<circle cx="398.7" cy="573.8" r=".85"/>
<circle cx="379.0" cy="555.4" r=".85"/>
<circle cx="391.8" cy="582.1" r=".85"/>
<circle cx="399.6" cy="576.0" r=".85"/>
<circle cx="392.1" cy="583.1" r=".85"/>
<circle cx="395.4" cy="581.2" r=".85"/>
<circle cx="410.3" cy="557.3" r=".85"/>
<circle cx="403.0" cy="564.4" r=".85"/>
<circle cx="392.3" cy="583.3" r=".85"/>
<circle cx="404.2" cy="575.5" r=".85"/>
<circle cx="410.9" cy="569.5" r=".85"/>
<circle cx="382.1" cy="574.3" r=".85"/>
<circle cx="408.4" cy="561.0" r=".85"/>
<circle cx="399.7" cy="569.0" r=".85"/>
</g>
<g fill="#7a7a7a" fill-opacity="0.11">
<circle cx="384.7" cy="577.2" r=".85"/>
<circle cx="390.9" cy="582.9" r=".85"/>
<circle cx="386.3" cy="576.3" r=".85"/>
<circle cx="395.9" cy="581.1" r=".85"/>
<circle cx="399.1" cy="578.9" r=".85"/>
<circle cx="396.6" cy="580.1" r=".85"/>
<circle cx="388.2" cy="577.8" r=".85"/>
<circle cx="390.7" cy="582.8" r=".85"/>
<circle cx="388.9" cy="583.0" r=".85"/>
<circle cx="395.0" cy="579.6" r=".85"/>
<circle cx="389.9" cy="583.4" r=".85"/>
<circle cx="387.7" cy="580.6" r=".85"/>
<circle cx="384.7" cy="576.9" r=".85"/>
<circle cx="385.6" cy="580.0" r=".85"/>
<circle cx="394.4" cy="583.1" r=".85"/>
<circle cx="389.1" cy="581.9" r=".85"/>
<circle cx="397.1" cy="579.5" r=".85"/>
<circle cx="397.1" cy="579.1" r=".85"/>
<circle cx="383.9" cy="572.8" r=".85"/>
<circle cx="391.4" cy="584.2" r=".85"/>
<circle cx="397.6" cy="574.8" r=".85"/>
<circle cx="393.8" cy="581.4" r=".85"/>
<circle cx="393.5" cy="582.1" r=".85"/>
<circle cx="386.9" cy="575.9" r=".85"/>
<circle cx="396.4" cy="581.8" r=".85"/>
<circle cx="393.5" cy="583.5" r=".85"/>
<circle cx="397.1" cy="577.7" r=".85"/>
<circle cx="386.8" cy="575.8" r=".85"/>
<circle cx="390.1" cy="581.6" r=".85"/>
<circle cx="398.5" cy="578.1" r=".85"/>
<circle cx="388.7" cy="582.7" r=".85"/>
<circle cx="394.3" cy="581.7" r=".85"/>
<circle cx="393.6" cy="583.7" r=".85"/>
<circle cx="393.6" cy="582.5" r=".85"/>
<circle cx="389.0" cy="580.9" r=".85"/>
<circle cx="390.4" cy="583.3" r=".85"/>
<circle cx="393.6" cy="583.5" r=".85"/>
<circle cx="391.0" cy="582.6" r=".85"/>
<circle cx="392.0" cy="584.6" r=".85"/>
<circle cx="392.0" cy="584.8" r=".85"/>
<circle cx="393.8" cy="581.8" r=".85"/>
<circle cx="390.1" cy="582.5" r=".85"/>
<circle cx="386.7" cy="578.3" r=".85"/>
<circle cx="392.0" cy="584.6" r=".85"/>
<circle cx="395.9" cy="579.6" r=".85"/>
<circle cx="390.3" cy="581.4" r=".85"/>
<circle cx="385.6" cy="580.7" r=".85"/>
<circle cx="389.1" cy="581.9" r=".85"/>
<circle cx="386.0" cy="580.0" r=".85"/>
<circle cx="395.9" cy="579.1" r=".85"/>
<circle cx="387.9" cy="580.6" r=".85"/>
<circle cx="387.0" cy="581.5" r=".85"/>
<circle cx="386.1" cy="575.2" r=".85"/>
<circle cx="391.6" cy="584.4" r=".85"/>
<circle cx="390.6" cy="581.4" r=".85"/>
<circle cx="394.3" cy="581.2" r=".85"/>
<circle cx="388.6" cy="580.0" r=".85"/>
<circle cx="386.0" cy="574.7" r=".85"/>
<circle cx="390.2" cy="583.3" r=".85"/>
<circle cx="396.1" cy="578.2" r=".85"/>
<circle cx="395.1" cy="583.0" r=".85"/>
<circle cx="400.0" cy="577.0" r=".85"/>
<circle cx="390.1" cy="581.1" r=".85"/>
<circle cx="382.1" cy="570.4" r=".85"/>
<circle cx="392.0" cy="584.6" r=".85"/>
<circle cx="395.9" cy="581.7" r=".85"/>
<circle cx="389.8" cy="582.5" r=".85"/>
<circle cx="391.6" cy="584.4" r=".85"/>
<circle cx="391.9" cy="584.9" r=".85"/>
<circle cx="392.6" cy="583.7" r=".85"/>
<circle cx="390.6" cy="582.2" r=".85"/>
<circle cx="388.9" cy="578.5" r=".85"/>
<circle cx="400.5" cy="575.4" r=".85"/>
<circle cx="403.3" cy="568.2" r=".85"/>
<circle cx="383.9" cy="574.1" r=".85"/>
<circle cx="385.0" cy="571.1" r=".85"/>
<circle cx="397.3" cy="577.4" r=".85"/>
<circle cx="394.5" cy="580.7" r=".85"/>
<circle cx="394.3" cy="582.7" r=".85"/>
<circle cx="390.6" cy="584.3" r=".85"/>
<circle cx="384.8" cy="578.8" r=".85"/>
<circle cx="388.9" cy="582.8" r=".85"/>
<circle cx="405.6" cy="571.4" r=".85"/>
<circle cx="392.0" cy="584.4" r=".85"/>
<circle cx="383.8" cy="569.8" r=".85"/>
<circle cx="385.9" cy="581.2" r=".85"/>
<circle cx="395.1" cy="579.5" r=".85"/>
<circle cx="392.7" cy="583.7" r=".85"/>
<circle cx="393.9" cy="581.6" r=".85"/>
<circle cx="394.0" cy="581.5" r=".85"/>
<circle cx="385.6" cy="572.7" r=".85"/>
<circle cx="397.2" cy="578.5" r=".85"/>
<circle cx="388.5" cy="579.5" r=".85"/>
<circle cx="383.1" cy="565.6" r=".85"/>
<circle cx="385.3" cy="580.4" r=".85"/>
<circle cx="395.6" cy="579.1" r=".85"/>
<circle cx="396.1" cy="579.3" r=".85"/>
<circle cx="393.1" cy="583.9" r=".85"/>
<circle cx="397.3" cy="580.5" r=".85"/>
<circle cx="388.7" cy="578.9" r=".85"/>
<circle cx="393.3" cy="582.6" r=".85"/>
<circle cx="398.4" cy="578.9" r=".85"/>
<circle cx="387.7" cy="579.7" r=".85"/>
<circle cx="379.0" cy="564.1" r=".85"/>
<circle cx="392.2" cy="584.4" r=".85"/>
<circle cx="388.9" cy="582.5" r=".85"/>
<circle cx="390.4" cy="583.7" r=".85"/>
<circle cx="392.0" cy="584.9" r=".85"/>
<circle cx="390.8" cy="582.8" r=".85"/>
<circle cx="392.5" cy="584.1" r=".85"/>
<circle cx="386.6" cy="580.2" r=".85"/>
<circle cx="384.9" cy="576.5" r=".85"/>
<circle cx="388.5" cy="578.7" r=".85"/>
<circle cx="391.3" cy="584.3" r=".85"/>
<circle cx="391.8" cy="584.5" r=".85"/>
<circle cx="393.2" cy="582.8" r=".85"/>
<circle cx="394.4" cy="581.5" r=".85"/>
<circle cx="391.8" cy="584.4" r=".85"/>
<circle cx="388.9" cy="583.2" r=".85"/>
<circle cx="396.4" cy="579.6" r=".85"/>
<circle cx="398.4" cy="575.0" r=".85"/>
<circle cx="395.7" cy="582.2" r=".85"/>
<circle cx="387.5" cy="580.6" r=".85"/>
<circle cx="387.5" cy="579.9" r=".85"/>
<circle cx="391.3" cy="584.0" r=".85"/>
<circle cx="389.4" cy="581.1" r=".85"/>
<circle cx="385.5" cy="577.5" r=".85"/>
<circle cx="392.8" cy="584.0" r=".85"/>
<circle cx="389.7" cy="581.6" r=".85"/>
<circle cx="387.3" cy="577.8" r=".85"/>
<circle cx="390.2" cy="583.9" r=".85"/>
<circle cx="397.7" cy="580.4" r=".85"/>
<circle cx="394.1" cy="583.2" r=".85"/>
<circle cx="398.7" cy="577.2" r=".85"/>
<circle cx="390.7" cy="582.8" r=".85"/>
<circle cx="396.8" cy="581.3" r=".85"/>
<circle cx="389.7" cy="581.6" r=".85"/>
<circle cx="396.3" cy="576.8" r=".85"/>
<circle cx="382.6" cy="576.3" r=".85"/>
<circle cx="391.5" cy="584.1" r=".85"/>
<circle cx="397.9" cy="578.2" r=".85"/>
<circle cx="402.5" cy="575.0" r=".85"/>
<circle cx="398.2" cy="581.2" r=".85"/>
<circle cx="397.6" cy="576.8" r=".85"/>
<circle cx="387.2" cy="580.8" r=".85"/>
<circle cx="388.8" cy="578.9" r=".85"/>
<circle cx="386.9" cy="580.9" r=".85"/>
<circle cx="393.3" cy="582.5" r=".85"/>
<circle cx="395.5" cy="580.5" r=".85"/>
<circle cx="387.2" cy="579.7" r=".85"/>
<circle cx="394.4" cy="580.8" r=".85"/>
<circle cx="393.8" cy="583.6" r=".85"/>
<circle cx="390.3" cy="583.3" r=".85"/>
<circle cx="390.6" cy="581.9" r=".85"/>
<circle cx="386.7" cy="577.4" r=".85"/>
<circle cx="388.5" cy="580.2" r=".85"/>
<circle cx="391.2" cy="583.4" r=".85"/>
<circle cx="385.7" cy="579.6" r=".85"/>
<circle cx="386.2" cy="578.3" r=".85"/>
<circle cx="387.2" cy="578.4" r=".85"/>
<circle cx="396.3" cy="577.2" r=".85"/>
<circle cx="395.9" cy="577.9" r=".85"/>
<circle cx="393.0" cy="583.1" r=".85"/>
<circle cx="391.0" cy="583.1" r=".85"/>
<circle cx="387.9" cy="581.5" r=".85"/>
<circle cx="390.7" cy="583.5" r=".85"/>
<circle cx="392.6" cy="583.5" r=".85"/>
<circle cx="392.1" cy="584.6" r=".85"/>
<circle cx="392.4" cy="584.1" r=".85"/>
<circle cx="389.1" cy="579.0" r=".85"/>
<circle cx="388.0" cy="580.3" r=".85"/>
<circle cx="394.9" cy="582.0" r=".85"/>
<circle cx="396.7" cy="577.3" r=".85"/>
<circle cx="395.2" cy="579.2" r=".85"/>
<circle cx="385.3" cy="571.3" r=".85"/>
<circle cx="395.7" cy="579.5" r=".85"/>
<circle cx="395.6" cy="578.9" r=".85"/>
<circle cx="394.7" cy="583.1" r=".85"/>
<circle cx="392.6" cy="584.3" r=".85"/>
<circle cx="393.6" cy="582.4" r=".85"/>
<circle cx="390.3" cy="582.1" r=".85"/>
<circle cx="400.4" cy="575.3" r=".85"/>
<circle cx="395.3" cy="581.3" r=".85"/>
<circle cx="396.4" cy="578.4" r=".85"/>
<circle cx="392.7" cy="584.1" r=".85"/>
<circle cx="395.2" cy="582.3" r=".85"/>
<circle cx="389.0" cy="583.1" r=".85"/>
<circle cx="392.3" cy="584.2" r=".85"/>
<circle cx="399.7" cy="576.7" r=".85"/>
<circle cx="395.8" cy="582.7" r=".85"/>
<circle cx="388.9" cy="578.8" r=".85"/>
<circle cx="397.2" cy="581.7" r=".85"/>
<circle cx="391.5" cy="584.1" r=".85"/>
<circle cx="394.0" cy="581.7" r=".85"/>
<circle cx="390.7" cy="583.8" r=".85"/>
<circle cx="397.5" cy="575.9" r=".85"/>
<circle cx="396.7" cy="577.1" r=".85"/>
<circle cx="396.1" cy="581.7" r=".85"/>
<circle cx="395.3" cy="581.0" r=".85"/>
<circle cx="401.4" cy="570.4" r=".85"/>
<circle cx="387.6" cy="576.1" r=".85"/>
<circle cx="392.4" cy="584.0" r=".85"/>
<circle cx="392.4" cy="583.9" r=".85"/>
<circle cx="392.6" cy="583.5" r=".85"/>
<circle cx="378.3" cy="561.4" r=".85"/>
<circle cx="400.2" cy="576.1" r=".85"/>
<circle cx="387.9" cy="578.9" r=".85"/>
<circle cx="395.9" cy="578.5" r=".85"/>
<circle cx="390.1" cy="582.3" r=".85"/>
<circle cx="397.6" cy="581.6" r=".85"/>
<circle cx="393.1" cy="583.0" r=".85"/>
<circle cx="392.3" cy="584.2" r=".85"/>
<circle cx="401.7" cy="572.4" r=".85"/>
<circle cx="384.1" cy="578.1" r=".85"/>
<circle cx="397.9" cy="577.0" r=".85"/>
<circle cx="395.0" cy="582.5" r=".85"/>
<circle cx="381.1" cy="571.8" r=".85"/>
<circle cx="398.6" cy="574.4" r=".85"/>
<circle cx="387.6" cy="575.8" r=".85"/>
<circle cx="391.8" cy="584.2" r=".85"/>
<circle cx="394.3" cy="580.7" r=".85"/>
<circle cx="391.3" cy="584.0" r=".85"/>
<circle cx="401.0" cy="574.9" r=".85"/>
<circle cx="398.0" cy="576.7" r=".85"/>
<circle cx="390.9" cy="583.2" r=".85"/>
<circle cx="381.6" cy="566.8" r=".85"/>
<circle cx="385.4" cy="575.3" r=".85"/>
<circle cx="392.4" cy="584.2" r=".85"/>
<circle cx="394.7" cy="579.8" r=".85"/>
<circle cx="400.3" cy="572.5" r=".85"/>
<circle cx="386.2" cy="576.7" r=".85"/>
<circle cx="389.0" cy="578.2" r=".85"/>
<circle cx="398.4" cy="574.2" r=".85"/>
<circle cx="392.2" cy="584.2" r=".85"/>
<circle cx="386.3" cy="580.8" r=".85"/>
<circle cx="393.9" cy="583.1" r=".85"/>
<circle cx="383.5" cy="575.6" r=".85"/>
<circle cx="385.7" cy="579.3" r=".85"/>
<circle cx="386.8" cy="580.2" r=".85"/>
<circle cx="386.2" cy="574.0" r=".85"/>
<circle cx="387.4" cy="576.7" r=".85"/>
<circle cx="393.2" cy="583.0" r=".85"/>
<circle cx="391.0" cy="582.7" r=".85"/>
<circle cx="379.3" cy="576.1" r=".85"/>
<circle cx="394.4" cy="581.1" r=".85"/>
<circle cx="391.9" cy="584.7" r=".85"/>
<circle cx="394.5" cy="582.3" r=".85"/>
<circle cx="397.2" cy="577.9" r=".85"/>
<circle cx="395.4" cy="580.3" r=".85"/>
<circle cx="397.1" cy="579.8" r=".85"/>
<circle cx="396.9" cy="578.4" r=".85"/>
<circle cx="392.4" cy="584.1" r=".85"/>
<circle cx="394.4" cy="580.9" r=".85"/>
<circle cx="398.0" cy="575.6" r=".85"/>
<circle cx="390.2" cy="583.2" r=".85"/>
<circle cx="394.2" cy="581.5" r=".85"/>
<circle cx="395.0" cy="582.6" r=".85"/>
<circle cx="394.6" cy="583.2" r=".85"/>
<circle cx="392.4" cy="584.1" r=".85"/>
<circle cx="396.2" cy="578.4" r=".85"/>
<circle cx="392.5" cy="583.8" r=".85"/>
<circle cx="393.6" cy="583.5" r=".85"/>
<circle cx="391.1" cy="584.0" r=".85"/>
<circle cx="388.8" cy="578.2" r=".85"/>
<circle cx="391.6" cy="583.7" r=".85"/>
<circle cx="396.5" cy="582.1" r=".85"/>
<circle cx="395.2" cy="581.1" r=".85"/>
<circle cx="393.4" cy="582.0" r=".85"/>
<circle cx="383.0" cy="579.7" r=".85"/>
<circle cx="398.4" cy="575.1" r=".85"/>
<circle cx="395.3" cy="579.4" r=".85"/>
<circle cx="394.3" cy="580.7" r=".85"/>
<circle cx="395.6" cy="581.1" r=".85"/>
<circle cx="388.2" cy="582.6" r=".85"/>
<circle cx="390.0" cy="582.9" r=".85"/>
<circle cx="391.2" cy="583.4" r=".85"/>
<circle cx="389.7" cy="581.1" r=".85"/>
<circle cx="388.3" cy="581.4" r=".85"/>
<circle cx="397.0" cy="577.3" r=".85"/>
<circle cx="386.0" cy="575.2" r=".85"/>
<circle cx="383.5" cy="572.0" r=".85"/>
<circle cx="389.5" cy="580.3" r=".85"/>
<circle cx="394.1" cy="582.9" r=".85"/>
<circle cx="389.6" cy="581.7" r=".85"/>
<circle cx="389.4" cy="583.0" r=".85"/>
<circle cx="393.1" cy="583.4" r=".85"/>
<circle cx="383.7" cy="577.1" r=".85"/>
<circle cx="395.9" cy="580.1" r=".85"/>
<circle cx="392.0" cy="584.8" r=".85"/>
<circle cx="399.2" cy="574.6" r=".85"/>
<circle cx="384.2" cy="567.3" r=".85"/>
<circle cx="399.6" cy="580.0" r=".85"/>
<circle cx="402.3" cy="568.9" r=".85"/>
<circle cx="386.8" cy="577.8" r=".85"/>
<circle cx="397.4" cy="577.4" r=".85"/>
<circle cx="388.0" cy="578.8" r=".85"/>
<circle cx="392.1" cy="584.7" r=".85"/>
<circle cx="399.8" cy="576.0" r=".85"/>
<circle cx="393.6" cy="581.9" r=".85"/>
<circle cx="383.2" cy="569.9" r=".85"/>
<circle cx="384.5" cy="579.6" r=".85"/>
<circle cx="391.5" cy="583.7" r=".85"/>
<circle cx="402.3" cy="573.8" r=".85"/>
<circle cx="387.8" cy="581.8" r=".85"/>
<circle cx="390.4" cy="582.8" r=".85"/>
<circle cx="392.5" cy="584.4" r=".85"/>
<circle cx="389.1" cy="581.8" r=".85"/>
<circle cx="387.1" cy="578.3" r=".85"/>
<circle cx="391.6" cy="583.8" r=".85"/>
<circle cx="387.0" cy="581.5" r=".85"/>
<circle cx="392.0" cy="584.3" r=".85"/>
<circle cx="395.8" cy="579.4" r=".85"/>
<circle cx="396.8" cy="580.3" r=".85"/>
<circle cx="391.5" cy="583.7" r=".85"/>
<circle cx="383.8" cy="570.1" r=".85"/>
<circle cx="389.6" cy="583.2" r=".85"/>
<circle cx="393.4" cy="583.1" r=".85"/>
<circle cx="391.0" cy="583.6" r=".85"/>
<circle cx="399.5" cy="579.9" r=".85"/>
<circle cx="397.8" cy="579.1" r=".85"/>
<circle cx="395.3" cy="581.1" r=".85"/>
<circle cx="407.7" cy="572.0" r=".85"/>
<circle cx="392.6" cy="583.7" r=".85"/>
<circle cx="384.0" cy="574.9" r=".85"/>
<circle cx="394.9" cy="580.8" r=".85"/>
<circle cx="387.2" cy="581.1" r=".85"/>
<circle cx="393.6" cy="582.3" r=".85"/>
<circle cx="395.7" cy="579.6" r=".85"/>
<circle cx="392.8" cy="583.9" r=".85"/>
<circle cx="386.9" cy="576.1" r=".85"/>
<circle cx="391.8" cy="584.5" r=".85"/>
<circle cx="394.9" cy="582.6" r=".85"/>
<circle cx="384.6" cy="569.5" r=".85"/>
<circle cx="383.9" cy="569.0" r=".85"/>
<circle cx="383.1" cy="575.7" r=".85"/>
<circle cx="376.2" cy="561.4" r=".85"/>
<circle cx="389.1" cy="579.5" r=".85"/>
<circle cx="397.3" cy="579.8" r=".85"/>
<circle cx="393.5" cy="582.9" r=".85"/>
<circle cx="393.3" cy="582.9" r=".85"/>
<circle cx="389.6" cy="582.9" r=".85"/>
<circle cx="387.8" cy="577.9" r=".85"/>
<circle cx="387.3" cy="579.5" r=".85"/>
<circle cx="383.9" cy="576.2" r=".85"/>
<circle cx="394.6" cy="581.5" r=".85"/>
<circle cx="390.4" cy="582.9" r=".85"/>
<circle cx="394.9" cy="579.9" r=".85"/>
<circle cx="389.1" cy="580.8" r=".85"/>
<circle cx="392.0" cy="584.4" r=".85"/>
<circle cx="383.2" cy="573.6" r=".85"/>
<circle cx="393.5" cy="582.8" r=".85"/>
<circle cx="393.3" cy="583.2" r=".85"/>
<circle cx="386.3" cy="578.0" r=".85"/>
<circle cx="392.9" cy="583.2" r=".85"/>
<circle cx="389.2" cy="580.3" r=".85"/>
<circle cx="388.8" cy="578.2" r=".85"/>
<circle cx="387.1" cy="578.8" r=".85"/>
<circle cx="394.9" cy="579.7" r=".85"/>
<circle cx="405.7" cy="563.6" r=".85"/>
<circle cx="387.3" cy="578.1" r=".85"/>
<circle cx="392.4" cy="584.6" r=".85"/>
<circle cx="395.9" cy="578.9" r=".85"/>
<circle cx="394.9" cy="581.9" r=".85"/>
<circle cx="402.4" cy="574.2" r=".85"/>
<circle cx="387.8" cy="580.5" r=".85"/>
<circle cx="388.5" cy="580.2" r=".85"/>
<circle cx="396.6" cy="577.3" r=".85"/>
<circle cx="394.8" cy="579.6" r=".85"/>
<circle cx="385.8" cy="576.0" r=".85"/>
<circle cx="388.3" cy="582.3" r=".85"/>
<circle cx="393.4" cy="583.1" r=".85"/>
<circle cx="392.6" cy="584.2" r=".85"/>
<circle cx="392.4" cy="584.2" r=".85"/>
<circle cx="394.1" cy="581.2" r=".85"/>
<circle cx="399.1" cy="573.8" r=".85"/>
<circle cx="396.0" cy="578.0" r=".85"/>
<circle cx="399.5" cy="573.1" r=".85"/>
<circle cx="396.9" cy="576.1" r=".85"/>
<circle cx="390.4" cy="582.7" r=".85"/>
<circle cx="381.5" cy="563.3" r=".85"/>
<circle cx="392.6" cy="583.9" r=".85"/>
<circle cx="397.2" cy="578.6" r=".85"/>
<circle cx="390.2" cy="582.2" r=".85"/>
<circle cx="395.1" cy="582.1" r=".85"/>
<circle cx="394.1" cy="582.2" r=".85"/>
<circle cx="388.6" cy="582.4" r=".85"/>
<circle cx="397.3" cy="579.4" r=".85"/>
<circle cx="396.6" cy="579.5" r=".85"/>
<circle cx="388.9" cy="583.3" r=".85"/>
<circle cx="389.5" cy="580.8" r=".85"/>
<circle cx="391.8" cy="584.2" r=".85"/>
<circle cx="384.7" cy="573.5" r=".85"/>
<circle cx="392.2" cy="584.5" r=".85"/>
<circle cx="392.7" cy="583.6" r=".85"/>
<circle cx="394.6" cy="582.1" r=".85"/>
<circle cx="394.7" cy="580.6" r=".85"/>
<circle cx="392.3" cy="584.4" r=".85"/>
<circle cx="384.2" cy="569.5" r=".85"/>
<circle cx="400.4" cy="574.0" r=".85"/>
<circle cx="390.4" cy="582.0" r=".85"/>
<circle cx="400.9" cy="570.0" r=".85"/>
<circle cx="390.0" cy="582.0" r=".85"/>
<circle cx="400.1" cy="577.6" r=".85"/>
<circle cx="388.7" cy="579.2" r=".85"/>
<circle cx="395.9" cy="578.5" r=".85"/>
<circle cx="394.9" cy="582.2" r=".85"/>
<circle cx="386.5" cy="577.9" r=".85"/>
<circle cx="395.5" cy="581.4" r=".85"/>
<circle cx="390.6" cy="582.4" r=".85"/>
<circle cx="383.9" cy="576.4" r=".85"/>
<circle cx="385.7" cy="571.5" r=".85"/>
<circle cx="388.0" cy="582.6" r=".85"/>
<circle cx="386.6" cy="576.2" r=".85"/>
<circle cx="393.3" cy="583.8" r=".85"/>
<circle cx="398.2" cy="575.0" r=".85"/>
<circle cx="387.0" cy="579.6" r=".85"/>
<circle cx="394.3" cy="583.0" r=".85"/>
<circle cx="394.5" cy="581.8" r=".85"/>
<circle cx="395.2" cy="581.7" r=".85"/>
<circle cx="386.4" cy="573.7" r=".85"/>
</g>
<line x1="296.20" y1="466.30" x2="296.20" y2="590.30" stroke="#333" stroke-width="1.1" />
<line x1="296.20" y1="590.30" x2="512.10" y2="590.30" stroke="#333" stroke-width="1.1" />
<line x1="293.60" y1="585.00" x2="296.20" y2="585.00" stroke="#333" stroke-width="0.9" />
<text x="290.20" y="587.50" font-size="7.2" fill="#333" stroke="#333" stroke-width="0.1" text-anchor="end" >0</text>
<line x1="293.60" y1="546.40" x2="296.20" y2="546.40" stroke="#333" stroke-width="0.9" />
<text x="290.20" y="548.90" font-size="7.2" fill="#333" stroke="#333" stroke-width="0.1" text-anchor="end" >1</text>
<line x1="293.60" y1="507.80" x2="296.20" y2="507.80" stroke="#333" stroke-width="0.9" />
<text x="290.20" y="510.30" font-size="7.2" fill="#333" stroke="#333" stroke-width="0.1" text-anchor="end" >2</text>
<line x1="293.60" y1="469.20" x2="296.20" y2="469.20" stroke="#333" stroke-width="0.9" />
<text x="290.20" y="471.70" font-size="7.2" fill="#333" stroke="#333" stroke-width="0.1" text-anchor="end" >3</text>
<line x1="355.82" y1="590.30" x2="355.82" y2="592.70" stroke="#333" stroke-width="0.9" />
<text x="355.82" y="602.30" font-size="7.3" fill="#222" stroke="#222" stroke-width="0.1" text-anchor="middle" >0.85</text>
<line x1="391.90" y1="590.30" x2="391.90" y2="592.70" stroke="#333" stroke-width="0.9" />
<text x="391.90" y="602.30" font-size="7.3" fill="#222" stroke="#222" stroke-width="0.1" text-anchor="middle" >1</text>
<line x1="432.38" y1="590.30" x2="432.38" y2="592.70" stroke="#333" stroke-width="0.9" />
<text x="432.38" y="602.30" font-size="7.3" fill="#222" stroke="#222" stroke-width="0.1" text-anchor="middle" >1.2</text>
<line x1="450.14" y1="590.30" x2="450.14" y2="592.70" stroke="#333" stroke-width="0.9" />
<text x="450.14" y="602.30" font-size="7.3" fill="#222" stroke="#222" stroke-width="0.1" text-anchor="middle" >1.3</text>
<line x1="481.91" y1="590.30" x2="481.91" y2="592.70" stroke="#333" stroke-width="0.9" />
<text x="481.91" y="602.30" font-size="7.3" fill="#222" stroke="#222" stroke-width="0.1" text-anchor="middle" >1.5</text>
<text x="276.20" y="530.00" font-size="7.4" fill="#222" text-anchor="middle" textLength="37.20" lengthAdjust="spacingAndGlyphs" transform="rotate(-90 276.20 530.00)" stroke="#222" stroke-width="0.15">-log10 (FDR)</text>
<circle cx="300.5" cy="461.30" r="1.3" fill="#1c2a66"/>
<text x="305.00" y="463.80" font-size="6.7" fill="#333" stroke="#333" stroke-width="0.1" >BMP signals</text>
<circle cx="300.5" cy="470.60" r="1.3" fill="#9a4a88"/>
<text x="305.00" y="473.10" font-size="6.7" fill="#333" stroke="#333" stroke-width="0.1" >Erythropoiesis</text>
<circle cx="300.5" cy="479.90" r="1.3" fill="#b02030"/>
<text x="305.00" y="482.40" font-size="6.7" fill="#333" stroke="#333" stroke-width="0.1" >High-risk CV biomarkers</text>
<circle cx="300.5" cy="489.20" r="1.3" fill="#6e3494"/>
<text x="305.00" y="491.70" font-size="6.7" fill="#333" stroke="#333" stroke-width="0.1" >Inhibitory immune markers</text>
<text x="296.80" y="615.50" font-size="8.6" fill="#222" textLength="216.50" lengthAdjust="spacingAndGlyphs" stroke="#222" stroke-width="0.15">Fold change (BL anemia vs No BL anemia) among patients with CH mutations</text>
<text x="227.40" y="271.50" font-size="4.1" fill="#2e2e9e" textLength="11.20" lengthAdjust="spacingAndGlyphs" fill-opacity="0.8">IGFBP2</text>
<text x="207.80" y="276.80" font-size="4.1" fill="#2e2e9e" textLength="11.20" lengthAdjust="spacingAndGlyphs" fill-opacity="0.8">IGFBP1</text>
<text x="190.40" y="309.20" font-size="4.1" fill="#2e2e9e" textLength="11.50" lengthAdjust="spacingAndGlyphs" fill-opacity="0.8">IGFBP2</text>
<text x="175.40" y="310.70" font-size="4.1" fill="#2e2e9e" textLength="12.10" lengthAdjust="spacingAndGlyphs" fill-opacity="0.8">IGFBP3</text>
<text x="152.90" y="320.70" font-size="4.1" fill="#2e2e9e" textLength="15.90" lengthAdjust="spacingAndGlyphs" fill-opacity="0.8">TNFRSF1B</text>
<text x="172.00" y="319.80" font-size="4.1" fill="#2e2e9e" textLength="10.70" lengthAdjust="spacingAndGlyphs" fill-opacity="0.8">FSTL3</text>
<text x="155.40" y="326.10" font-size="4.1" fill="#2e2e9e" textLength="7.10" lengthAdjust="spacingAndGlyphs" fill-opacity="0.8">IL2A</text>
<text x="177.00" y="325.50" font-size="4.1" fill="#2e2e9e" textLength="7.60" lengthAdjust="spacingAndGlyphs" fill-opacity="0.8">FGB</text>
<text x="163.00" y="329.40" font-size="4.1" fill="#2e2e9e" textLength="17.00" lengthAdjust="spacingAndGlyphs" fill-opacity="0.8">TNFRSF1B</text>
<text x="182.00" y="329.40" font-size="4.1" fill="#2e2e9e" textLength="10.00" lengthAdjust="spacingAndGlyphs" fill-opacity="0.8">MBL1</text>
<text x="143.30" y="331.90" font-size="4.1" fill="#2e2e9e" textLength="17.30" lengthAdjust="spacingAndGlyphs" fill-opacity="0.8">TNFRSF21</text>
<text x="202.00" y="331.30" font-size="4.1" fill="#2e2e9e" textLength="13.00" lengthAdjust="spacingAndGlyphs" fill-opacity="0.8">RNASE1</text>
<text x="163.00" y="334.20" font-size="4.1" fill="#2e2e9e" textLength="14.00" lengthAdjust="spacingAndGlyphs" fill-opacity="0.8">HAVCR2</text>
<text x="179.00" y="334.20" font-size="4.1" fill="#2e2e9e" textLength="13.00" lengthAdjust="spacingAndGlyphs" fill-opacity="0.8">REG1A</text>
<text x="151.00" y="337.10" font-size="4.1" fill="#2e2e9e" textLength="10.50" lengthAdjust="spacingAndGlyphs" fill-opacity="0.8">EPHB2</text>
<text x="172.00" y="338.50" font-size="4.1" fill="#2e2e9e" textLength="14.00" lengthAdjust="spacingAndGlyphs" fill-opacity="0.8">RNASE6</text>
<text x="151.30" y="342.10" font-size="4.1" fill="#2e2e9e" textLength="19.30" lengthAdjust="spacingAndGlyphs" fill-opacity="0.8">SPON2 PTN</text>
<text x="126.30" y="345.90" font-size="4.1" fill="#2e2e9e" textLength="30.80" lengthAdjust="spacingAndGlyphs" fill-opacity="0.8">TNFRSF1B CCL13</text>
<text x="165.80" y="346.50" font-size="4.1" fill="#2e2e9e" textLength="16.90" lengthAdjust="spacingAndGlyphs" fill-opacity="0.8">TNFRSF21</text>
<text x="135.00" y="350.70" font-size="4.1" fill="#2e2e9e" textLength="12.50" lengthAdjust="spacingAndGlyphs" fill-opacity="0.8">CD300E</text>
<text x="152.30" y="350.70" font-size="4.1" fill="#2e2e9e" textLength="25.00" lengthAdjust="spacingAndGlyphs" fill-opacity="0.8">TIMP4 ADIPOQ</text>
<text x="130.20" y="355.20" font-size="4.1" fill="#2e2e9e" textLength="20.20" lengthAdjust="spacingAndGlyphs" fill-opacity="0.8">DLL1 CCL18</text>
<text x="154.00" y="356.90" font-size="4.1" fill="#2e2e9e" textLength="7.00" lengthAdjust="spacingAndGlyphs" fill-opacity="0.8">FGB</text>
<text x="165.80" y="356.50" font-size="4.1" fill="#2e2e9e" textLength="6.20" lengthAdjust="spacingAndGlyphs" fill-opacity="0.8">PI3</text>
<text x="173.50" y="355.50" font-size="4.1" fill="#2e2e9e" textLength="9.50" lengthAdjust="spacingAndGlyphs" fill-opacity="0.8">AGER</text>
<text x="138.50" y="360.00" font-size="4.1" fill="#2e2e9e" textLength="11.50" lengthAdjust="spacingAndGlyphs" fill-opacity="0.8">SVEP1</text>
<text x="131.00" y="361.90" font-size="4.1" fill="#2e2e9e" textLength="6.00" lengthAdjust="spacingAndGlyphs" fill-opacity="0.8">TNC</text>
<text x="147.50" y="362.30" font-size="4.1" fill="#2e2e9e" textLength="7.50" lengthAdjust="spacingAndGlyphs" fill-opacity="0.8">TFRC</text>
<text x="159.00" y="361.30" font-size="4.1" fill="#2e2e9e" textLength="10.60" lengthAdjust="spacingAndGlyphs" fill-opacity="0.8">SVEP1</text>
<text x="172.50" y="363.80" font-size="4.1" fill="#2e2e9e" textLength="5.80" lengthAdjust="spacingAndGlyphs" fill-opacity="0.8">CA3</text>
<text x="133.00" y="365.70" font-size="4.1" fill="#2e2e9e" textLength="7.00" lengthAdjust="spacingAndGlyphs" fill-opacity="0.8">DLL1</text>
<text x="157.00" y="367.10" font-size="4.1" fill="#2e2e9e" textLength="19.30" lengthAdjust="spacingAndGlyphs" fill-opacity="0.8">EPO ASGN</text>
<text x="135.00" y="369.50" font-size="4.1" fill="#2e2e9e" textLength="15.40" lengthAdjust="spacingAndGlyphs" fill-opacity="0.8">TNFRSF1A</text>
<text x="486.60" y="271.50" font-size="4.1" fill="#e0301c" textLength="12.20" lengthAdjust="spacingAndGlyphs" fill-opacity="1">IGFBP2</text>
<text x="467.00" y="276.20" font-size="4.1" fill="#e0301c" textLength="12.70" lengthAdjust="spacingAndGlyphs" fill-opacity="1">IGFBP1</text>
<text x="442.50" y="312.75" font-size="4.1" fill="#e0301c" textLength="13.00" lengthAdjust="spacingAndGlyphs" fill-opacity="1">IGFBP2</text>
<text x="423.75" y="321.00" font-size="4.1" fill="#8a44b0" textLength="17.50" lengthAdjust="spacingAndGlyphs" fill-opacity="0.8">TNFRSF1A</text>
<text x="402.50" y="324.00" font-size="4.1" fill="#26368e" textLength="13.75" lengthAdjust="spacingAndGlyphs" fill-opacity="0.8">CHRDL1</text>
<text x="495.00" y="323.25" font-size="4.1" fill="#e0301c" textLength="9.50" lengthAdjust="spacingAndGlyphs" fill-opacity="1">MMP9</text>
<text x="447.50" y="326.50" font-size="4.1" fill="#e0301c" textLength="10.50" lengthAdjust="spacingAndGlyphs" fill-opacity="1">GDF15</text>
<text x="418.75" y="327.75" font-size="4.1" fill="#8a44b0" textLength="18.75" lengthAdjust="spacingAndGlyphs" fill-opacity="0.8">TNFRSF1B</text>
<text x="440.00" y="330.75" font-size="4.1" fill="#8a44b0" textLength="8.00" lengthAdjust="spacingAndGlyphs" fill-opacity="0.8">MBL1</text>
<text x="404.50" y="334.75" font-size="4.1" fill="#8a44b0" textLength="9.25" lengthAdjust="spacingAndGlyphs" fill-opacity="0.8">CD30</text>
<text x="416.25" y="336.00" font-size="4.1" fill="#8a44b0" textLength="10.75" lengthAdjust="spacingAndGlyphs" fill-opacity="0.8">EPHA2</text>
<text x="429.50" y="334.50" font-size="4.1" fill="#8a44b0" textLength="13.00" lengthAdjust="spacingAndGlyphs" fill-opacity="0.8">HAVCR2</text>
<text x="416.25" y="341.00" font-size="4.1" fill="#8a44b0" textLength="13.25" lengthAdjust="spacingAndGlyphs" fill-opacity="0.8">CD200A</text>
<text x="399.50" y="346.00" font-size="4.1" fill="#8a44b0" textLength="17.50" lengthAdjust="spacingAndGlyphs" fill-opacity="0.8">TNFRSF1B</text>
<text x="399.50" y="366.50" font-size="4.1" fill="#c8448c" textLength="10.50" lengthAdjust="spacingAndGlyphs" fill-opacity="0.8">PSTN</text>
<text x="414.50" y="364.50" font-size="4.1" fill="#c8448c" textLength="7.50" lengthAdjust="spacingAndGlyphs" fill-opacity="0.8">EPO</text>
<text x="423.00" y="366.00" font-size="4.1" fill="#8a44b0" textLength="9.00" lengthAdjust="spacingAndGlyphs" fill-opacity="0.8">MBL2</text>
<text x="350.50" y="354.00" font-size="4.1" fill="#26368e" textLength="9.50" lengthAdjust="spacingAndGlyphs" fill-opacity="0.8">BMP1</text>
<text x="179.70" y="473.00" font-size="4.1" fill="#2e2e9e" textLength="13.30" lengthAdjust="spacingAndGlyphs" fill-opacity="0.8">CD300E</text>
<text x="183.40" y="484.60" font-size="4.1" fill="#2e2e9e" textLength="8.60" lengthAdjust="spacingAndGlyphs" fill-opacity="0.8">FGB</text>
<text x="194.30" y="484.50" font-size="4.1" fill="#2e2e9e" textLength="8.50" lengthAdjust="spacingAndGlyphs" fill-opacity="0.8">SYAC</text>
<text x="223.00" y="484.50" font-size="4.1" fill="#2e2e9e" textLength="8.00" lengthAdjust="spacingAndGlyphs" fill-opacity="0.8">EPO</text>
<text x="234.20" y="489.70" font-size="4.1" fill="#2e2e9e" textLength="7.40" lengthAdjust="spacingAndGlyphs" fill-opacity="0.8">FGL1</text>
<text x="150.40" y="489.70" font-size="4.1" fill="#2e2e9e" textLength="30.60" lengthAdjust="spacingAndGlyphs" fill-opacity="0.8">SPON2 TNFRSF1A</text>
<text x="185.70" y="491.10" font-size="4.1" fill="#2e2e9e" textLength="23.10" lengthAdjust="spacingAndGlyphs" fill-opacity="0.8">HAVCR2 IGFBP2</text>
<text x="209.30" y="492.00" font-size="4.1" fill="#2e2e9e" textLength="10.40" lengthAdjust="spacingAndGlyphs" fill-opacity="0.8">IGFBP1</text>
<text x="162.00" y="493.80" font-size="4.1" fill="#2e2e9e" textLength="8.00" lengthAdjust="spacingAndGlyphs" fill-opacity="0.8">DLL1</text>
<text x="186.00" y="495.50" font-size="4.1" fill="#2e2e9e" textLength="21.00" lengthAdjust="spacingAndGlyphs" fill-opacity="0.8">IGFBP3 MBL1</text>
<text x="215.00" y="496.60" font-size="4.1" fill="#2e2e9e" textLength="12.80" lengthAdjust="spacingAndGlyphs" fill-opacity="0.8">RNASE1</text>
<text x="167.30" y="498.00" font-size="4.1" fill="#2e2e9e" textLength="12.00" lengthAdjust="spacingAndGlyphs" fill-opacity="0.8">AIFOC2</text>
<text x="181.60" y="499.50" font-size="4.1" fill="#2e2e9e" textLength="18.00" lengthAdjust="spacingAndGlyphs" fill-opacity="0.8">TNFRSF1B</text>
<text x="147.00" y="501.20" font-size="4.1" fill="#2e2e9e" textLength="13.80" lengthAdjust="spacingAndGlyphs" fill-opacity="0.8">TNFRSF1B</text>
<text x="170.00" y="501.50" font-size="4.1" fill="#2e2e9e" textLength="7.00" lengthAdjust="spacingAndGlyphs" fill-opacity="0.8">CRP</text>
<text x="205.80" y="501.20" font-size="4.1" fill="#2e2e9e" textLength="12.70" lengthAdjust="spacingAndGlyphs" fill-opacity="0.8">CXCL11</text>
<text x="189.70" y="504.20" font-size="4.1" fill="#2e2e9e" textLength="14.50" lengthAdjust="spacingAndGlyphs" fill-opacity="0.8">RNASE6</text>
<text x="177.00" y="504.70" font-size="4.1" fill="#2e2e9e" textLength="11.50" lengthAdjust="spacingAndGlyphs" fill-opacity="0.8">FSTL3</text>
<text x="163.00" y="506.50" font-size="4.1" fill="#2e2e9e" textLength="8.90" lengthAdjust="spacingAndGlyphs" fill-opacity="0.8">IL1M</text>
<text x="197.70" y="508.80" font-size="4.1" fill="#2e2e9e" textLength="9.30" lengthAdjust="spacingAndGlyphs" fill-opacity="0.8">SVEP1</text>
<text x="180.40" y="508.50" font-size="4.1" fill="#2e2e9e" textLength="10.40" lengthAdjust="spacingAndGlyphs" fill-opacity="0.8">CD53</text>
<text x="171.20" y="510.50" font-size="4.1" fill="#2e2e9e" textLength="6.80" lengthAdjust="spacingAndGlyphs" fill-opacity="0.8">TNC</text>
<text x="168.90" y="514.20" font-size="4.1" fill="#2e2e9e" textLength="31.10" lengthAdjust="spacingAndGlyphs" fill-opacity="0.8">TIMP4 EPHB2 SVEP1</text>
<text x="157.30" y="518.10" font-size="4.1" fill="#2e2e9e" textLength="28.90" lengthAdjust="spacingAndGlyphs" fill-opacity="0.8">PTN TNFRSF1B</text>
<text x="195.40" y="518.10" font-size="4.1" fill="#2e2e9e" textLength="11.60" lengthAdjust="spacingAndGlyphs" fill-opacity="0.8">REG1A</text>
<text x="147.00" y="522.70" font-size="4.1" fill="#2e2e9e" textLength="8.00" lengthAdjust="spacingAndGlyphs" fill-opacity="0.8">DLL1</text>
<text x="163.00" y="521.50" font-size="4.1" fill="#2e2e9e" textLength="10.00" lengthAdjust="spacingAndGlyphs" fill-opacity="0.8">CCL7</text>
<text x="179.30" y="525.00" font-size="4.1" fill="#2e2e9e" textLength="28.80" lengthAdjust="spacingAndGlyphs" fill-opacity="0.8">ADIPOQ CXCL13</text>
<text x="157.30" y="527.30" font-size="4.1" fill="#2e2e9e" textLength="7.70" lengthAdjust="spacingAndGlyphs" fill-opacity="0.8">FGB</text>
<text x="164.20" y="530.30" font-size="4.1" fill="#2e2e9e" textLength="50.80" lengthAdjust="spacingAndGlyphs" fill-opacity="0.8">TNFRSF21 IL1RL1 PLA2G2A</text>
<text x="147.00" y="531.50" font-size="4.1" fill="#2e2e9e" textLength="11.00" lengthAdjust="spacingAndGlyphs" fill-opacity="0.8">CCL15</text>
<text x="149.20" y="535.90" font-size="4.1" fill="#2e2e9e" textLength="13.80" lengthAdjust="spacingAndGlyphs" fill-opacity="0.8">TNFRSF1A</text>
<text x="190.00" y="534.20" font-size="4.1" fill="#2e2e9e" textLength="10.00" lengthAdjust="spacingAndGlyphs" fill-opacity="0.8">AGER</text>
<text x="201.20" y="536.50" font-size="4.1" fill="#2e2e9e" textLength="9.20" lengthAdjust="spacingAndGlyphs" fill-opacity="0.8">PRDM</text>
<text x="165.00" y="538.00" font-size="4.1" fill="#2e2e9e" textLength="19.00" lengthAdjust="spacingAndGlyphs" fill-opacity="0.8">IGAM1 CA3</text>
<text x="451.30" y="486.50" font-size="4.1" fill="#e0301c" textLength="12.20" lengthAdjust="spacingAndGlyphs" fill-opacity="1">IGFBP3</text>
<text x="485.00" y="485.40" font-size="4.1" fill="#c8448c" textLength="7.00" lengthAdjust="spacingAndGlyphs" fill-opacity="0.8">EPO</text>
<text x="430.00" y="490.00" font-size="4.1" fill="#8a44b0" textLength="18.50" lengthAdjust="spacingAndGlyphs" fill-opacity="0.8">TNFRSF1A</text>
<text x="457.70" y="490.50" font-size="4.1" fill="#26368e" textLength="9.30" lengthAdjust="spacingAndGlyphs" fill-opacity="0.8">MBL1</text>
<text x="469.70" y="490.00" font-size="4.1" fill="#e0301c" textLength="13.00" lengthAdjust="spacingAndGlyphs" fill-opacity="1">IGFBP1</text>
<text x="420.30" y="494.50" font-size="4.1" fill="#26368e" textLength="13.90" lengthAdjust="spacingAndGlyphs" fill-opacity="0.8">CHRDL1</text>
<text x="435.80" y="495.30" font-size="4.1" fill="#8a44b0" textLength="13.20" lengthAdjust="spacingAndGlyphs" fill-opacity="0.8">HAVCR2</text>
<text x="451.30" y="496.50" font-size="4.1" fill="#e0301c" textLength="11.50" lengthAdjust="spacingAndGlyphs" fill-opacity="1">IGFBP2</text>
<text x="464.70" y="496.50" font-size="4.1" fill="#e0301c" textLength="11.10" lengthAdjust="spacingAndGlyphs" fill-opacity="1">GDF15</text>
<text x="424.20" y="499.70" font-size="4.1" fill="#8a44b0" textLength="8.10" lengthAdjust="spacingAndGlyphs" fill-opacity="0.8">CD30</text>
<text x="437.40" y="502.20" font-size="4.1" fill="#8a44b0" textLength="17.60" lengthAdjust="spacingAndGlyphs" fill-opacity="0.8">TNFRSF1B</text>
<text x="412.70" y="506.10" font-size="4.1" fill="#8a44b0" textLength="17.30" lengthAdjust="spacingAndGlyphs" fill-opacity="0.8">TNFRSF1B</text>
<text x="423.00" y="514.20" font-size="4.1" fill="#8a44b0" textLength="11.20" lengthAdjust="spacingAndGlyphs" fill-opacity="0.8">EPHA2</text>
<text x="483.60" y="513.80" font-size="4.1" fill="#e0301c" textLength="9.20" lengthAdjust="spacingAndGlyphs" fill-opacity="1">MMP9</text>
<text x="417.30" y="520.70" font-size="4.1" fill="#8a44b0" textLength="12.70" lengthAdjust="spacingAndGlyphs" fill-opacity="0.8">CD200A</text>
<text x="345.00" y="509.50" font-size="4.1" fill="#26368e" textLength="10.00" lengthAdjust="spacingAndGlyphs" fill-opacity="0.8">BMP1</text>
</svg></div></body></html>
